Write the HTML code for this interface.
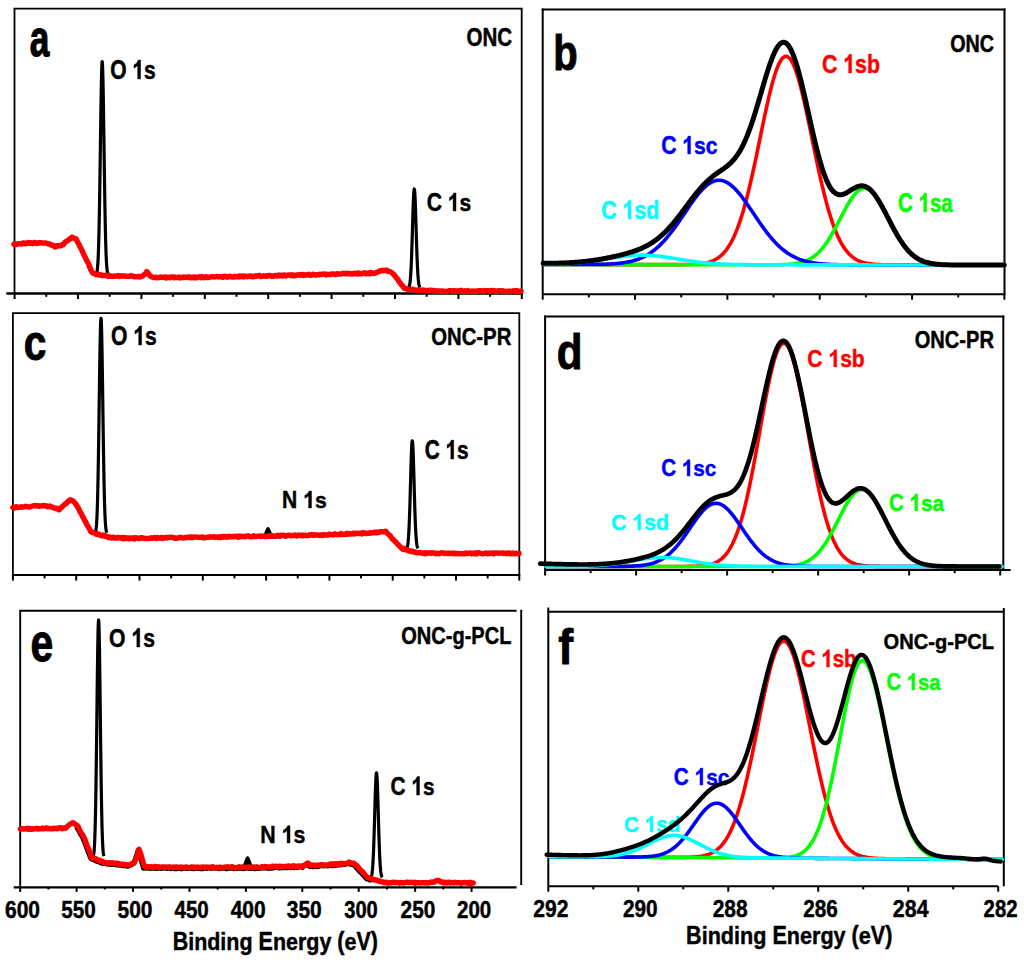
<!DOCTYPE html>
<html><head><meta charset="utf-8"><title>XPS spectra</title>
<style>html,body{margin:0;padding:0;background:#fff;}svg{display:block;}
text{font-family:"Liberation Sans", sans-serif;font-weight:bold;}</style></head>
<body><svg width="1024" height="965" viewBox="0 0 1024 965">
<rect width="1024" height="965" fill="#fff"/>
<g transform="translate(29.84,56.00) scale(0.6529,1)"><text transform="translate(0.00,0) scale(1,0.9446)" font-size="54.04" fill="#000000" stroke="#000000" stroke-width="1.225" stroke-linejoin="round">a</text></g>
<g transform="translate(553.20,70.00) scale(0.7568,1)"><text transform="translate(0.00,0) scale(1,0.9446)" font-size="52.86" fill="#000000" stroke="#000000" stroke-width="1.057" stroke-linejoin="round">b</text></g>
<g transform="translate(23.67,360.00) scale(0.7626,1)"><text transform="translate(0.00,0) scale(1,0.9446)" font-size="53.27" fill="#000000" stroke="#000000" stroke-width="1.049" stroke-linejoin="round">c</text></g>
<g transform="translate(556.81,369.00) scale(0.7856,1)"><text transform="translate(0.00,0) scale(1,0.9446)" font-size="53.71" fill="#000000" stroke="#000000" stroke-width="1.018" stroke-linejoin="round">d</text></g>
<g transform="translate(30.47,661.00) scale(0.7322,1)"><text transform="translate(0.00,0) scale(1,0.9446)" font-size="55.77" fill="#000000" stroke="#000000" stroke-width="1.093" stroke-linejoin="round">e</text></g>
<g transform="translate(558.30,664.00) scale(0.8453,1)"><text transform="translate(0.00,0) scale(1,0.9446)" font-size="53.04" fill="#000000" stroke="#000000" stroke-width="0.946" stroke-linejoin="round">f</text></g>
<g transform="translate(466.58,46.00) scale(0.7915,1)"><text x="0.00" y="0" font-size="25.92" fill="#000000" stroke="#000000" stroke-width="0.505" stroke-linejoin="round" xml:space="preserve">ONC</text></g>
<g transform="translate(950.21,52.00) scale(0.8256,1)"><text x="0.00" y="0" font-size="23.94" fill="#000000" stroke="#000000" stroke-width="0.485" stroke-linejoin="round" xml:space="preserve">ONC</text></g>
<g transform="translate(431.19,345.00) scale(0.8594,1)"><text x="0.00" y="0" font-size="23.66" fill="#000000" stroke="#000000" stroke-width="0.465" stroke-linejoin="round" xml:space="preserve">ONC-PR</text></g>
<g transform="translate(914.70,348.00) scale(0.8347,1)"><text x="0.00" y="0" font-size="24.08" fill="#000000" stroke="#000000" stroke-width="0.479" stroke-linejoin="round" xml:space="preserve">ONC-PR</text></g>
<g transform="translate(401.20,644.00) scale(0.8183,1)"><text x="0.00" y="0" font-size="24.51" fill="#000000" stroke="#000000" stroke-width="0.489" stroke-linejoin="round" xml:space="preserve">ONC-</text><text transform="translate(62.62,0) scale(1,0.9446)" font-size="24.51" fill="#000000" stroke="#000000" stroke-width="0.489" stroke-linejoin="round">g</text><text x="77.59" y="0" font-size="24.51" fill="#000000" stroke="#000000" stroke-width="0.489" stroke-linejoin="round" xml:space="preserve">-PCL</text></g>
<g transform="translate(883.60,649.00) scale(0.9086,1)"><text x="0.00" y="0" font-size="22.11" fill="#000000" stroke="#000000" stroke-width="0.440" stroke-linejoin="round" xml:space="preserve">ONC-</text><text transform="translate(56.50,0) scale(1,0.9446)" font-size="22.11" fill="#000000" stroke="#000000" stroke-width="0.440" stroke-linejoin="round">g</text><text x="70.01" y="0" font-size="22.11" fill="#000000" stroke="#000000" stroke-width="0.440" stroke-linejoin="round" xml:space="preserve">-PCL</text></g>
<g transform="translate(110.16,79.00) scale(0.7836,1)"><text x="0.00" y="0" font-size="26.81" fill="#000000" stroke="#000000" stroke-width="0.510" stroke-linejoin="round" xml:space="preserve">O </text><path transform="translate(28.30,0) scale(0.01309,-0.01283)" d="M803 0L522 0L522 1059Q368 915 159 846L159 1101Q269 1137 398 1237Q527 1338 575 1472L803 1472Z" fill="#000000" stroke="#000000" stroke-width="39.001" stroke-linejoin="round"/><text transform="translate(43.21,0) scale(1,0.9446)" font-size="26.81" fill="#000000" stroke="#000000" stroke-width="0.510" stroke-linejoin="round">s</text></g>
<g transform="translate(426.66,211.00) scale(0.8250,1)"><text x="0.00" y="0" font-size="25.56" fill="#000000" stroke="#000000" stroke-width="0.485" stroke-linejoin="round" xml:space="preserve">C </text><path transform="translate(25.56,0) scale(0.01248,-0.01223)" d="M803 0L522 0L522 1059Q368 915 159 846L159 1101Q269 1137 398 1237Q527 1338 575 1472L803 1472Z" fill="#000000" stroke="#000000" stroke-width="38.855" stroke-linejoin="round"/><text transform="translate(39.77,0) scale(1,0.9446)" font-size="25.56" fill="#000000" stroke="#000000" stroke-width="0.485" stroke-linejoin="round">s</text></g>
<g transform="translate(111.06,345.00) scale(0.7831,1)"><text x="0.00" y="0" font-size="26.94" fill="#000000" stroke="#000000" stroke-width="0.511" stroke-linejoin="round" xml:space="preserve">O </text><path transform="translate(28.44,0) scale(0.01316,-0.01289)" d="M803 0L522 0L522 1059Q368 915 159 846L159 1101Q269 1137 398 1237Q527 1338 575 1472L803 1472Z" fill="#000000" stroke="#000000" stroke-width="38.824" stroke-linejoin="round"/><text transform="translate(43.43,0) scale(1,0.9446)" font-size="26.94" fill="#000000" stroke="#000000" stroke-width="0.511" stroke-linejoin="round">s</text></g>
<g transform="translate(424.67,459.00) scale(0.7774,1)"><text x="0.00" y="0" font-size="26.81" fill="#000000" stroke="#000000" stroke-width="0.515" stroke-linejoin="round" xml:space="preserve">C </text><path transform="translate(26.81,0) scale(0.01309,-0.01283)" d="M803 0L522 0L522 1059Q368 915 159 846L159 1101Q269 1137 398 1237Q527 1338 575 1472L803 1472Z" fill="#000000" stroke="#000000" stroke-width="39.314" stroke-linejoin="round"/><text transform="translate(41.71,0) scale(1,0.9446)" font-size="26.81" fill="#000000" stroke="#000000" stroke-width="0.515" stroke-linejoin="round">s</text></g>
<g transform="translate(282.12,508.00) scale(0.8731,1)"><text x="0.00" y="0" font-size="24.17" fill="#000000" stroke="#000000" stroke-width="0.458" stroke-linejoin="round" xml:space="preserve">N </text><path transform="translate(24.17,0) scale(0.01180,-0.01156)" d="M803 0L522 0L522 1059Q368 915 159 846L159 1101Q269 1137 398 1237Q527 1338 575 1472L803 1472Z" fill="#000000" stroke="#000000" stroke-width="38.825" stroke-linejoin="round"/><text transform="translate(37.61,0) scale(1,0.9446)" font-size="24.17" fill="#000000" stroke="#000000" stroke-width="0.458" stroke-linejoin="round">s</text></g>
<g transform="translate(109.05,647.00) scale(0.7949,1)"><text x="0.00" y="0" font-size="26.67" fill="#000000" stroke="#000000" stroke-width="0.503" stroke-linejoin="round" xml:space="preserve">O </text><path transform="translate(28.15,0) scale(0.01302,-0.01276)" d="M803 0L522 0L522 1059Q368 915 159 846L159 1101Q269 1137 398 1237Q527 1338 575 1472L803 1472Z" fill="#000000" stroke="#000000" stroke-width="38.648" stroke-linejoin="round"/><text transform="translate(42.98,0) scale(1,0.9446)" font-size="26.67" fill="#000000" stroke="#000000" stroke-width="0.503" stroke-linejoin="round">s</text></g>
<g transform="translate(390.57,795.00) scale(0.7961,1)"><text x="0.00" y="0" font-size="26.11" fill="#000000" stroke="#000000" stroke-width="0.502" stroke-linejoin="round" xml:space="preserve">C </text><path transform="translate(26.11,0) scale(0.01275,-0.01249)" d="M803 0L522 0L522 1059Q368 915 159 846L159 1101Q269 1137 398 1237Q527 1338 575 1472L803 1472Z" fill="#000000" stroke="#000000" stroke-width="39.407" stroke-linejoin="round"/><text transform="translate(40.63,0) scale(1,0.9446)" font-size="26.11" fill="#000000" stroke="#000000" stroke-width="0.502" stroke-linejoin="round">s</text></g>
<g transform="translate(260.31,843.00) scale(0.8685,1)"><text x="0.00" y="0" font-size="24.58" fill="#000000" stroke="#000000" stroke-width="0.461" stroke-linejoin="round" xml:space="preserve">N </text><path transform="translate(24.58,0) scale(0.01200,-0.01176)" d="M803 0L522 0L522 1059Q368 915 159 846L159 1101Q269 1137 398 1237Q527 1338 575 1472L803 1472Z" fill="#000000" stroke="#000000" stroke-width="38.370" stroke-linejoin="round"/><text transform="translate(38.26,0) scale(1,0.9446)" font-size="24.58" fill="#000000" stroke="#000000" stroke-width="0.461" stroke-linejoin="round">s</text></g>
<g transform="translate(821.95,73.00) scale(0.8025,1)"><text x="0.00" y="0" font-size="26.53" fill="#ff0000" stroke="#ff0000" stroke-width="0.498" stroke-linejoin="round" xml:space="preserve">C </text><path transform="translate(26.53,0) scale(0.01295,-0.01269)" d="M803 0L522 0L522 1059Q368 915 159 846L159 1101Q269 1137 398 1237Q527 1338 575 1472L803 1472Z" fill="#ff0000" stroke="#ff0000" stroke-width="38.482" stroke-linejoin="round"/><text transform="translate(41.28,0) scale(1,0.9446)" font-size="26.53" fill="#ff0000" stroke="#ff0000" stroke-width="0.498" stroke-linejoin="round">sb</text></g>
<g transform="translate(661.15,154.00) scale(0.8323,1)"><text x="0.00" y="0" font-size="25.42" fill="#0000ff" stroke="#0000ff" stroke-width="0.481" stroke-linejoin="round" xml:space="preserve">C </text><path transform="translate(25.42,0) scale(0.01241,-0.01216)" d="M803 0L522 0L522 1059Q368 915 159 846L159 1101Q269 1137 398 1237Q527 1338 575 1472L803 1472Z" fill="#0000ff" stroke="#0000ff" stroke-width="38.726" stroke-linejoin="round"/><text transform="translate(39.55,0) scale(1,0.9446)" font-size="25.42" fill="#0000ff" stroke="#0000ff" stroke-width="0.481" stroke-linejoin="round">sc</text></g>
<g transform="translate(601.35,219.00) scale(0.7972,1)"><text x="0.00" y="0" font-size="26.67" fill="#00ffff" stroke="#00ffff" stroke-width="0.502" stroke-linejoin="round" xml:space="preserve">C </text><path transform="translate(26.67,0) scale(0.01302,-0.01276)" d="M803 0L522 0L522 1059Q368 915 159 846L159 1101Q269 1137 398 1237Q527 1338 575 1472L803 1472Z" fill="#00ffff" stroke="#00ffff" stroke-width="38.533" stroke-linejoin="round"/><text transform="translate(41.50,0) scale(1,0.9446)" font-size="26.67" fill="#00ffff" stroke="#00ffff" stroke-width="0.502" stroke-linejoin="round">sd</text></g>
<g transform="translate(897.98,212.00) scale(0.7619,1)"><text x="0.00" y="0" font-size="26.94" fill="#00ff00" stroke="#00ff00" stroke-width="0.525" stroke-linejoin="round" xml:space="preserve">C </text><path transform="translate(26.94,0) scale(0.01316,-0.01289)" d="M803 0L522 0L522 1059Q368 915 159 846L159 1101Q269 1137 398 1237Q527 1338 575 1472L803 1472Z" fill="#00ff00" stroke="#00ff00" stroke-width="39.902" stroke-linejoin="round"/><text transform="translate(41.93,0) scale(1,0.9446)" font-size="26.94" fill="#00ff00" stroke="#00ff00" stroke-width="0.525" stroke-linejoin="round">sa</text></g>
<g transform="translate(807.36,367.00) scale(0.8616,1)"><text x="0.00" y="0" font-size="24.44" fill="#ff0000" stroke="#ff0000" stroke-width="0.464" stroke-linejoin="round" xml:space="preserve">C </text><path transform="translate(24.44,0) scale(0.01194,-0.01170)" d="M803 0L522 0L522 1059Q368 915 159 846L159 1101Q269 1137 398 1237Q527 1338 575 1472L803 1472Z" fill="#ff0000" stroke="#ff0000" stroke-width="38.897" stroke-linejoin="round"/><text transform="translate(38.04,0) scale(1,0.9446)" font-size="24.44" fill="#ff0000" stroke="#ff0000" stroke-width="0.464" stroke-linejoin="round">sb</text></g>
<g transform="translate(661.17,476.00) scale(0.8921,1)"><text x="0.00" y="0" font-size="23.19" fill="#0000ff" stroke="#0000ff" stroke-width="0.448" stroke-linejoin="round" xml:space="preserve">C </text><path transform="translate(23.19,0) scale(0.01133,-0.01110)" d="M803 0L522 0L522 1059Q368 915 159 846L159 1101Q269 1137 398 1237Q527 1338 575 1472L803 1472Z" fill="#0000ff" stroke="#0000ff" stroke-width="39.590" stroke-linejoin="round"/><text transform="translate(36.09,0) scale(1,0.9446)" font-size="23.19" fill="#0000ff" stroke="#0000ff" stroke-width="0.448" stroke-linejoin="round">sc</text></g>
<g transform="translate(611.15,530.00) scale(0.9449,1)"><text x="0.00" y="0" font-size="22.50" fill="#00ffff" stroke="#00ffff" stroke-width="0.423" stroke-linejoin="round" xml:space="preserve">C </text><path transform="translate(22.50,0) scale(0.01099,-0.01077)" d="M803 0L522 0L522 1059Q368 915 159 846L159 1101Q269 1137 398 1237Q527 1338 575 1472L803 1472Z" fill="#00ffff" stroke="#00ffff" stroke-width="38.533" stroke-linejoin="round"/><text transform="translate(35.01,0) scale(1,0.9446)" font-size="22.50" fill="#00ffff" stroke="#00ffff" stroke-width="0.423" stroke-linejoin="round">sd</text></g>
<g transform="translate(888.98,511.00) scale(0.8478,1)"><text x="0.00" y="0" font-size="24.31" fill="#00ff00" stroke="#00ff00" stroke-width="0.472" stroke-linejoin="round" xml:space="preserve">C </text><path transform="translate(24.31,0) scale(0.01187,-0.01163)" d="M803 0L522 0L522 1059Q368 915 159 846L159 1101Q269 1137 398 1237Q527 1338 575 1472L803 1472Z" fill="#00ff00" stroke="#00ff00" stroke-width="39.755" stroke-linejoin="round"/><text transform="translate(37.82,0) scale(1,0.9446)" font-size="24.31" fill="#00ff00" stroke="#00ff00" stroke-width="0.472" stroke-linejoin="round">sa</text></g>
<g transform="translate(800.98,667.00) scale(0.8352,1)"><text x="0.00" y="0" font-size="24.44" fill="#ff0000" stroke="#ff0000" stroke-width="0.479" stroke-linejoin="round" xml:space="preserve">C </text><path transform="translate(24.44,0) scale(0.01194,-0.01170)" d="M803 0L522 0L522 1059Q368 915 159 846L159 1101Q269 1137 398 1237Q527 1338 575 1472L803 1472Z" fill="#ff0000" stroke="#ff0000" stroke-width="40.124" stroke-linejoin="round"/><text transform="translate(38.04,0) scale(1,0.9446)" font-size="24.44" fill="#ff0000" stroke="#ff0000" stroke-width="0.479" stroke-linejoin="round">sb</text></g>
<g transform="translate(673.87,785.00) scale(0.8660,1)"><text x="0.00" y="0" font-size="24.03" fill="#0000ff" stroke="#0000ff" stroke-width="0.462" stroke-linejoin="round" xml:space="preserve">C </text><path transform="translate(24.03,0) scale(0.01173,-0.01150)" d="M803 0L522 0L522 1059Q368 915 159 846L159 1101Q269 1137 398 1237Q527 1338 575 1472L803 1472Z" fill="#0000ff" stroke="#0000ff" stroke-width="39.370" stroke-linejoin="round"/><text transform="translate(37.39,0) scale(1,0.9446)" font-size="24.03" fill="#0000ff" stroke="#0000ff" stroke-width="0.462" stroke-linejoin="round">sc</text></g>
<g transform="translate(624.07,832.00) scale(0.9211,1)"><text x="0.00" y="0" font-size="22.50" fill="#00ffff" stroke="#00ffff" stroke-width="0.434" stroke-linejoin="round" xml:space="preserve">C </text><path transform="translate(22.50,0) scale(0.01099,-0.01077)" d="M803 0L522 0L522 1059Q368 915 159 846L159 1101Q269 1137 398 1237Q527 1338 575 1472L803 1472Z" fill="#00ffff" stroke="#00ffff" stroke-width="39.527" stroke-linejoin="round"/><text transform="translate(35.01,0) scale(1,0.9446)" font-size="22.50" fill="#00ffff" stroke="#00ffff" stroke-width="0.434" stroke-linejoin="round">sd</text></g>
<g transform="translate(886.39,690.00) scale(0.8599,1)"><text x="0.00" y="0" font-size="23.61" fill="#00ff00" stroke="#00ff00" stroke-width="0.465" stroke-linejoin="round" xml:space="preserve">C </text><path transform="translate(23.61,0) scale(0.01153,-0.01130)" d="M803 0L522 0L522 1059Q368 915 159 846L159 1101Q269 1137 398 1237Q527 1338 575 1472L803 1472Z" fill="#00ff00" stroke="#00ff00" stroke-width="40.349" stroke-linejoin="round"/><text transform="translate(36.74,0) scale(1,0.9446)" font-size="23.61" fill="#00ff00" stroke="#00ff00" stroke-width="0.465" stroke-linejoin="round">sa</text></g>
<g transform="translate(4.96,918.00) scale(0.8621,1)"><text x="0.00" y="0" font-size="24.37" fill="#000000" stroke="#000000" stroke-width="0.464" stroke-linejoin="round" xml:space="preserve">600</text></g>
<g transform="translate(61.28,918.00) scale(0.8490,1)"><text x="0.00" y="0" font-size="24.37" fill="#000000" stroke="#000000" stroke-width="0.471" stroke-linejoin="round" xml:space="preserve">550</text></g>
<g transform="translate(117.57,918.00) scale(0.8593,1)"><text x="0.00" y="0" font-size="24.37" fill="#000000" stroke="#000000" stroke-width="0.466" stroke-linejoin="round" xml:space="preserve">500</text></g>
<g transform="translate(174.49,918.00) scale(0.8438,1)"><text x="0.00" y="0" font-size="24.37" fill="#000000" stroke="#000000" stroke-width="0.474" stroke-linejoin="round" xml:space="preserve">450</text></g>
<g transform="translate(230.68,918.00) scale(0.8616,1)"><text x="0.00" y="0" font-size="24.37" fill="#000000" stroke="#000000" stroke-width="0.464" stroke-linejoin="round" xml:space="preserve">400</text></g>
<g transform="translate(286.78,918.00) scale(0.8616,1)"><text x="0.00" y="0" font-size="24.37" fill="#000000" stroke="#000000" stroke-width="0.464" stroke-linejoin="round" xml:space="preserve">350</text></g>
<g transform="translate(344.20,918.00) scale(0.8259,1)"><text x="0.00" y="0" font-size="24.37" fill="#000000" stroke="#000000" stroke-width="0.484" stroke-linejoin="round" xml:space="preserve">300</text></g>
<g transform="translate(400.58,918.00) scale(0.8542,1)"><text x="0.00" y="0" font-size="24.37" fill="#000000" stroke="#000000" stroke-width="0.468" stroke-linejoin="round" xml:space="preserve">250</text></g>
<g transform="translate(456.98,918.00) scale(0.8439,1)"><text x="0.00" y="0" font-size="24.37" fill="#000000" stroke="#000000" stroke-width="0.474" stroke-linejoin="round" xml:space="preserve">200</text></g>
<g transform="translate(533.27,917.00) scale(0.8797,1)"><text x="0.00" y="0" font-size="23.94" fill="#000000" stroke="#000000" stroke-width="0.455" stroke-linejoin="round" xml:space="preserve">292</text></g>
<g transform="translate(622.88,917.00) scale(0.8692,1)"><text x="0.00" y="0" font-size="23.94" fill="#000000" stroke="#000000" stroke-width="0.460" stroke-linejoin="round" xml:space="preserve">290</text></g>
<g transform="translate(712.67,917.00) scale(0.8768,1)"><text x="0.00" y="0" font-size="23.94" fill="#000000" stroke="#000000" stroke-width="0.456" stroke-linejoin="round" xml:space="preserve">288</text></g>
<g transform="translate(803.18,917.00) scale(0.8666,1)"><text x="0.00" y="0" font-size="23.94" fill="#000000" stroke="#000000" stroke-width="0.462" stroke-linejoin="round" xml:space="preserve">286</text></g>
<g transform="translate(892.86,917.00) scale(0.8942,1)"><text x="0.00" y="0" font-size="23.94" fill="#000000" stroke="#000000" stroke-width="0.447" stroke-linejoin="round" xml:space="preserve">284</text></g>
<g transform="translate(983.59,917.00) scale(0.8483,1)"><text x="0.00" y="0" font-size="23.94" fill="#000000" stroke="#000000" stroke-width="0.472" stroke-linejoin="round" xml:space="preserve">282</text></g>
<g transform="translate(172.70,950.00) scale(0.8515,1)"><text x="0.00" y="0" font-size="25.22" fill="#000000" stroke="#000000" stroke-width="0.470" stroke-linejoin="round" xml:space="preserve">B</text><text transform="translate(18.21,0) scale(1,0.9446)" font-size="25.22" fill="#000000" stroke="#000000" stroke-width="0.470" stroke-linejoin="round">inding</text><text x="93.84" y="0" font-size="25.22" fill="#000000" stroke="#000000" stroke-width="0.470" stroke-linejoin="round" xml:space="preserve"> E</text><text transform="translate(117.66,0) scale(1,0.9446)" font-size="25.22" fill="#000000" stroke="#000000" stroke-width="0.470" stroke-linejoin="round">nergy</text><text x="186.34" y="0" font-size="25.22" fill="#000000" stroke="#000000" stroke-width="0.470" stroke-linejoin="round" xml:space="preserve"> (</text><text transform="translate(201.74,0) scale(1,0.9446)" font-size="25.22" fill="#000000" stroke="#000000" stroke-width="0.470" stroke-linejoin="round">e</text><text x="215.76" y="0" font-size="25.22" fill="#000000" stroke="#000000" stroke-width="0.470" stroke-linejoin="round" xml:space="preserve">V)</text></g>
<g transform="translate(686.09,944.00) scale(0.8276,1)"><text x="0.00" y="0" font-size="26.09" fill="#000000" stroke="#000000" stroke-width="0.483" stroke-linejoin="round" xml:space="preserve">B</text><text transform="translate(18.84,0) scale(1,0.9446)" font-size="26.09" fill="#000000" stroke="#000000" stroke-width="0.483" stroke-linejoin="round">inding</text><text x="97.07" y="0" font-size="26.09" fill="#000000" stroke="#000000" stroke-width="0.483" stroke-linejoin="round" xml:space="preserve"> E</text><text transform="translate(121.72,0) scale(1,0.9446)" font-size="26.09" fill="#000000" stroke="#000000" stroke-width="0.483" stroke-linejoin="round">nergy</text><text x="192.76" y="0" font-size="26.09" fill="#000000" stroke="#000000" stroke-width="0.483" stroke-linejoin="round" xml:space="preserve"> (</text><text transform="translate(208.70,0) scale(1,0.9446)" font-size="26.09" fill="#000000" stroke="#000000" stroke-width="0.483" stroke-linejoin="round">e</text><text x="223.20" y="0" font-size="26.09" fill="#000000" stroke="#000000" stroke-width="0.483" stroke-linejoin="round" xml:space="preserve">V)</text></g>
<line x1="14.50" y1="8.60" x2="14.50" y2="293.50" stroke="#000000" stroke-width="1.8" stroke-linecap="butt"/>
<line x1="13.60" y1="8.60" x2="522.60" y2="8.60" stroke="#000000" stroke-width="1.8" stroke-linecap="butt"/>
<line x1="521.70" y1="8.60" x2="521.70" y2="293.50" stroke="#000000" stroke-width="1.8" stroke-linecap="butt"/>
<line x1="6.30" y1="293.50" x2="522.60" y2="293.50" stroke="#000000" stroke-width="2.3" stroke-linecap="butt"/>
<line x1="14.60" y1="293.50" x2="14.60" y2="299.00" stroke="#000000" stroke-width="2" stroke-linecap="butt"/>
<line x1="46.30" y1="293.50" x2="46.30" y2="296.80" stroke="#000000" stroke-width="2" stroke-linecap="butt"/>
<line x1="78.00" y1="293.50" x2="78.00" y2="299.00" stroke="#000000" stroke-width="2" stroke-linecap="butt"/>
<line x1="109.70" y1="293.50" x2="109.70" y2="296.80" stroke="#000000" stroke-width="2" stroke-linecap="butt"/>
<line x1="141.40" y1="293.50" x2="141.40" y2="299.00" stroke="#000000" stroke-width="2" stroke-linecap="butt"/>
<line x1="173.10" y1="293.50" x2="173.10" y2="296.80" stroke="#000000" stroke-width="2" stroke-linecap="butt"/>
<line x1="204.80" y1="293.50" x2="204.80" y2="299.00" stroke="#000000" stroke-width="2" stroke-linecap="butt"/>
<line x1="236.50" y1="293.50" x2="236.50" y2="296.80" stroke="#000000" stroke-width="2" stroke-linecap="butt"/>
<line x1="268.20" y1="293.50" x2="268.20" y2="299.00" stroke="#000000" stroke-width="2" stroke-linecap="butt"/>
<line x1="299.90" y1="293.50" x2="299.90" y2="296.80" stroke="#000000" stroke-width="2" stroke-linecap="butt"/>
<line x1="331.60" y1="293.50" x2="331.60" y2="299.00" stroke="#000000" stroke-width="2" stroke-linecap="butt"/>
<line x1="363.30" y1="293.50" x2="363.30" y2="296.80" stroke="#000000" stroke-width="2" stroke-linecap="butt"/>
<line x1="395.00" y1="293.50" x2="395.00" y2="299.00" stroke="#000000" stroke-width="2" stroke-linecap="butt"/>
<line x1="426.70" y1="293.50" x2="426.70" y2="296.80" stroke="#000000" stroke-width="2" stroke-linecap="butt"/>
<line x1="458.40" y1="293.50" x2="458.40" y2="299.00" stroke="#000000" stroke-width="2" stroke-linecap="butt"/>
<line x1="490.10" y1="293.50" x2="490.10" y2="296.80" stroke="#000000" stroke-width="2" stroke-linecap="butt"/>
<line x1="521.80" y1="293.50" x2="521.80" y2="299.00" stroke="#000000" stroke-width="2" stroke-linecap="butt"/>
<line x1="12.90" y1="313.20" x2="12.90" y2="575.00" stroke="#000000" stroke-width="1.8" stroke-linecap="butt"/>
<line x1="12.00" y1="313.20" x2="520.20" y2="313.20" stroke="#000000" stroke-width="1.8" stroke-linecap="butt"/>
<line x1="519.30" y1="313.20" x2="519.30" y2="575.00" stroke="#000000" stroke-width="1.8" stroke-linecap="butt"/>
<line x1="12.00" y1="575.00" x2="520.20" y2="575.00" stroke="#000000" stroke-width="2.1" stroke-linecap="butt"/>
<line x1="12.90" y1="575.00" x2="12.90" y2="580.60" stroke="#000000" stroke-width="2" stroke-linecap="butt"/>
<line x1="44.55" y1="575.00" x2="44.55" y2="578.40" stroke="#000000" stroke-width="2" stroke-linecap="butt"/>
<line x1="76.20" y1="575.00" x2="76.20" y2="580.60" stroke="#000000" stroke-width="2" stroke-linecap="butt"/>
<line x1="107.85" y1="575.00" x2="107.85" y2="578.40" stroke="#000000" stroke-width="2" stroke-linecap="butt"/>
<line x1="139.50" y1="575.00" x2="139.50" y2="580.60" stroke="#000000" stroke-width="2" stroke-linecap="butt"/>
<line x1="171.15" y1="575.00" x2="171.15" y2="578.40" stroke="#000000" stroke-width="2" stroke-linecap="butt"/>
<line x1="202.80" y1="575.00" x2="202.80" y2="580.60" stroke="#000000" stroke-width="2" stroke-linecap="butt"/>
<line x1="234.45" y1="575.00" x2="234.45" y2="578.40" stroke="#000000" stroke-width="2" stroke-linecap="butt"/>
<line x1="266.10" y1="575.00" x2="266.10" y2="580.60" stroke="#000000" stroke-width="2" stroke-linecap="butt"/>
<line x1="297.75" y1="575.00" x2="297.75" y2="578.40" stroke="#000000" stroke-width="2" stroke-linecap="butt"/>
<line x1="329.40" y1="575.00" x2="329.40" y2="580.60" stroke="#000000" stroke-width="2" stroke-linecap="butt"/>
<line x1="361.05" y1="575.00" x2="361.05" y2="578.40" stroke="#000000" stroke-width="2" stroke-linecap="butt"/>
<line x1="392.70" y1="575.00" x2="392.70" y2="580.60" stroke="#000000" stroke-width="2" stroke-linecap="butt"/>
<line x1="424.35" y1="575.00" x2="424.35" y2="578.40" stroke="#000000" stroke-width="2" stroke-linecap="butt"/>
<line x1="456.00" y1="575.00" x2="456.00" y2="580.60" stroke="#000000" stroke-width="2" stroke-linecap="butt"/>
<line x1="487.65" y1="575.00" x2="487.65" y2="578.40" stroke="#000000" stroke-width="2" stroke-linecap="butt"/>
<line x1="519.30" y1="575.00" x2="519.30" y2="580.60" stroke="#000000" stroke-width="2" stroke-linecap="butt"/>
<line x1="20.20" y1="610.70" x2="20.20" y2="887.30" stroke="#000000" stroke-width="1.9" stroke-linecap="butt"/>
<line x1="19.30" y1="610.70" x2="516.60" y2="610.70" stroke="#000000" stroke-width="1.9" stroke-linecap="butt"/>
<line x1="521.20" y1="609.80" x2="521.20" y2="885.00" stroke="#000000" stroke-width="1.9" stroke-linecap="butt"/>
<line x1="13.70" y1="887.30" x2="516.60" y2="887.30" stroke="#000000" stroke-width="2.3" stroke-linecap="butt"/>
<line x1="20.20" y1="887.30" x2="20.20" y2="891.90" stroke="#000000" stroke-width="2" stroke-linecap="butt"/>
<line x1="48.41" y1="887.30" x2="48.41" y2="889.50" stroke="#000000" stroke-width="2" stroke-linecap="butt"/>
<line x1="76.62" y1="887.30" x2="76.62" y2="891.90" stroke="#000000" stroke-width="2" stroke-linecap="butt"/>
<line x1="104.83" y1="887.30" x2="104.83" y2="889.50" stroke="#000000" stroke-width="2" stroke-linecap="butt"/>
<line x1="133.04" y1="887.30" x2="133.04" y2="891.90" stroke="#000000" stroke-width="2" stroke-linecap="butt"/>
<line x1="161.25" y1="887.30" x2="161.25" y2="889.50" stroke="#000000" stroke-width="2" stroke-linecap="butt"/>
<line x1="189.46" y1="887.30" x2="189.46" y2="891.90" stroke="#000000" stroke-width="2" stroke-linecap="butt"/>
<line x1="217.67" y1="887.30" x2="217.67" y2="889.50" stroke="#000000" stroke-width="2" stroke-linecap="butt"/>
<line x1="245.88" y1="887.30" x2="245.88" y2="891.90" stroke="#000000" stroke-width="2" stroke-linecap="butt"/>
<line x1="274.09" y1="887.30" x2="274.09" y2="889.50" stroke="#000000" stroke-width="2" stroke-linecap="butt"/>
<line x1="302.30" y1="887.30" x2="302.30" y2="891.90" stroke="#000000" stroke-width="2" stroke-linecap="butt"/>
<line x1="330.51" y1="887.30" x2="330.51" y2="889.50" stroke="#000000" stroke-width="2" stroke-linecap="butt"/>
<line x1="358.72" y1="887.30" x2="358.72" y2="891.90" stroke="#000000" stroke-width="2" stroke-linecap="butt"/>
<line x1="386.93" y1="887.30" x2="386.93" y2="889.50" stroke="#000000" stroke-width="2" stroke-linecap="butt"/>
<line x1="415.14" y1="887.30" x2="415.14" y2="891.90" stroke="#000000" stroke-width="2" stroke-linecap="butt"/>
<line x1="443.35" y1="887.30" x2="443.35" y2="889.50" stroke="#000000" stroke-width="2" stroke-linecap="butt"/>
<line x1="471.56" y1="887.30" x2="471.56" y2="891.90" stroke="#000000" stroke-width="2" stroke-linecap="butt"/>
<path d="M96.44,273.72 L96.69,273.03 L96.94,272.01 L97.19,270.56 L97.44,268.53 L97.69,265.75 L97.94,262.02 L98.19,257.15 L98.44,250.91 L98.69,243.11 L98.94,233.59 L99.19,222.25 L99.44,209.10 L99.69,194.25 L99.94,177.93 L100.19,160.55 L100.44,142.63 L100.69,124.83 L100.94,107.89 L101.19,92.60 L101.44,79.71 L101.69,69.90 L101.94,63.72 L102.19,61.50 L102.44,63.39 L102.69,69.27 L102.94,78.80 L103.19,91.47 L103.44,106.60 L103.69,123.43 L103.94,141.19 L104.19,159.13 L104.44,176.57 L104.69,192.99 L104.94,207.98 L105.19,221.27 L105.44,232.75 L105.69,242.41 L105.94,250.34 L106.19,256.70 L106.44,261.68 L106.69,265.49 L106.94,268.34 L107.19,270.42 L107.44,271.92 L107.69,272.96 L107.94,273.68" fill="none" stroke="#000000" stroke-width="3.2" stroke-linejoin="round" stroke-linecap="butt" />
<path d="M408.54,287.41 L408.79,287.09 L409.04,286.62 L409.29,285.94 L409.54,285.00 L409.79,283.71 L410.04,281.98 L410.29,279.72 L410.54,276.83 L410.79,273.21 L411.04,268.80 L411.29,263.54 L411.54,257.44 L411.79,250.55 L412.04,242.99 L412.29,234.93 L412.54,226.62 L412.79,218.37 L413.04,210.51 L413.29,203.42 L413.54,197.44 L413.79,192.90 L414.04,190.03 L414.29,189.00 L414.54,189.88 L414.79,192.60 L415.04,197.02 L415.29,202.90 L415.54,209.91 L415.79,217.72 L416.04,225.95 L416.29,234.27 L416.54,242.36 L416.79,249.97 L417.04,256.92 L417.29,263.08 L417.54,268.41 L417.79,272.89 L418.04,276.57 L418.29,279.51 L418.54,281.82 L418.79,283.59 L419.04,284.91 L419.29,285.88 L419.54,286.57 L419.79,287.05 L420.04,287.39" fill="none" stroke="#000000" stroke-width="3.2" stroke-linejoin="round" stroke-linecap="butt" />
<path d="M95.24,532.71 L95.49,532.01 L95.74,530.98 L95.99,529.52 L96.24,527.46 L96.49,524.65 L96.74,520.89 L96.99,515.96 L97.24,509.66 L97.49,501.78 L97.74,492.16 L97.99,480.71 L98.24,467.42 L98.49,452.41 L98.74,435.93 L98.99,418.37 L99.24,400.26 L99.49,382.28 L99.74,365.17 L99.99,349.72 L100.24,336.69 L100.49,326.79 L100.74,320.54 L100.99,318.30 L101.24,320.21 L101.49,326.15 L101.74,335.78 L101.99,348.58 L102.24,363.86 L102.49,380.87 L102.74,398.81 L102.99,416.93 L103.24,434.56 L103.49,451.15 L103.74,466.28 L103.99,479.72 L104.24,491.31 L104.49,501.07 L104.74,509.09 L104.99,515.51 L105.24,520.54 L105.49,524.39 L105.74,527.27 L105.99,529.38 L106.24,530.88 L106.49,531.94 L106.74,532.66" fill="none" stroke="#000000" stroke-width="3.2" stroke-linejoin="round" stroke-linecap="butt" />
<path d="M406.54,548.35 L406.79,548.00 L407.04,547.49 L407.29,546.75 L407.54,545.72 L407.79,544.31 L408.04,542.42 L408.29,539.95 L408.54,536.79 L408.79,532.84 L409.04,528.01 L409.29,522.27 L409.54,515.60 L409.79,508.07 L410.04,499.81 L410.29,491.00 L410.54,481.92 L410.79,472.89 L411.04,464.31 L411.29,456.56 L411.54,450.03 L411.79,445.06 L412.04,441.92 L412.29,440.80 L412.54,441.76 L412.79,444.74 L413.04,449.57 L413.29,455.99 L413.54,463.66 L413.79,472.19 L414.04,481.19 L414.29,490.28 L414.54,499.12 L414.79,507.44 L415.04,515.03 L415.29,521.77 L415.54,527.59 L415.79,532.48 L416.04,536.50 L416.29,539.73 L416.54,542.25 L416.79,544.18 L417.04,545.62 L417.29,546.68 L417.54,547.44 L417.79,547.97 L418.04,548.33" fill="none" stroke="#000000" stroke-width="3.2" stroke-linejoin="round" stroke-linecap="butt" />
<path d="M93.16,856.58 L93.41,855.75 L93.66,854.51 L93.91,852.70 L94.16,850.13 L94.41,846.58 L94.66,841.76 L94.91,835.41 L95.16,827.25 L95.41,817.04 L95.66,804.61 L95.91,789.89 L96.16,772.96 L96.41,754.11 L96.66,733.79 L96.91,712.67 L97.16,691.61 L97.41,671.56 L97.66,653.57 L97.91,638.63 L98.16,627.65 L98.41,621.28 L98.66,619.95 L98.91,623.73 L99.16,632.38 L99.41,645.36 L99.66,661.88 L99.91,680.99 L100.16,701.65 L100.41,722.86 L100.66,743.69 L100.91,763.38 L101.16,781.35 L101.41,797.24 L101.66,810.86 L101.91,822.21 L102.16,831.41 L102.41,838.67 L102.66,844.25 L102.91,848.42 L103.16,851.48 L103.41,853.65 L103.66,855.16 L103.91,856.19" fill="none" stroke="#000000" stroke-width="3.2" stroke-linejoin="round" stroke-linecap="butt" />
<path d="M370.74,877.37 L370.99,877.03 L371.24,876.53 L371.49,875.81 L371.74,874.81 L371.99,873.44 L372.24,871.61 L372.49,869.20 L372.74,866.13 L372.99,862.29 L373.24,857.59 L373.49,852.01 L373.74,845.53 L373.99,838.21 L374.24,830.17 L374.49,821.60 L374.74,812.78 L374.99,804.01 L375.24,795.66 L375.49,788.12 L375.74,781.77 L375.99,776.94 L376.24,773.89 L376.49,772.80 L376.74,773.73 L376.99,776.63 L377.24,781.32 L377.49,787.57 L377.74,795.02 L377.99,803.32 L378.24,812.07 L378.49,820.90 L378.74,829.50 L378.99,837.59 L379.24,844.97 L379.49,851.52 L379.74,857.18 L379.99,861.94 L380.24,865.85 L380.49,868.98 L380.74,871.44 L380.99,873.31 L381.24,874.72 L381.49,875.74 L381.74,876.48 L381.99,877.00 L382.24,877.35" fill="none" stroke="#000000" stroke-width="3.2" stroke-linejoin="round" stroke-linecap="butt" />
<path d="M260.00,537.94 L260.25,537.92 L260.50,537.89 L260.75,537.85 L261.00,537.80 L261.25,537.73 L261.50,537.65 L261.75,537.55 L262.00,537.43 L262.25,537.28 L262.50,537.09 L262.75,536.88 L263.00,536.62 L263.25,536.32 L263.50,535.98 L263.75,535.60 L264.00,535.16 L264.25,534.69 L264.50,534.17 L264.75,533.62 L265.00,533.04 L265.25,532.43 L265.50,531.81 L265.75,531.20 L266.00,530.59 L266.25,530.02 L266.50,529.48 L266.75,529.00 L267.00,528.58 L267.25,528.25 L267.50,528.00 L267.75,527.85 L268.00,527.80 L268.25,527.85 L268.50,528.00 L268.75,528.25 L269.00,528.58 L269.25,529.00 L269.50,529.48 L269.75,530.02 L270.00,530.59 L270.25,531.20 L270.50,531.81 L270.75,532.43 L271.00,533.04 L271.25,533.62 L271.50,534.17 L271.75,534.69 L272.00,535.16 L272.25,535.60 L272.50,535.98 L272.75,536.32 L273.00,536.62 L273.25,536.88 L273.50,537.09 L273.75,537.28 L274.00,537.43 L274.25,537.55 L274.50,537.65 L274.75,537.73 L275.00,537.80 L275.25,537.85 L275.50,537.89 L275.75,537.92 L276.00,537.94Z" fill="#000000" stroke="#000000" stroke-width="1.5" stroke-linejoin="round"/>
<path d="M239.60,867.93 L239.85,867.91 L240.10,867.88 L240.35,867.84 L240.60,867.78 L240.85,867.71 L241.10,867.63 L241.35,867.52 L241.60,867.38 L241.85,867.22 L242.10,867.02 L242.35,866.79 L242.60,866.51 L242.85,866.19 L243.10,865.82 L243.35,865.41 L243.60,864.94 L243.85,864.43 L244.10,863.87 L244.35,863.27 L244.60,862.65 L244.85,861.99 L245.10,861.33 L245.35,860.66 L245.60,860.01 L245.85,859.39 L246.10,858.81 L246.35,858.29 L246.60,857.85 L246.85,857.48 L247.10,857.22 L247.35,857.05 L247.60,857.00 L247.85,857.05 L248.10,857.22 L248.35,857.48 L248.60,857.85 L248.85,858.29 L249.10,858.81 L249.35,859.39 L249.60,860.01 L249.85,860.66 L250.10,861.33 L250.35,861.99 L250.60,862.65 L250.85,863.27 L251.10,863.87 L251.35,864.43 L251.60,864.94 L251.85,865.41 L252.10,865.82 L252.35,866.19 L252.60,866.51 L252.85,866.79 L253.10,867.02 L253.35,867.22 L253.60,867.38 L253.85,867.52 L254.10,867.63 L254.35,867.71 L254.60,867.78 L254.85,867.84 L255.10,867.88 L255.35,867.91 L255.60,867.93Z" fill="#000000" stroke="#000000" stroke-width="1.5" stroke-linejoin="round"/>
<path d="M14.00,244.20 L15.00,243.69 L16.00,244.47 L17.00,244.29 L18.00,243.61 L19.00,243.82 L20.00,243.69 L21.00,243.86 L22.00,243.95 L23.00,243.04 L24.00,242.88 L25.00,243.78 L26.00,243.22 L27.00,243.54 L28.00,242.55 L29.00,243.01 L30.00,243.27 L31.00,242.69 L32.00,243.56 L33.00,243.52 L34.00,242.49 L35.00,242.50 L36.00,243.13 L37.00,243.62 L38.00,242.96 L39.00,242.78 L40.00,243.04 L41.00,242.58 L42.00,242.83 L43.00,243.10 L44.00,243.18 L45.00,242.88 L46.00,243.13 L47.00,243.38 L48.00,243.92 L49.00,243.98 L50.00,243.91 L51.00,245.15 L52.00,245.07 L53.00,245.64 L54.00,245.56 L55.00,246.99 L56.00,246.65 L57.00,245.59 L58.00,245.66 L59.00,245.95 L60.00,245.75 L61.00,245.69 L62.00,244.74 L63.00,244.90 L64.00,243.70 L65.00,242.26 L66.00,241.61 L67.00,240.96 L68.10,240.32 L69.20,239.31 L70.30,238.81 L71.40,237.54 L72.50,237.19 L73.67,238.36 L74.83,238.40 L76.00,238.61 L77.38,241.43 L78.75,243.99 L79.75,246.08 L80.76,247.84 L81.76,250.03 L82.76,252.23 L83.77,254.67 L84.77,256.48 L85.78,258.45 L86.78,260.68 L87.78,262.25 L88.79,264.38 L89.79,267.29 L90.79,269.74 L91.80,271.39 L92.80,273.27 L93.83,273.20 L94.86,273.80 L95.89,274.58 L96.91,274.52 L97.94,274.45 L98.97,275.03 L100.00,274.48 L101.15,274.98 L102.30,275.68 L103.45,275.39 L104.60,275.42 L105.75,275.36 L106.90,275.86 L107.93,276.37 L108.95,275.25 L109.98,276.21 L111.00,276.28 L112.03,276.38 L113.05,276.23 L114.08,276.33 L115.11,276.01 L116.13,276.08 L117.16,275.94 L118.18,275.52 L119.21,276.52 L120.23,276.18 L121.26,275.76 L122.29,276.15 L123.31,276.15 L124.34,276.02 L125.36,276.03 L126.39,276.28 L127.41,276.41 L128.44,276.41 L129.47,276.25 L130.49,275.76 L131.52,276.02 L132.54,275.98 L133.57,276.50 L134.59,276.85 L135.62,276.80 L136.65,276.82 L137.67,276.87 L138.70,276.21 L139.72,276.94 L140.75,276.76 L141.77,276.08 L142.80,276.02 L143.90,274.72 L145.00,274.31 L146.70,271.60 L148.50,273.53 L149.67,275.35 L150.83,276.21 L152.00,277.08 L153.00,277.18 L154.00,277.62 L155.00,277.18 L156.00,277.29 L157.00,277.81 L158.00,277.50 L159.00,277.33 L160.00,277.50 L161.00,276.95 L162.00,277.38 L163.00,277.41 L164.00,277.13 L165.00,277.02 L166.00,277.96 L167.00,277.49 L168.00,277.12 L169.00,277.59 L170.00,277.83 L171.00,276.87 L172.00,276.85 L173.00,277.00 L174.00,277.68 L175.00,277.00 L176.00,277.65 L177.00,277.61 L178.00,277.44 L179.00,277.04 L180.00,277.94 L181.00,277.72 L182.00,277.37 L183.00,277.01 L184.00,277.51 L185.00,277.20 L186.00,277.41 L187.00,277.09 L188.00,277.46 L189.00,276.76 L190.00,277.04 L191.00,277.84 L192.00,277.72 L193.00,277.03 L194.00,277.68 L195.00,277.01 L196.00,277.76 L197.00,277.52 L198.00,277.12 L199.00,276.91 L200.00,276.61 L201.01,277.63 L202.02,276.61 L203.03,277.52 L204.04,277.68 L205.05,277.19 L206.06,276.69 L207.07,277.50 L208.08,277.61 L209.09,277.27 L210.10,277.01 L211.11,276.84 L212.12,276.78 L213.13,276.59 L214.14,277.13 L215.15,276.82 L216.16,276.52 L217.17,276.39 L218.18,277.04 L219.19,276.58 L220.20,276.80 L221.21,276.58 L222.22,277.21 L223.23,277.23 L224.24,276.15 L225.25,276.35 L226.26,276.48 L227.27,277.25 L228.28,276.99 L229.29,276.43 L230.30,276.26 L231.31,276.80 L232.32,276.97 L233.33,277.07 L234.34,276.34 L235.35,276.97 L236.36,276.71 L237.37,276.45 L238.38,277.03 L239.39,276.11 L240.40,276.68 L241.40,275.89 L242.41,275.97 L243.42,276.84 L244.43,275.99 L245.44,276.62 L246.45,276.41 L247.46,276.68 L248.47,276.09 L249.48,276.04 L250.49,275.96 L251.50,276.63 L252.51,276.30 L253.52,276.70 L254.53,276.60 L255.54,275.68 L256.55,276.16 L257.56,275.60 L258.57,275.50 L259.58,275.52 L260.59,276.45 L261.60,276.34 L262.61,276.37 L263.62,275.76 L264.63,276.07 L265.64,276.25 L266.65,275.75 L267.66,275.96 L268.67,275.53 L269.68,275.34 L270.69,275.54 L271.70,276.27 L272.71,275.86 L273.72,276.27 L274.73,275.69 L275.74,275.45 L276.75,276.04 L277.76,276.07 L278.77,275.07 L279.78,275.84 L280.79,275.13 L281.80,275.14 L282.80,276.03 L283.81,274.99 L284.81,275.20 L285.81,276.07 L286.82,275.36 L287.82,274.97 L288.82,275.00 L289.83,275.06 L290.83,275.64 L291.83,274.84 L292.84,275.78 L293.84,275.11 L294.84,275.80 L295.85,275.70 L296.85,274.93 L297.85,274.85 L298.86,275.09 L299.86,274.61 L300.86,275.25 L301.87,274.48 L302.87,274.42 L303.87,275.56 L304.88,274.70 L305.88,275.04 L306.88,274.83 L307.88,274.64 L308.89,274.31 L309.89,275.30 L310.89,275.34 L311.90,275.32 L312.90,274.26 L313.90,274.35 L314.91,274.81 L315.91,275.22 L316.91,274.66 L317.92,274.81 L318.92,274.75 L319.92,274.24 L320.93,274.55 L321.93,274.24 L322.93,274.14 L323.94,273.91 L324.94,274.12 L325.94,274.94 L326.95,274.27 L327.95,274.48 L328.95,274.44 L329.96,274.77 L330.96,274.08 L331.96,273.96 L332.97,273.95 L333.97,273.91 L334.97,274.52 L335.98,274.55 L336.98,273.81 L337.98,273.82 L338.99,274.04 L339.99,274.06 L340.99,274.05 L342.00,273.60 L343.00,273.30 L344.00,273.54 L345.01,273.31 L346.01,273.85 L347.01,273.25 L348.02,273.22 L349.02,273.87 L350.02,273.43 L351.03,274.00 L352.03,273.61 L353.03,274.03 L354.03,273.15 L355.04,273.54 L356.04,273.86 L357.04,272.97 L358.05,273.99 L359.05,273.03 L360.05,273.73 L361.06,273.95 L362.06,273.72 L363.06,273.09 L364.07,272.81 L365.07,273.27 L366.07,273.73 L367.08,272.95 L368.08,273.64 L369.08,272.71 L370.09,273.61 L371.09,272.52 L372.09,272.84 L373.10,273.51 L374.10,273.36 L375.28,273.09 L376.46,272.61 L377.64,272.10 L378.82,271.63 L380.00,270.61 L381.15,270.74 L382.30,270.24 L383.45,270.73 L384.60,270.50 L385.70,270.18 L386.80,270.13 L387.90,271.38 L389.00,271.37 L390.20,271.73 L391.40,272.38 L392.60,273.42 L393.67,274.38 L394.75,275.75 L395.82,277.12 L396.89,278.46 L397.96,279.61 L399.04,281.79 L400.11,282.95 L401.18,284.58 L402.25,285.40 L403.33,287.19 L404.40,288.37 L405.48,288.47 L406.56,288.75 L407.65,289.55 L408.73,289.15 L409.81,289.27 L410.89,289.64 L411.97,289.31 L413.05,289.15 L414.14,289.90 L415.22,289.98 L416.30,290.28 L417.33,290.07 L418.36,290.40 L419.39,290.50 L420.42,289.94 L421.45,290.29 L422.48,290.31 L423.51,290.04 L424.54,290.31 L425.57,290.52 L426.60,290.98 L427.63,291.03 L428.67,290.30 L429.70,290.78 L430.73,290.11 L431.76,290.17 L432.79,290.74 L433.82,291.22 L434.85,290.40 L435.88,291.16 L436.91,291.34 L437.94,290.70 L438.97,291.19 L440.00,291.42 L441.00,290.85 L442.00,291.24 L443.00,291.29 L444.00,291.12 L445.00,291.43 L446.00,291.48 L447.00,291.56 L448.00,291.10 L449.00,290.62 L450.00,290.71 L451.00,290.67 L452.00,291.10 L453.00,291.33 L454.00,290.48 L455.00,291.24 L456.00,291.28 L457.00,290.84 L458.00,291.04 L459.00,290.62 L460.00,291.30 L461.00,290.47 L462.00,291.60 L463.00,291.40 L464.00,291.18 L465.00,290.75 L466.00,291.53 L467.00,291.58 L468.00,290.60 L469.00,291.37 L470.00,291.45 L471.00,291.23 L472.00,291.28 L473.00,290.97 L474.00,291.55 L475.00,291.61 L476.00,290.90 L477.00,291.41 L478.00,290.97 L479.00,290.65 L480.00,290.84 L481.00,290.60 L482.00,291.54 L483.00,291.60 L484.00,290.60 L485.00,291.18 L486.00,290.95 L487.00,290.60 L488.00,290.81 L489.00,290.76 L490.00,291.36 L491.00,290.47 L492.00,290.69 L493.00,290.99 L494.00,290.49 L495.00,291.22 L496.00,291.20 L497.00,291.47 L498.00,290.72 L499.00,290.81 L500.00,291.12 L501.00,290.80 L502.00,291.18 L503.00,290.78 L504.00,291.30 L505.00,291.43 L506.00,291.45 L507.00,291.65 L508.00,291.14 L509.00,291.07 L510.00,291.51 L511.00,291.41 L512.00,291.17 L513.00,290.95 L514.00,290.83 L515.00,290.62 L516.00,291.46 L517.00,290.64 L518.00,291.39 L519.00,291.15 L520.00,291.66 L521.00,291.10" fill="none" stroke="#ff0000" stroke-width="5.4" stroke-linejoin="round" stroke-linecap="round" />
<path d="M12.90,507.50 L13.92,507.98 L14.93,507.91 L15.95,506.77 L16.96,506.74 L17.98,507.58 L18.99,507.39 L20.01,507.25 L21.02,506.75 L22.04,507.04 L23.05,506.97 L24.07,506.88 L25.08,506.31 L26.10,506.57 L27.12,506.46 L28.13,506.79 L29.15,507.05 L30.16,506.93 L31.18,506.38 L32.19,506.19 L33.21,505.91 L34.22,505.57 L35.24,505.49 L36.25,505.95 L37.27,505.71 L38.28,505.72 L39.30,506.27 L40.36,505.89 L41.43,505.98 L42.49,505.65 L43.55,505.45 L44.62,505.86 L45.68,505.69 L46.75,506.19 L47.81,506.83 L48.87,506.50 L49.94,505.96 L51.00,506.87 L52.02,507.12 L53.05,507.41 L54.08,507.98 L55.10,508.17 L56.12,508.56 L57.15,508.40 L58.18,509.51 L59.20,509.85 L60.22,507.98 L61.24,507.79 L62.25,506.83 L63.27,505.62 L64.29,504.79 L65.31,503.83 L66.33,503.45 L67.35,502.03 L68.36,501.52 L69.38,500.03 L70.40,499.76 L71.55,500.53 L72.70,500.75 L73.85,501.63 L75.00,502.80 L76.06,504.52 L77.12,506.19 L78.18,507.83 L79.24,509.90 L80.30,512.31 L81.36,513.62 L82.42,516.46 L83.48,517.65 L84.54,520.37 L85.60,521.60 L86.66,524.34 L87.72,525.99 L88.78,527.70 L89.84,529.67 L90.90,531.78 L92.07,532.27 L93.23,532.51 L94.40,532.95 L95.41,533.59 L96.43,534.37 L97.44,534.27 L98.45,533.88 L99.47,535.05 L100.48,535.21 L101.49,535.70 L102.51,535.12 L103.52,536.05 L104.53,535.50 L105.55,536.49 L106.56,536.31 L107.57,536.53 L108.59,537.58 L109.60,536.93 L110.64,537.49 L111.67,537.94 L112.71,537.27 L113.74,537.29 L114.78,538.15 L115.81,537.66 L116.85,538.07 L117.88,537.31 L118.92,537.76 L119.95,537.59 L120.99,538.25 L122.02,537.61 L123.06,538.71 L124.09,537.65 L125.13,538.56 L126.16,537.77 L127.20,538.11 L128.21,538.76 L129.22,537.96 L130.23,537.98 L131.24,538.58 L132.25,538.19 L133.25,537.77 L134.26,538.89 L135.27,537.87 L136.28,537.72 L137.29,538.08 L138.30,538.39 L139.31,538.53 L140.32,537.76 L141.33,538.01 L142.34,537.63 L143.35,538.12 L144.35,538.49 L145.36,538.44 L146.37,538.62 L147.38,538.43 L148.39,538.55 L149.40,538.35 L150.41,538.05 L151.42,537.74 L152.43,538.25 L153.44,537.83 L154.45,537.55 L155.45,537.96 L156.46,538.45 L157.47,537.54 L158.48,538.08 L159.49,537.84 L160.50,537.97 L161.51,537.51 L162.52,538.47 L163.53,537.62 L164.54,538.02 L165.55,537.79 L166.55,537.29 L167.56,537.92 L168.57,537.41 L169.58,537.30 L170.59,537.25 L171.60,537.39 L172.61,537.30 L173.62,537.93 L174.63,537.77 L175.64,538.33 L176.65,538.25 L177.65,538.31 L178.66,537.38 L179.67,537.62 L180.68,537.38 L181.69,537.77 L182.70,537.80 L183.71,538.00 L184.72,537.87 L185.73,537.32 L186.74,537.50 L187.75,537.61 L188.75,536.97 L189.76,537.00 L190.77,537.43 L191.78,537.06 L192.79,537.78 L193.80,537.19 L194.80,537.00 L195.80,537.08 L196.80,537.12 L197.80,537.08 L198.80,537.42 L199.80,537.34 L200.80,537.13 L201.80,537.51 L202.80,536.97 L203.80,537.79 L204.80,537.84 L205.80,537.53 L206.80,537.16 L207.80,537.23 L208.80,537.30 L209.80,536.64 L210.80,537.06 L211.80,537.17 L212.80,536.74 L213.80,536.61 L214.80,537.44 L215.80,536.90 L216.80,537.06 L217.80,537.53 L218.80,537.13 L219.80,536.73 L220.80,537.54 L221.80,536.79 L222.80,536.34 L223.80,537.12 L224.80,536.40 L225.80,536.63 L226.80,537.25 L227.80,537.03 L228.80,536.22 L229.80,536.72 L230.80,536.65 L231.80,536.72 L232.80,536.37 L233.80,536.81 L234.80,536.17 L235.80,536.40 L236.80,536.49 L237.80,537.14 L238.80,536.09 L239.80,536.89 L240.80,536.19 L241.80,536.63 L242.80,536.39 L243.80,536.46 L244.80,536.78 L245.80,536.33 L246.80,535.99 L247.80,535.97 L248.80,535.90 L249.80,536.80 L250.80,536.53 L251.80,536.89 L252.80,536.55 L253.80,535.73 L254.80,536.47 L255.80,536.59 L256.80,536.51 L257.80,536.22 L258.80,536.03 L259.80,536.13 L260.80,536.52 L261.80,535.86 L262.80,536.15 L263.80,536.07 L264.80,536.63 L265.80,536.43 L266.80,536.56 L267.80,536.42 L268.80,535.76 L269.80,535.66 L270.80,535.95 L271.80,535.65 L272.80,535.83 L273.80,536.11 L274.80,536.38 L275.80,535.96 L276.80,536.22 L277.80,535.34 L278.80,535.63 L279.80,536.38 L280.80,535.34 L281.80,535.64 L282.80,535.20 L283.80,535.20 L284.80,536.15 L285.80,536.25 L286.80,535.82 L287.80,535.17 L288.80,535.36 L289.80,535.26 L290.80,535.76 L291.80,535.76 L292.80,535.45 L293.80,535.53 L294.80,535.01 L295.80,535.51 L296.80,535.98 L297.80,535.73 L298.80,534.92 L299.80,535.40 L300.80,535.62 L301.80,535.05 L302.80,535.79 L303.80,535.25 L304.80,535.52 L305.80,535.14 L306.80,535.83 L307.80,535.56 L308.80,535.29 L309.80,534.75 L310.80,535.09 L311.80,534.58 L312.80,535.23 L313.80,535.56 L314.80,534.70 L315.80,535.07 L316.80,535.02 L317.80,534.91 L318.80,535.25 L319.80,535.48 L320.81,535.17 L321.81,534.85 L322.81,535.40 L323.82,534.60 L324.82,535.06 L325.82,534.92 L326.83,535.00 L327.83,535.07 L328.84,534.28 L329.84,534.71 L330.84,534.41 L331.85,534.69 L332.85,535.02 L333.85,534.57 L334.86,533.79 L335.86,534.29 L336.86,534.55 L337.87,534.71 L338.87,534.39 L339.88,534.55 L340.88,533.56 L341.88,534.63 L342.89,534.33 L343.89,534.15 L344.89,534.46 L345.90,534.40 L346.90,533.42 L347.90,534.24 L348.91,534.14 L349.91,533.42 L350.91,534.04 L351.92,533.81 L352.92,533.29 L353.93,533.99 L354.93,533.15 L355.93,533.68 L356.94,533.43 L357.94,533.17 L358.94,533.51 L359.95,533.35 L360.95,533.00 L361.95,533.87 L362.96,532.76 L363.96,532.64 L364.96,533.18 L365.97,533.56 L366.97,533.30 L367.98,533.38 L368.98,533.02 L369.98,533.21 L370.99,532.76 L371.99,532.64 L372.99,532.88 L374.00,532.27 L375.00,532.30 L376.11,532.89 L377.23,531.98 L378.34,532.46 L379.46,532.28 L380.57,531.61 L381.69,531.72 L382.80,531.64 L383.87,531.94 L384.93,531.26 L386.00,531.50 L387.05,532.85 L388.09,534.04 L389.14,534.93 L390.19,535.69 L391.23,537.44 L392.28,539.02 L393.33,539.39 L394.37,540.69 L395.42,541.60 L396.47,542.76 L397.51,544.37 L398.56,544.79 L399.61,546.29 L400.65,547.19 L401.70,548.35 L402.73,549.12 L403.76,548.43 L404.79,549.65 L405.82,549.35 L406.85,550.08 L407.88,550.58 L408.91,550.72 L409.94,550.73 L410.97,551.59 L412.00,551.01 L413.03,551.83 L414.06,551.71 L415.09,552.05 L416.12,552.60 L417.15,552.71 L418.18,552.67 L419.21,552.46 L420.24,552.54 L421.27,552.98 L422.30,552.88 L423.31,552.94 L424.31,553.75 L425.32,552.74 L426.33,553.59 L427.34,553.07 L428.34,553.05 L429.35,553.00 L430.36,552.71 L431.37,553.17 L432.37,552.82 L433.38,553.15 L434.39,552.98 L435.39,553.70 L436.40,553.74 L437.41,553.16 L438.42,553.40 L439.42,553.75 L440.43,553.03 L441.44,552.76 L442.45,552.93 L443.45,552.87 L444.46,553.46 L445.47,553.10 L446.48,553.08 L447.48,553.61 L448.49,552.93 L449.50,553.63 L450.50,553.42 L451.51,553.14 L452.52,553.65 L453.53,553.08 L454.53,553.72 L455.54,553.78 L456.55,553.27 L457.56,553.50 L458.56,553.81 L459.57,553.57 L460.58,553.58 L461.58,553.72 L462.59,553.81 L463.60,553.59 L464.61,553.86 L465.61,553.04 L466.62,553.44 L467.63,553.50 L468.64,553.14 L469.64,553.17 L470.65,552.91 L471.66,553.85 L472.66,553.13 L473.67,553.28 L474.68,553.78 L475.69,552.93 L476.69,553.87 L477.70,552.87 L478.71,552.75 L479.72,553.14 L480.72,553.15 L481.73,553.82 L482.74,553.78 L483.74,553.64 L484.75,553.25 L485.76,553.38 L486.77,553.02 L487.77,553.74 L488.78,553.21 L489.79,553.08 L490.80,553.51 L491.80,552.92 L492.81,553.13 L493.82,553.86 L494.82,552.86 L495.83,552.92 L496.84,553.00 L497.85,553.06 L498.85,553.26 L499.86,553.06 L500.87,553.17 L501.88,553.06 L502.88,553.05 L503.89,553.50 L504.90,553.17 L505.91,553.22 L506.91,553.70 L507.92,552.85 L508.93,552.95 L509.93,553.80 L510.94,553.30 L511.95,553.72 L512.96,552.95 L513.96,553.42 L514.97,553.81 L515.98,553.20 L516.99,553.72 L517.99,553.53 L519.00,553.40" fill="none" stroke="#ff0000" stroke-width="5.4" stroke-linejoin="round" stroke-linecap="round" />
<path d="M77.15,828.22 L78.30,830.09 L79.45,831.97 L80.60,834.39 L81.75,835.94 L82.90,838.33 L84.01,841.12 L85.13,843.80 L86.24,847.09 L87.36,849.64 L88.47,852.89 L89.59,855.53 L90.70,858.47 L91.76,859.15 L92.82,859.88 L93.88,859.72 L94.93,860.21 L95.99,860.94 L97.05,861.61 L98.11,861.72 L99.17,861.98 L100.23,862.86 L101.28,862.52 L102.34,863.58 L103.40,863.53 L104.42,863.52 L105.43,863.59 L106.45,863.85 L107.47,864.35 L108.48,863.94 L109.50,864.37 L110.52,864.51 L111.53,864.40 L112.55,864.64 L113.57,864.35 L114.58,864.45 L115.60,864.66 L116.62,865.14 L117.63,865.04 L118.65,865.05 L119.67,865.37 L120.68,865.36 L121.70,865.34 L122.72,865.84 L123.73,865.86 L124.75,865.60 L125.77,865.96 L126.78,866.02 L127.80,866.40 L128.98,865.80 L130.16,864.97 L131.34,865.04 L132.52,863.87 L133.70,863.63 L134.80,860.61 L135.90,856.82 L137.00,853.79 L138.10,850.13 L139.55,855.28 L141.00,860.01 L142.25,864.01 L143.50,868.40 L144.51,867.97 L145.53,868.28 L146.54,868.22 L147.56,868.22 L148.57,868.14 L149.59,868.46 L150.60,868.56 L151.61,868.19 L152.63,868.36 L153.64,867.89 L154.66,868.42 L155.67,868.39 L156.69,868.68 L157.70,868.56 L158.71,868.14 L159.73,868.24 L160.74,868.48 L161.76,867.98 L162.77,868.34 L163.79,868.12 L164.80,868.09 L165.81,868.06 L166.83,868.64 L167.84,868.15 L168.86,868.26 L169.87,868.38 L170.89,868.78 L171.90,868.16 L172.91,868.47 L173.93,868.57 L174.94,868.85 L175.96,868.81 L176.97,868.86 L177.99,868.41 L179.00,868.53 L180.00,868.48 L181.00,868.90 L182.00,868.96 L183.00,868.31 L184.00,868.33 L185.00,868.37 L186.00,868.37 L187.00,868.57 L188.00,868.65 L189.00,868.39 L190.00,868.18 L191.00,868.51 L192.00,868.46 L193.00,868.62 L194.00,868.92 L195.00,868.71 L196.00,868.57 L197.00,868.65 L198.00,868.69 L199.00,868.19 L200.00,868.87 L201.00,868.77 L202.00,868.84 L203.00,868.78 L204.00,868.45 L205.00,868.45 L206.00,868.22 L207.00,868.64 L208.00,868.18 L209.00,868.18 L210.00,868.29 L211.00,868.25 L212.00,868.39 L213.00,868.16 L214.00,868.11 L215.00,868.23 L216.00,868.19 L217.00,868.40 L218.00,868.12 L219.00,868.80 L220.00,868.59 L221.00,868.21 L222.00,868.29 L223.00,868.37 L224.00,868.38 L225.00,868.18 L226.00,868.76 L227.00,868.87 L228.00,868.45 L229.00,868.46 L230.00,868.14 L231.00,868.15 L232.00,868.34 L233.00,868.28 L234.00,868.73 L235.00,868.19 L236.00,868.08 L237.00,868.82 L238.00,868.48 L239.00,868.17 L240.00,868.48 L241.00,868.07 L242.00,868.46 L243.00,868.82 L244.00,868.73 L245.00,868.59 L246.00,868.24 L247.00,868.32 L248.00,868.16 L249.00,868.64 L250.00,868.45 L251.00,868.64 L252.00,868.28 L253.00,868.19 L254.00,868.66 L255.00,868.80 L256.00,868.69 L257.00,868.65 L258.00,868.66 L259.00,868.59 L260.00,868.15 L261.01,868.36 L262.01,868.20 L263.02,867.91 L264.02,867.88 L265.03,868.06 L266.03,868.01 L267.04,868.33 L268.04,868.51 L269.05,868.08 L270.05,868.44 L271.06,868.46 L272.06,868.40 L273.07,867.90 L274.07,867.76 L275.07,867.73 L276.08,867.68 L277.08,867.66 L278.09,867.97 L279.09,868.16 L280.10,868.09 L281.10,867.77 L282.11,867.88 L283.11,867.97 L284.12,867.37 L285.12,867.80 L286.13,867.97 L287.13,867.84 L288.13,867.79 L289.14,867.55 L290.14,867.28 L291.15,867.74 L292.15,867.35 L293.16,867.69 L294.16,867.80 L295.17,867.31 L296.17,867.29 L297.18,867.70 L298.18,867.49 L299.19,867.02 L300.19,866.96 L301.20,866.95 L302.20,867.52 L303.30,866.70 L304.40,865.42 L305.50,865.21 L306.60,864.58 L307.73,865.16 L308.87,865.75 L310.00,866.74 L311.00,866.35 L312.00,866.21 L313.00,866.92 L314.00,866.61 L315.00,866.46 L316.00,866.74 L317.00,866.28 L318.00,866.58 L319.00,866.50 L320.00,865.95 L321.00,865.93 L322.00,865.91 L323.00,865.82 L324.00,866.05 L325.00,865.73 L326.00,865.81 L327.00,865.53 L328.00,866.10 L329.00,865.60 L330.00,865.63 L331.00,865.68 L332.00,865.89 L333.00,865.45 L334.00,865.79 L335.00,865.41 L336.00,865.38 L337.00,865.32 L338.00,864.87 L339.00,865.15 L340.01,864.80 L341.02,864.50 L342.03,864.99 L343.04,864.34 L344.05,864.43 L345.06,864.48 L346.07,864.20 L347.08,863.86 L348.09,863.86 L349.10,863.74 L350.33,864.30 L351.55,864.13 L352.77,864.87 L354.00,865.00 L355.06,866.16 L356.12,867.70 L357.18,868.63 L358.23,869.82 L359.29,871.12 L360.35,872.38 L361.41,873.15 L362.47,874.42 L363.52,875.48 L364.58,876.63 L365.64,877.91 L366.70,878.86 L367.74,879.22 L368.77,879.47 L369.81,880.14 L370.84,880.08" fill="none" stroke="#000000" stroke-width="4.800000000000001" stroke-linejoin="round" stroke-linecap="round" />
<path d="M20.30,829.00 L21.32,828.66 L22.33,829.01 L23.35,828.78 L24.36,829.04 L25.38,829.04 L26.39,828.35 L27.41,828.26 L28.42,829.23 L29.44,828.51 L30.46,828.46 L31.47,829.35 L32.49,828.70 L33.50,829.11 L34.52,828.66 L35.53,828.83 L36.55,828.23 L37.56,828.78 L38.58,829.04 L39.60,828.61 L40.61,828.85 L41.63,828.74 L42.64,827.99 L43.66,828.80 L44.67,828.58 L45.69,828.21 L46.70,827.86 L47.72,828.84 L48.74,828.35 L49.75,828.62 L50.77,828.79 L51.78,828.57 L52.80,828.79 L53.81,828.14 L54.83,828.61 L55.84,828.16 L56.86,828.72 L57.88,828.63 L58.89,827.67 L59.91,827.70 L60.92,827.77 L61.94,828.65 L62.95,827.99 L63.97,828.20 L64.98,827.78 L66.00,828.01 L67.00,826.86 L68.00,825.82 L69.00,825.10 L70.00,824.10 L71.03,823.89 L72.07,823.02 L73.10,822.71 L74.40,823.56 L75.70,824.66 L77.00,825.21 L78.15,826.61 L79.30,829.47 L80.45,831.61 L81.60,833.55 L82.75,835.17 L83.90,837.36 L85.01,839.68 L86.13,843.36 L87.24,845.97 L88.36,848.56 L89.47,851.22 L90.59,855.10 L91.70,858.19 L92.76,857.51 L93.82,858.78 L94.88,858.72 L95.93,858.81 L96.99,859.39 L98.05,860.37 L99.11,860.91 L100.17,860.32 L101.23,861.41 L102.28,861.14 L103.34,862.35 L104.40,862.30 L105.42,863.06 L106.43,863.28 L107.45,862.81 L108.47,863.50 L109.48,862.77 L110.50,862.59 L111.52,863.32 L112.53,862.74 L113.55,863.04 L114.57,863.39 L115.58,863.73 L116.60,863.29 L117.62,863.25 L118.63,864.34 L119.65,863.78 L120.67,864.65 L121.68,864.68 L122.70,864.15 L123.72,864.35 L124.73,864.52 L125.75,864.77 L126.77,864.81 L127.78,864.87 L128.80,865.04 L129.98,864.95 L131.16,863.95 L132.34,863.38 L133.52,863.24 L134.70,862.19 L135.80,858.96 L136.90,856.47 L138.00,852.63 L139.10,849.36 L140.55,853.36 L142.00,858.50 L143.25,862.85 L144.50,866.32 L145.51,867.05 L146.53,867.09 L147.54,866.41 L148.56,867.11 L149.57,866.93 L150.59,867.20 L151.60,866.82 L152.61,867.26 L153.63,867.31 L154.64,866.47 L155.66,866.53 L156.67,867.28 L157.69,867.64 L158.70,866.80 L159.71,867.06 L160.73,867.24 L161.74,866.93 L162.76,866.99 L163.77,866.95 L164.79,867.03 L165.80,867.31 L166.81,866.97 L167.83,867.08 L168.84,867.57 L169.86,866.69 L170.87,867.35 L171.89,867.57 L172.90,867.07 L173.91,866.98 L174.93,867.69 L175.94,867.03 L176.96,866.98 L177.97,867.29 L178.99,867.62 L180.00,866.92 L181.00,867.18 L182.00,867.20 L183.00,867.79 L184.00,867.32 L185.00,867.81 L186.00,866.99 L187.00,867.19 L188.00,867.56 L189.00,867.84 L190.00,867.32 L191.00,867.04 L192.00,866.92 L193.00,867.40 L194.00,866.99 L195.00,867.73 L196.00,867.77 L197.00,866.98 L198.00,867.09 L199.00,867.72 L200.00,867.52 L201.00,867.72 L202.00,867.16 L203.00,866.90 L204.00,867.09 L205.00,867.69 L206.00,867.06 L207.00,867.15 L208.00,867.23 L209.00,867.23 L210.00,867.22 L211.00,867.83 L212.00,866.91 L213.00,866.72 L214.00,867.85 L215.00,867.77 L216.00,867.89 L217.00,867.23 L218.00,867.85 L219.00,867.82 L220.00,866.97 L221.00,867.59 L222.00,867.70 L223.00,867.49 L224.00,867.31 L225.00,867.03 L226.00,867.09 L227.00,866.96 L228.00,866.76 L229.00,867.38 L230.00,867.02 L231.00,867.64 L232.00,866.72 L233.00,867.75 L234.00,867.50 L235.00,867.77 L236.00,867.74 L237.00,867.74 L238.00,867.35 L239.00,866.67 L240.00,867.54 L241.00,866.85 L242.00,867.00 L243.00,867.44 L244.00,867.27 L245.00,867.13 L246.00,867.76 L247.00,867.37 L248.00,867.04 L249.00,866.93 L250.00,867.66 L251.00,867.20 L252.00,867.56 L253.00,867.04 L254.00,866.85 L255.00,867.25 L256.00,867.59 L257.00,866.81 L258.00,867.56 L259.00,867.71 L260.00,867.57 L261.00,867.56 L262.01,866.55 L263.01,867.27 L264.02,867.52 L265.02,866.52 L266.03,866.76 L267.03,866.73 L268.04,867.01 L269.04,866.86 L270.05,866.89 L271.05,867.22 L272.06,866.27 L273.06,866.30 L274.07,866.36 L275.07,866.33 L276.07,866.24 L277.08,867.30 L278.08,867.12 L279.09,866.17 L280.09,866.64 L281.10,866.39 L282.10,866.36 L283.11,866.38 L284.11,866.71 L285.12,866.61 L286.12,866.31 L287.13,866.08 L288.13,866.21 L289.13,865.94 L290.14,866.43 L291.14,866.59 L292.15,866.16 L293.15,865.77 L294.16,865.87 L295.16,866.07 L296.17,866.32 L297.17,866.51 L298.18,866.00 L299.18,866.47 L300.19,866.23 L301.19,865.97 L302.20,865.87 L303.20,866.00 L304.30,865.49 L305.40,864.40 L306.50,863.98 L307.60,862.95 L308.73,863.53 L309.87,864.71 L311.00,865.73 L312.00,864.93 L313.00,865.31 L314.00,865.26 L315.00,865.75 L316.00,865.77 L317.00,865.04 L318.00,865.62 L319.00,865.44 L320.00,864.75 L321.00,864.94 L322.00,864.48 L323.00,865.26 L324.00,865.02 L325.00,865.24 L326.00,865.08 L327.00,864.87 L328.00,864.90 L329.00,864.65 L330.00,864.04 L331.00,864.57 L332.00,863.82 L333.00,863.93 L334.00,864.64 L335.00,863.71 L336.00,863.72 L337.00,863.67 L338.00,864.56 L339.00,863.67 L340.00,863.43 L341.01,864.26 L342.02,863.25 L343.03,863.96 L344.04,863.61 L345.05,863.65 L346.06,863.64 L347.07,863.04 L348.08,863.16 L349.09,862.09 L350.10,862.82 L351.33,862.89 L352.55,863.51 L353.77,863.15 L355.00,864.30 L356.06,865.66 L357.12,865.76 L358.18,867.21 L359.23,868.64 L360.29,870.10 L361.35,870.54 L362.41,871.61 L363.47,872.83 L364.52,874.41 L365.58,875.72 L366.64,876.43 L367.70,877.54 L368.74,877.87 L369.77,878.11 L370.81,878.48 L371.84,878.38 L372.88,879.17 L373.91,880.03 L374.95,879.65 L375.98,880.35 L377.02,879.94 L378.05,880.87 L379.09,881.24 L380.12,881.44 L381.16,881.54 L382.19,881.80 L383.23,882.28 L384.26,882.88 L385.30,882.28 L386.32,882.21 L387.33,882.99 L388.35,883.19 L389.36,882.71 L390.38,882.62 L391.40,882.95 L392.41,882.31 L393.43,882.40 L394.44,882.32 L395.46,882.78 L396.48,882.45 L397.49,882.35 L398.51,882.90 L399.52,883.21 L400.54,882.42 L401.55,882.91 L402.57,882.56 L403.59,883.08 L404.60,882.76 L405.62,882.38 L406.63,882.31 L407.65,882.08 L408.67,882.62 L409.68,882.50 L410.70,882.25 L411.71,882.47 L412.73,882.43 L413.75,882.97 L414.76,882.21 L415.78,883.22 L416.79,882.61 L417.81,882.75 L418.82,882.59 L419.84,883.02 L420.86,883.01 L421.87,882.69 L422.89,882.59 L423.90,882.88 L424.92,883.04 L425.94,882.49 L426.95,882.89 L427.97,883.16 L428.98,882.56 L430.00,882.28 L431.00,882.03 L432.00,882.36 L433.00,882.06 L434.00,882.15 L435.00,881.77 L436.00,880.79 L437.00,880.48 L438.00,880.31 L439.00,880.56 L440.00,881.51 L441.00,882.03 L442.00,882.41 L443.00,881.97 L444.00,883.04 L445.01,882.39 L446.01,882.54 L447.02,882.92 L448.03,882.16 L449.03,882.18 L450.04,883.08 L451.05,882.45 L452.06,882.54 L453.06,882.82 L454.07,882.95 L455.08,882.16 L456.08,882.57 L457.09,882.70 L458.10,882.78 L459.10,882.46 L460.11,882.92 L461.12,883.38 L462.12,882.72 L463.13,882.92 L464.14,882.42 L465.14,882.62 L466.15,883.10 L467.16,882.45 L468.17,883.40 L469.17,883.44 L470.18,882.47 L471.19,883.50 L472.19,882.84 L473.20,883.00" fill="none" stroke="#ff0000" stroke-width="5.4" stroke-linejoin="round" stroke-linecap="round" />
<line x1="542.70" y1="8.50" x2="542.70" y2="294.20" stroke="#000000" stroke-width="2.0" stroke-linecap="butt"/>
<line x1="541.70" y1="9.50" x2="1005.50" y2="9.50" stroke="#000000" stroke-width="2.0" stroke-linecap="butt"/>
<line x1="1004.50" y1="8.50" x2="1004.50" y2="294.20" stroke="#000000" stroke-width="2.0" stroke-linecap="butt"/>
<line x1="542.20" y1="294.20" x2="1005.40" y2="294.20" stroke="#000000" stroke-width="2.1" stroke-linecap="butt"/>
<line x1="542.70" y1="294.20" x2="542.70" y2="299.70" stroke="#000000" stroke-width="2" stroke-linecap="butt"/>
<line x1="588.87" y1="294.20" x2="588.87" y2="297.40" stroke="#000000" stroke-width="2" stroke-linecap="butt"/>
<line x1="635.04" y1="294.20" x2="635.04" y2="299.70" stroke="#000000" stroke-width="2" stroke-linecap="butt"/>
<line x1="681.21" y1="294.20" x2="681.21" y2="297.40" stroke="#000000" stroke-width="2" stroke-linecap="butt"/>
<line x1="727.38" y1="294.20" x2="727.38" y2="299.70" stroke="#000000" stroke-width="2" stroke-linecap="butt"/>
<line x1="773.55" y1="294.20" x2="773.55" y2="297.40" stroke="#000000" stroke-width="2" stroke-linecap="butt"/>
<line x1="819.72" y1="294.20" x2="819.72" y2="299.70" stroke="#000000" stroke-width="2" stroke-linecap="butt"/>
<line x1="865.89" y1="294.20" x2="865.89" y2="297.40" stroke="#000000" stroke-width="2" stroke-linecap="butt"/>
<line x1="912.06" y1="294.20" x2="912.06" y2="299.70" stroke="#000000" stroke-width="2" stroke-linecap="butt"/>
<line x1="958.23" y1="294.20" x2="958.23" y2="297.40" stroke="#000000" stroke-width="2" stroke-linecap="butt"/>
<line x1="1004.40" y1="294.20" x2="1004.40" y2="299.70" stroke="#000000" stroke-width="2" stroke-linecap="butt"/>
<path d="M543.70,264.50 L544.70,264.50 L545.70,264.50 L546.70,264.51 L547.70,264.51 L548.70,264.51 L549.70,264.51 L550.70,264.51 L551.70,264.51 L552.70,264.51 L553.70,264.52 L554.70,264.52 L555.70,264.52 L556.70,264.52 L557.70,264.52 L558.70,264.52 L559.70,264.52 L560.70,264.52 L561.70,264.53 L562.70,264.53 L563.70,264.53 L564.70,264.53 L565.70,264.53 L566.70,264.53 L567.70,264.53 L568.70,264.53 L569.70,264.54 L570.70,264.54 L571.70,264.54 L572.70,264.54 L573.70,264.54 L574.70,264.54 L575.70,264.54 L576.70,264.55 L577.70,264.55 L578.70,264.55 L579.70,264.55 L580.70,264.55 L581.70,264.55 L582.70,264.55 L583.70,264.55 L584.70,264.56 L585.70,264.56 L586.70,264.56 L587.70,264.56 L588.70,264.56 L589.70,264.56 L590.70,264.56 L591.70,264.56 L592.70,264.57 L593.70,264.57 L594.70,264.57 L595.70,264.57 L596.70,264.57 L597.70,264.57 L598.70,264.57 L599.70,264.58 L600.70,264.58 L601.70,264.58 L602.70,264.58 L603.70,264.58 L604.70,264.58 L605.70,264.58 L606.70,264.58 L607.70,264.59 L608.70,264.59 L609.70,264.59 L610.70,264.59 L611.70,264.59 L612.70,264.59 L613.70,264.59 L614.70,264.59 L615.70,264.60 L616.70,264.60 L617.70,264.60 L618.70,264.60 L619.70,264.60 L620.70,264.60 L621.70,264.60 L622.70,264.60 L623.70,264.61 L624.70,264.61 L625.70,264.61 L626.70,264.61 L627.70,264.61 L628.70,264.61 L629.70,264.61 L630.70,264.62 L631.70,264.62 L632.70,264.62 L633.70,264.62 L634.70,264.62 L635.70,264.62 L636.70,264.62 L637.70,264.62 L638.70,264.63 L639.70,264.63 L640.70,264.63 L641.70,264.63 L642.70,264.63 L643.70,264.63 L644.70,264.63 L645.70,264.63 L646.70,264.64 L647.70,264.64 L648.70,264.64 L649.70,264.64 L650.70,264.64 L651.70,264.64 L652.70,264.64 L653.70,264.64 L654.70,264.65 L655.70,264.65 L656.70,264.65 L657.70,264.65 L658.70,264.65 L659.70,264.65 L660.70,264.65 L661.70,264.65 L662.70,264.65 L663.70,264.65 L664.70,264.66 L665.70,264.66 L666.70,264.66 L667.70,264.66 L668.70,264.66 L669.70,264.66 L670.70,264.66 L671.70,264.66 L672.70,264.65 L673.70,264.65 L674.70,264.65 L675.70,264.65 L676.70,264.64 L677.70,264.64 L678.70,264.64 L679.70,264.63 L680.70,264.62 L681.70,264.61 L682.70,264.61 L683.70,264.59 L684.70,264.58 L685.70,264.56 L686.70,264.55 L687.70,264.53 L688.70,264.50 L689.70,264.47 L690.70,264.44 L691.70,264.40 L692.70,264.36 L693.70,264.31 L694.70,264.26 L695.70,264.20 L696.70,264.13 L697.70,264.05 L698.70,263.96 L699.70,263.86 L700.70,263.75 L701.70,263.62 L702.70,263.48 L703.70,263.32 L704.70,263.14 L705.70,262.94 L706.70,262.72 L707.70,262.48 L708.70,262.21 L709.70,261.91 L710.70,261.57 L711.70,261.21 L712.70,260.80 L713.70,260.36 L714.70,259.87 L715.70,259.34 L716.70,258.75 L717.70,258.11 L718.70,257.42 L719.70,256.66 L720.70,255.83 L721.70,254.94 L722.70,253.97 L723.70,252.92 L724.70,251.79 L725.70,250.58 L726.70,249.27 L727.70,247.86 L728.70,246.36 L729.70,244.75 L730.70,243.03 L731.70,241.20 L732.70,239.25 L733.70,237.18 L734.70,234.98 L735.70,232.66 L736.70,230.21 L737.70,227.62 L738.70,224.91 L739.70,222.05 L740.70,219.06 L741.70,215.93 L742.70,212.66 L743.70,209.26 L744.70,205.72 L745.70,202.04 L746.70,198.24 L747.70,194.31 L748.70,190.26 L749.70,186.10 L750.70,181.82 L751.70,177.44 L752.70,172.96 L753.70,168.40 L754.70,163.76 L755.70,159.05 L756.70,154.29 L757.70,149.48 L758.70,144.64 L759.70,139.78 L760.70,134.92 L761.70,130.07 L762.70,125.24 L763.70,120.46 L764.70,115.73 L765.70,111.07 L766.70,106.50 L767.70,102.04 L768.70,97.70 L769.70,93.49 L770.70,89.45 L771.70,85.57 L772.70,81.87 L773.70,78.37 L774.70,75.09 L775.70,72.04 L776.70,69.23 L777.70,66.66 L778.70,64.37 L779.70,62.34 L780.70,60.60 L781.70,59.14 L782.70,57.99 L783.70,57.13 L784.70,56.58 L785.70,56.33 L786.70,56.39 L787.70,56.76 L788.70,57.44 L789.70,58.42 L790.70,59.70 L791.70,61.28 L792.70,63.13 L793.70,65.27 L794.70,67.68 L795.70,70.35 L796.70,73.26 L797.70,76.41 L798.70,79.78 L799.70,83.36 L800.70,87.13 L801.70,91.09 L802.70,95.20 L803.70,99.47 L804.70,103.86 L805.70,108.37 L806.70,112.98 L807.70,117.67 L808.70,122.42 L809.70,127.23 L810.70,132.07 L811.70,136.93 L812.70,141.79 L813.70,146.65 L814.70,151.48 L815.70,156.27 L816.70,161.02 L817.70,165.70 L818.70,170.32 L819.70,174.85 L820.70,179.29 L821.70,183.63 L822.70,187.87 L823.70,192.00 L824.70,196.00 L825.70,199.88 L826.70,203.63 L827.70,207.26 L828.70,210.74 L829.70,214.10 L830.70,217.31 L831.70,220.39 L832.70,223.33 L833.70,226.13 L834.70,228.80 L835.70,231.33 L836.70,233.74 L837.70,236.01 L838.70,238.16 L839.70,240.18 L840.70,242.09 L841.70,243.88 L842.70,245.55 L843.70,247.12 L844.70,248.59 L845.70,249.96 L846.70,251.23 L847.70,252.42 L848.70,253.52 L849.70,254.53 L850.70,255.47 L851.70,256.34 L852.70,257.14 L853.70,257.88 L854.70,258.55 L855.70,259.17 L856.70,259.74 L857.70,260.26 L858.70,260.73 L859.70,261.16 L860.70,261.55 L861.70,261.91 L862.70,262.23 L863.70,262.52 L864.70,262.78 L865.70,263.02 L866.70,263.24 L867.70,263.43 L868.70,263.60 L869.70,263.75 L870.70,263.89 L871.70,264.02 L872.70,264.13 L873.70,264.23 L874.70,264.31 L875.70,264.39 L876.70,264.46 L877.70,264.52 L878.70,264.58 L879.70,264.62 L880.70,264.67 L881.70,264.70 L882.70,264.74 L883.70,264.77 L884.70,264.79 L885.70,264.81 L886.70,264.83 L887.70,264.85 L888.70,264.87 L889.70,264.88 L890.70,264.89 L891.70,264.90 L892.70,264.91 L893.70,264.92 L894.70,264.93 L895.70,264.93 L896.70,264.94 L897.70,264.94 L898.70,264.95 L899.70,264.95 L900.70,264.95 L901.70,264.96 L902.70,264.96 L903.70,264.96 L904.70,264.97 L905.70,264.97 L906.70,264.97 L907.70,264.97 L908.70,264.97 L909.70,264.98 L910.70,264.98 L911.70,264.98 L912.70,264.98 L913.70,264.98 L914.70,264.98 L915.70,264.98 L916.70,264.99 L917.70,264.99 L918.70,264.99 L919.70,264.99 L920.70,264.99 L921.70,264.99 L922.70,264.99 L923.70,265.00 L924.70,265.00 L925.70,265.00 L926.70,265.00 L927.70,265.00 L928.70,265.00 L929.70,265.00 L930.70,265.01 L931.70,265.01 L932.70,265.01 L933.70,265.01 L934.70,265.01 L935.70,265.01 L936.70,265.01 L937.70,265.01 L938.70,265.02 L939.70,265.02 L940.70,265.02 L941.70,265.02 L942.70,265.02 L943.70,265.02 L944.70,265.02 L945.70,265.02 L946.70,265.03 L947.70,265.03 L948.70,265.03 L949.70,265.03 L950.70,265.03 L951.70,265.03 L952.70,265.03 L953.70,265.04 L954.70,265.04 L955.70,265.04 L956.70,265.04 L957.70,265.04 L958.70,265.04 L959.70,265.04 L960.70,265.04 L961.70,265.05 L962.70,265.05 L963.70,265.05 L964.70,265.05 L965.70,265.05 L966.70,265.05 L967.70,265.05 L968.70,265.05 L969.70,265.06 L970.70,265.06 L971.70,265.06 L972.70,265.06 L973.70,265.06 L974.70,265.06 L975.70,265.06 L976.70,265.07 L977.70,265.07 L978.70,265.07 L979.70,265.07 L980.70,265.07 L981.70,265.07 L982.70,265.07 L983.70,265.07 L984.70,265.08 L985.70,265.08 L986.70,265.08 L987.70,265.08 L988.70,265.08 L989.70,265.08 L990.70,265.08 L991.70,265.08 L992.70,265.09 L993.70,265.09 L994.70,265.09 L995.70,265.09 L996.70,265.09 L997.70,265.09 L998.70,265.09 L999.70,265.10 L1000.70,265.10 L1001.70,265.10 L1002.70,265.10" fill="none" stroke="#ff0000" stroke-width="3.6" stroke-linejoin="round" stroke-linecap="round" />
<path d="M543.70,264.50 L544.70,264.50 L545.70,264.50 L546.70,264.51 L547.70,264.51 L548.70,264.51 L549.70,264.51 L550.70,264.51 L551.70,264.51 L552.70,264.51 L553.70,264.52 L554.70,264.52 L555.70,264.52 L556.70,264.52 L557.70,264.52 L558.70,264.52 L559.70,264.52 L560.70,264.52 L561.70,264.53 L562.70,264.53 L563.70,264.53 L564.70,264.53 L565.70,264.53 L566.70,264.53 L567.70,264.53 L568.70,264.53 L569.70,264.54 L570.70,264.54 L571.70,264.54 L572.70,264.54 L573.70,264.54 L574.70,264.54 L575.70,264.54 L576.70,264.55 L577.70,264.55 L578.70,264.55 L579.70,264.55 L580.70,264.55 L581.70,264.55 L582.70,264.55 L583.70,264.55 L584.70,264.56 L585.70,264.56 L586.70,264.56 L587.70,264.56 L588.70,264.56 L589.70,264.56 L590.70,264.56 L591.70,264.56 L592.70,264.57 L593.70,264.57 L594.70,264.57 L595.70,264.57 L596.70,264.57 L597.70,264.57 L598.70,264.57 L599.70,264.58 L600.70,264.58 L601.70,264.58 L602.70,264.58 L603.70,264.58 L604.70,264.58 L605.70,264.58 L606.70,264.58 L607.70,264.59 L608.70,264.59 L609.70,264.59 L610.70,264.59 L611.70,264.59 L612.70,264.59 L613.70,264.59 L614.70,264.59 L615.70,264.60 L616.70,264.60 L617.70,264.60 L618.70,264.60 L619.70,264.60 L620.70,264.60 L621.70,264.60 L622.70,264.60 L623.70,264.61 L624.70,264.61 L625.70,264.61 L626.70,264.61 L627.70,264.61 L628.70,264.61 L629.70,264.61 L630.70,264.62 L631.70,264.62 L632.70,264.62 L633.70,264.62 L634.70,264.62 L635.70,264.62 L636.70,264.62 L637.70,264.62 L638.70,264.63 L639.70,264.63 L640.70,264.63 L641.70,264.63 L642.70,264.63 L643.70,264.63 L644.70,264.63 L645.70,264.63 L646.70,264.64 L647.70,264.64 L648.70,264.64 L649.70,264.64 L650.70,264.64 L651.70,264.64 L652.70,264.64 L653.70,264.65 L654.70,264.65 L655.70,264.65 L656.70,264.65 L657.70,264.65 L658.70,264.65 L659.70,264.65 L660.70,264.65 L661.70,264.66 L662.70,264.66 L663.70,264.66 L664.70,264.66 L665.70,264.66 L666.70,264.66 L667.70,264.66 L668.70,264.66 L669.70,264.67 L670.70,264.67 L671.70,264.67 L672.70,264.67 L673.70,264.67 L674.70,264.67 L675.70,264.67 L676.70,264.68 L677.70,264.68 L678.70,264.68 L679.70,264.68 L680.70,264.68 L681.70,264.68 L682.70,264.68 L683.70,264.68 L684.70,264.69 L685.70,264.69 L686.70,264.69 L687.70,264.69 L688.70,264.69 L689.70,264.69 L690.70,264.69 L691.70,264.69 L692.70,264.70 L693.70,264.70 L694.70,264.70 L695.70,264.70 L696.70,264.70 L697.70,264.70 L698.70,264.70 L699.70,264.71 L700.70,264.71 L701.70,264.71 L702.70,264.71 L703.70,264.71 L704.70,264.71 L705.70,264.71 L706.70,264.71 L707.70,264.72 L708.70,264.72 L709.70,264.72 L710.70,264.72 L711.70,264.72 L712.70,264.72 L713.70,264.72 L714.70,264.72 L715.70,264.73 L716.70,264.73 L717.70,264.73 L718.70,264.73 L719.70,264.73 L720.70,264.73 L721.70,264.73 L722.70,264.73 L723.70,264.74 L724.70,264.74 L725.70,264.74 L726.70,264.74 L727.70,264.74 L728.70,264.74 L729.70,264.74 L730.70,264.75 L731.70,264.75 L732.70,264.75 L733.70,264.75 L734.70,264.75 L735.70,264.75 L736.70,264.75 L737.70,264.75 L738.70,264.76 L739.70,264.76 L740.70,264.76 L741.70,264.76 L742.70,264.76 L743.70,264.76 L744.70,264.76 L745.70,264.76 L746.70,264.77 L747.70,264.77 L748.70,264.77 L749.70,264.77 L750.70,264.77 L751.70,264.77 L752.70,264.77 L753.70,264.77 L754.70,264.77 L755.70,264.78 L756.70,264.78 L757.70,264.78 L758.70,264.78 L759.70,264.78 L760.70,264.78 L761.70,264.78 L762.70,264.78 L763.70,264.78 L764.70,264.78 L765.70,264.77 L766.70,264.77 L767.70,264.77 L768.70,264.77 L769.70,264.76 L770.70,264.76 L771.70,264.75 L772.70,264.75 L773.70,264.74 L774.70,264.73 L775.70,264.72 L776.70,264.71 L777.70,264.69 L778.70,264.68 L779.70,264.66 L780.70,264.63 L781.70,264.61 L782.70,264.58 L783.70,264.54 L784.70,264.50 L785.70,264.46 L786.70,264.41 L787.70,264.35 L788.70,264.28 L789.70,264.21 L790.70,264.13 L791.70,264.04 L792.70,263.93 L793.70,263.82 L794.70,263.69 L795.70,263.54 L796.70,263.38 L797.70,263.21 L798.70,263.01 L799.70,262.79 L800.70,262.55 L801.70,262.29 L802.70,262.00 L803.70,261.68 L804.70,261.34 L805.70,260.96 L806.70,260.55 L807.70,260.10 L808.70,259.62 L809.70,259.10 L810.70,258.53 L811.70,257.92 L812.70,257.27 L813.70,256.57 L814.70,255.81 L815.70,255.01 L816.70,254.15 L817.70,253.24 L818.70,252.28 L819.70,251.25 L820.70,250.17 L821.70,249.03 L822.70,247.83 L823.70,246.57 L824.70,245.26 L825.70,243.88 L826.70,242.45 L827.70,240.96 L828.70,239.41 L829.70,237.81 L830.70,236.16 L831.70,234.47 L832.70,232.73 L833.70,230.94 L834.70,229.12 L835.70,227.27 L836.70,225.39 L837.70,223.49 L838.70,221.57 L839.70,219.65 L840.70,217.72 L841.70,215.79 L842.70,213.87 L843.70,211.96 L844.70,210.09 L845.70,208.24 L846.70,206.43 L847.70,204.67 L848.70,202.97 L849.70,201.32 L850.70,199.75 L851.70,198.25 L852.70,196.84 L853.70,195.51 L854.70,194.29 L855.70,193.16 L856.70,192.15 L857.70,191.25 L858.70,190.47 L859.70,189.81 L860.70,189.27 L861.70,188.86 L862.70,188.59 L863.70,188.44 L864.70,188.43 L865.70,188.55 L866.70,188.80 L867.70,189.19 L868.70,189.70 L869.70,190.34 L870.70,191.10 L871.70,191.98 L872.70,192.97 L873.70,194.08 L874.70,195.29 L875.70,196.59 L876.70,197.99 L877.70,199.48 L878.70,201.04 L879.70,202.67 L880.70,204.37 L881.70,206.12 L882.70,207.92 L883.70,209.76 L884.70,211.64 L885.70,213.54 L886.70,215.46 L887.70,217.39 L888.70,219.32 L889.70,221.26 L890.70,223.18 L891.70,225.09 L892.70,226.97 L893.70,228.83 L894.70,230.66 L895.70,232.45 L896.70,234.21 L897.70,235.92 L898.70,237.58 L899.70,239.19 L900.70,240.75 L901.70,242.25 L902.70,243.70 L903.70,245.09 L904.70,246.42 L905.70,247.69 L906.70,248.91 L907.70,250.06 L908.70,251.16 L909.70,252.20 L910.70,253.18 L911.70,254.10 L912.70,254.97 L913.70,255.79 L914.70,256.55 L915.70,257.26 L916.70,257.93 L917.70,258.55 L918.70,259.13 L919.70,259.66 L920.70,260.16 L921.70,260.61 L922.70,261.03 L923.70,261.42 L924.70,261.77 L925.70,262.10 L926.70,262.40 L927.70,262.67 L928.70,262.91 L929.70,263.14 L930.70,263.34 L931.70,263.52 L932.70,263.69 L933.70,263.84 L934.70,263.97 L935.70,264.10 L936.70,264.20 L937.70,264.30 L938.70,264.39 L939.70,264.47 L940.70,264.54 L941.70,264.60 L942.70,264.65 L943.70,264.70 L944.70,264.74 L945.70,264.78 L946.70,264.82 L947.70,264.84 L948.70,264.87 L949.70,264.89 L950.70,264.91 L951.70,264.93 L952.70,264.95 L953.70,264.96 L954.70,264.97 L955.70,264.98 L956.70,264.99 L957.70,265.00 L958.70,265.01 L959.70,265.01 L960.70,265.02 L961.70,265.03 L962.70,265.03 L963.70,265.03 L964.70,265.04 L965.70,265.04 L966.70,265.04 L967.70,265.05 L968.70,265.05 L969.70,265.05 L970.70,265.05 L971.70,265.06 L972.70,265.06 L973.70,265.06 L974.70,265.06 L975.70,265.06 L976.70,265.06 L977.70,265.07 L978.70,265.07 L979.70,265.07 L980.70,265.07 L981.70,265.07 L982.70,265.07 L983.70,265.07 L984.70,265.08 L985.70,265.08 L986.70,265.08 L987.70,265.08 L988.70,265.08 L989.70,265.08 L990.70,265.08 L991.70,265.08 L992.70,265.09 L993.70,265.09 L994.70,265.09 L995.70,265.09 L996.70,265.09 L997.70,265.09 L998.70,265.09 L999.70,265.10 L1000.70,265.10 L1001.70,265.10 L1002.70,265.10" fill="none" stroke="#00ff00" stroke-width="3.6" stroke-linejoin="round" stroke-linecap="round" />
<path d="M543.70,264.50 L544.70,264.50 L545.70,264.50 L546.70,264.51 L547.70,264.51 L548.70,264.51 L549.70,264.51 L550.70,264.51 L551.70,264.51 L552.70,264.51 L553.70,264.51 L554.70,264.52 L555.70,264.52 L556.70,264.52 L557.70,264.52 L558.70,264.52 L559.70,264.52 L560.70,264.52 L561.70,264.52 L562.70,264.52 L563.70,264.52 L564.70,264.53 L565.70,264.53 L566.70,264.53 L567.70,264.53 L568.70,264.53 L569.70,264.53 L570.70,264.53 L571.70,264.53 L572.70,264.53 L573.70,264.53 L574.70,264.53 L575.70,264.53 L576.70,264.53 L577.70,264.53 L578.70,264.53 L579.70,264.52 L580.70,264.52 L581.70,264.52 L582.70,264.52 L583.70,264.52 L584.70,264.51 L585.70,264.51 L586.70,264.50 L587.70,264.50 L588.70,264.49 L589.70,264.49 L590.70,264.48 L591.70,264.47 L592.70,264.46 L593.70,264.45 L594.70,264.44 L595.70,264.43 L596.70,264.41 L597.70,264.40 L598.70,264.38 L599.70,264.36 L600.70,264.34 L601.70,264.32 L602.70,264.29 L603.70,264.26 L604.70,264.23 L605.70,264.20 L606.70,264.16 L607.70,264.12 L608.70,264.08 L609.70,264.03 L610.70,263.98 L611.70,263.92 L612.70,263.86 L613.70,263.79 L614.70,263.72 L615.70,263.64 L616.70,263.56 L617.70,263.46 L618.70,263.37 L619.70,263.26 L620.70,263.14 L621.70,263.02 L622.70,262.89 L623.70,262.74 L624.70,262.59 L625.70,262.43 L626.70,262.25 L627.70,262.06 L628.70,261.86 L629.70,261.65 L630.70,261.42 L631.70,261.18 L632.70,260.92 L633.70,260.64 L634.70,260.35 L635.70,260.04 L636.70,259.71 L637.70,259.36 L638.70,259.00 L639.70,258.61 L640.70,258.20 L641.70,257.76 L642.70,257.31 L643.70,256.83 L644.70,256.32 L645.70,255.79 L646.70,255.23 L647.70,254.65 L648.70,254.04 L649.70,253.40 L650.70,252.73 L651.70,252.04 L652.70,251.31 L653.70,250.55 L654.70,249.77 L655.70,248.95 L656.70,248.10 L657.70,247.22 L658.70,246.31 L659.70,245.36 L660.70,244.39 L661.70,243.38 L662.70,242.34 L663.70,241.27 L664.70,240.17 L665.70,239.04 L666.70,237.88 L667.70,236.69 L668.70,235.47 L669.70,234.23 L670.70,232.95 L671.70,231.66 L672.70,230.33 L673.70,228.99 L674.70,227.62 L675.70,226.23 L676.70,224.83 L677.70,223.40 L678.70,221.96 L679.70,220.51 L680.70,219.05 L681.70,217.58 L682.70,216.10 L683.70,214.62 L684.70,213.14 L685.70,211.65 L686.70,210.17 L687.70,208.70 L688.70,207.23 L689.70,205.78 L690.70,204.33 L691.70,202.91 L692.70,201.50 L693.70,200.12 L694.70,198.76 L695.70,197.43 L696.70,196.13 L697.70,194.87 L698.70,193.64 L699.70,192.44 L700.70,191.30 L701.70,190.19 L702.70,189.13 L703.70,188.12 L704.70,187.17 L705.70,186.26 L706.70,185.42 L707.70,184.63 L708.70,183.90 L709.70,183.23 L710.70,182.63 L711.70,182.09 L712.70,181.62 L713.70,181.21 L714.70,180.88 L715.70,180.61 L716.70,180.41 L717.70,180.29 L718.70,180.23 L719.70,180.25 L720.70,180.33 L721.70,180.49 L722.70,180.72 L723.70,181.02 L724.70,181.38 L725.70,181.82 L726.70,182.32 L727.70,182.89 L728.70,183.52 L729.70,184.21 L730.70,184.97 L731.70,185.78 L732.70,186.65 L733.70,187.58 L734.70,188.56 L735.70,189.59 L736.70,190.67 L737.70,191.80 L738.70,192.97 L739.70,194.18 L740.70,195.42 L741.70,196.71 L742.70,198.02 L743.70,199.37 L744.70,200.74 L745.70,202.13 L746.70,203.55 L747.70,204.98 L748.70,206.43 L749.70,207.90 L750.70,209.37 L751.70,210.85 L752.70,212.33 L753.70,213.82 L754.70,215.31 L755.70,216.79 L756.70,218.27 L757.70,219.74 L758.70,221.20 L759.70,222.65 L760.70,224.08 L761.70,225.50 L762.70,226.90 L763.70,228.29 L764.70,229.65 L765.70,230.99 L766.70,232.30 L767.70,233.59 L768.70,234.86 L769.70,236.09 L770.70,237.30 L771.70,238.49 L772.70,239.64 L773.70,240.76 L774.70,241.85 L775.70,242.91 L776.70,243.94 L777.70,244.93 L778.70,245.90 L779.70,246.83 L780.70,247.74 L781.70,248.61 L782.70,249.45 L783.70,250.25 L784.70,251.03 L785.70,251.78 L786.70,252.50 L787.70,253.18 L788.70,253.84 L789.70,254.47 L790.70,255.07 L791.70,255.65 L792.70,256.20 L793.70,256.72 L794.70,257.22 L795.70,257.69 L796.70,258.14 L797.70,258.57 L798.70,258.97 L799.70,259.36 L800.70,259.72 L801.70,260.06 L802.70,260.38 L803.70,260.69 L804.70,260.98 L805.70,261.25 L806.70,261.50 L807.70,261.74 L808.70,261.97 L809.70,262.18 L810.70,262.38 L811.70,262.56 L812.70,262.74 L813.70,262.90 L814.70,263.05 L815.70,263.19 L816.70,263.32 L817.70,263.45 L818.70,263.56 L819.70,263.67 L820.70,263.77 L821.70,263.86 L822.70,263.94 L823.70,264.02 L824.70,264.09 L825.70,264.16 L826.70,264.22 L827.70,264.28 L828.70,264.33 L829.70,264.38 L830.70,264.43 L831.70,264.47 L832.70,264.51 L833.70,264.54 L834.70,264.58 L835.70,264.60 L836.70,264.63 L837.70,264.66 L838.70,264.68 L839.70,264.70 L840.70,264.72 L841.70,264.74 L842.70,264.75 L843.70,264.77 L844.70,264.78 L845.70,264.80 L846.70,264.81 L847.70,264.82 L848.70,264.83 L849.70,264.84 L850.70,264.84 L851.70,264.85 L852.70,264.86 L853.70,264.86 L854.70,264.87 L855.70,264.87 L856.70,264.88 L857.70,264.88 L858.70,264.89 L859.70,264.89 L860.70,264.90 L861.70,264.90 L862.70,264.90 L863.70,264.91 L864.70,264.91 L865.70,264.91 L866.70,264.91 L867.70,264.92 L868.70,264.92 L869.70,264.92 L870.70,264.92 L871.70,264.92 L872.70,264.93 L873.70,264.93 L874.70,264.93 L875.70,264.93 L876.70,264.93 L877.70,264.93 L878.70,264.94 L879.70,264.94 L880.70,264.94 L881.70,264.94 L882.70,264.94 L883.70,264.94 L884.70,264.94 L885.70,264.95 L886.70,264.95 L887.70,264.95 L888.70,264.95 L889.70,264.95 L890.70,264.95 L891.70,264.95 L892.70,264.96 L893.70,264.96 L894.70,264.96 L895.70,264.96 L896.70,264.96 L897.70,264.96 L898.70,264.96 L899.70,264.96 L900.70,264.97 L901.70,264.97 L902.70,264.97 L903.70,264.97 L904.70,264.97 L905.70,264.97 L906.70,264.97 L907.70,264.98 L908.70,264.98 L909.70,264.98 L910.70,264.98 L911.70,264.98 L912.70,264.98 L913.70,264.98 L914.70,264.98 L915.70,264.99 L916.70,264.99 L917.70,264.99 L918.70,264.99 L919.70,264.99 L920.70,264.99 L921.70,264.99 L922.70,264.99 L923.70,265.00 L924.70,265.00 L925.70,265.00 L926.70,265.00 L927.70,265.00 L928.70,265.00 L929.70,265.00 L930.70,265.01 L931.70,265.01 L932.70,265.01 L933.70,265.01 L934.70,265.01 L935.70,265.01 L936.70,265.01 L937.70,265.01 L938.70,265.02 L939.70,265.02 L940.70,265.02 L941.70,265.02 L942.70,265.02 L943.70,265.02 L944.70,265.02 L945.70,265.02 L946.70,265.03 L947.70,265.03 L948.70,265.03 L949.70,265.03 L950.70,265.03 L951.70,265.03 L952.70,265.03 L953.70,265.04 L954.70,265.04 L955.70,265.04 L956.70,265.04 L957.70,265.04 L958.70,265.04 L959.70,265.04 L960.70,265.04 L961.70,265.05 L962.70,265.05 L963.70,265.05 L964.70,265.05 L965.70,265.05 L966.70,265.05 L967.70,265.05 L968.70,265.05 L969.70,265.06 L970.70,265.06 L971.70,265.06 L972.70,265.06 L973.70,265.06 L974.70,265.06 L975.70,265.06 L976.70,265.07 L977.70,265.07 L978.70,265.07 L979.70,265.07 L980.70,265.07 L981.70,265.07 L982.70,265.07 L983.70,265.07 L984.70,265.08 L985.70,265.08 L986.70,265.08 L987.70,265.08 L988.70,265.08 L989.70,265.08 L990.70,265.08 L991.70,265.08 L992.70,265.09 L993.70,265.09 L994.70,265.09 L995.70,265.09 L996.70,265.09 L997.70,265.09 L998.70,265.09 L999.70,265.10 L1000.70,265.10 L1001.70,265.10 L1002.70,265.10" fill="none" stroke="#0000ff" stroke-width="3.6" stroke-linejoin="round" stroke-linecap="round" />
<path d="M543.70,264.32 L544.70,264.30 L545.70,264.29 L546.70,264.27 L547.70,264.26 L548.70,264.24 L549.70,264.22 L550.70,264.19 L551.70,264.17 L552.70,264.15 L553.70,264.12 L554.70,264.09 L555.70,264.06 L556.70,264.03 L557.70,264.00 L558.70,263.96 L559.70,263.92 L560.70,263.88 L561.70,263.84 L562.70,263.80 L563.70,263.75 L564.70,263.70 L565.70,263.65 L566.70,263.59 L567.70,263.54 L568.70,263.47 L569.70,263.41 L570.70,263.34 L571.70,263.27 L572.70,263.20 L573.70,263.13 L574.70,263.05 L575.70,262.96 L576.70,262.88 L577.70,262.79 L578.70,262.70 L579.70,262.60 L580.70,262.50 L581.70,262.40 L582.70,262.29 L583.70,262.18 L584.70,262.07 L585.70,261.95 L586.70,261.83 L587.70,261.71 L588.70,261.58 L589.70,261.45 L590.70,261.32 L591.70,261.18 L592.70,261.04 L593.70,260.90 L594.70,260.76 L595.70,260.61 L596.70,260.46 L597.70,260.31 L598.70,260.15 L599.70,260.00 L600.70,259.84 L601.70,259.68 L602.70,259.52 L603.70,259.36 L604.70,259.20 L605.70,259.03 L606.70,258.87 L607.70,258.71 L608.70,258.55 L609.70,258.38 L610.70,258.22 L611.70,258.06 L612.70,257.90 L613.70,257.74 L614.70,257.59 L615.70,257.43 L616.70,257.28 L617.70,257.13 L618.70,256.99 L619.70,256.85 L620.70,256.71 L621.70,256.57 L622.70,256.44 L623.70,256.32 L624.70,256.20 L625.70,256.09 L626.70,255.98 L627.70,255.87 L628.70,255.77 L629.70,255.68 L630.70,255.60 L631.70,255.52 L632.70,255.45 L633.70,255.38 L634.70,255.32 L635.70,255.27 L636.70,255.23 L637.70,255.20 L638.70,255.17 L639.70,255.15 L640.70,255.13 L641.70,255.13 L642.70,255.13 L643.70,255.14 L644.70,255.16 L645.70,255.19 L646.70,255.22 L647.70,255.26 L648.70,255.31 L649.70,255.37 L650.70,255.43 L651.70,255.50 L652.70,255.58 L653.70,255.66 L654.70,255.75 L655.70,255.85 L656.70,255.95 L657.70,256.06 L658.70,256.17 L659.70,256.29 L660.70,256.42 L661.70,256.55 L662.70,256.68 L663.70,256.82 L664.70,256.96 L665.70,257.11 L666.70,257.26 L667.70,257.41 L668.70,257.56 L669.70,257.72 L670.70,257.88 L671.70,258.04 L672.70,258.20 L673.70,258.37 L674.70,258.53 L675.70,258.70 L676.70,258.86 L677.70,259.03 L678.70,259.20 L679.70,259.36 L680.70,259.53 L681.70,259.69 L682.70,259.85 L683.70,260.01 L684.70,260.17 L685.70,260.33 L686.70,260.49 L687.70,260.64 L688.70,260.79 L689.70,260.94 L690.70,261.08 L691.70,261.23 L692.70,261.37 L693.70,261.51 L694.70,261.64 L695.70,261.77 L696.70,261.90 L697.70,262.02 L698.70,262.15 L699.70,262.26 L700.70,262.38 L701.70,262.49 L702.70,262.60 L703.70,262.70 L704.70,262.80 L705.70,262.90 L706.70,262.99 L707.70,263.08 L708.70,263.17 L709.70,263.25 L710.70,263.34 L711.70,263.41 L712.70,263.49 L713.70,263.56 L714.70,263.63 L715.70,263.69 L716.70,263.75 L717.70,263.81 L718.70,263.87 L719.70,263.92 L720.70,263.97 L721.70,264.02 L722.70,264.07 L723.70,264.11 L724.70,264.15 L725.70,264.19 L726.70,264.23 L727.70,264.27 L728.70,264.30 L729.70,264.33 L730.70,264.36 L731.70,264.39 L732.70,264.42 L733.70,264.44 L734.70,264.47 L735.70,264.49 L736.70,264.51 L737.70,264.53 L738.70,264.55 L739.70,264.56 L740.70,264.58 L741.70,264.60 L742.70,264.61 L743.70,264.62 L744.70,264.64 L745.70,264.65 L746.70,264.66 L747.70,264.67 L748.70,264.68 L749.70,264.69 L750.70,264.69 L751.70,264.70 L752.70,264.71 L753.70,264.72 L754.70,264.72 L755.70,264.73 L756.70,264.73 L757.70,264.74 L758.70,264.75 L759.70,264.75 L760.70,264.75 L761.70,264.76 L762.70,264.76 L763.70,264.77 L764.70,264.77 L765.70,264.77 L766.70,264.78 L767.70,264.78 L768.70,264.78 L769.70,264.78 L770.70,264.79 L771.70,264.79 L772.70,264.79 L773.70,264.79 L774.70,264.80 L775.70,264.80 L776.70,264.80 L777.70,264.80 L778.70,264.80 L779.70,264.80 L780.70,264.81 L781.70,264.81 L782.70,264.81 L783.70,264.81 L784.70,264.81 L785.70,264.81 L786.70,264.82 L787.70,264.82 L788.70,264.82 L789.70,264.82 L790.70,264.82 L791.70,264.82 L792.70,264.83 L793.70,264.83 L794.70,264.83 L795.70,264.83 L796.70,264.83 L797.70,264.83 L798.70,264.83 L799.70,264.83 L800.70,264.84 L801.70,264.84 L802.70,264.84 L803.70,264.84 L804.70,264.84 L805.70,264.84 L806.70,264.84 L807.70,264.85 L808.70,264.85 L809.70,264.85 L810.70,264.85 L811.70,264.85 L812.70,264.85 L813.70,264.85 L814.70,264.85 L815.70,264.86 L816.70,264.86 L817.70,264.86 L818.70,264.86 L819.70,264.86 L820.70,264.86 L821.70,264.86 L822.70,264.86 L823.70,264.87 L824.70,264.87 L825.70,264.87 L826.70,264.87 L827.70,264.87 L828.70,264.87 L829.70,264.87 L830.70,264.88 L831.70,264.88 L832.70,264.88 L833.70,264.88 L834.70,264.88 L835.70,264.88 L836.70,264.88 L837.70,264.88 L838.70,264.89 L839.70,264.89 L840.70,264.89 L841.70,264.89 L842.70,264.89 L843.70,264.89 L844.70,264.89 L845.70,264.89 L846.70,264.90 L847.70,264.90 L848.70,264.90 L849.70,264.90 L850.70,264.90 L851.70,264.90 L852.70,264.90 L853.70,264.91 L854.70,264.91 L855.70,264.91 L856.70,264.91 L857.70,264.91 L858.70,264.91 L859.70,264.91 L860.70,264.91 L861.70,264.92 L862.70,264.92 L863.70,264.92 L864.70,264.92 L865.70,264.92 L866.70,264.92 L867.70,264.92 L868.70,264.92 L869.70,264.93 L870.70,264.93 L871.70,264.93 L872.70,264.93 L873.70,264.93 L874.70,264.93 L875.70,264.93 L876.70,264.94 L877.70,264.94 L878.70,264.94 L879.70,264.94 L880.70,264.94 L881.70,264.94 L882.70,264.94 L883.70,264.94 L884.70,264.95 L885.70,264.95 L886.70,264.95 L887.70,264.95 L888.70,264.95 L889.70,264.95 L890.70,264.95 L891.70,264.95 L892.70,264.96 L893.70,264.96 L894.70,264.96 L895.70,264.96 L896.70,264.96 L897.70,264.96 L898.70,264.96 L899.70,264.97 L900.70,264.97 L901.70,264.97 L902.70,264.97 L903.70,264.97 L904.70,264.97 L905.70,264.97 L906.70,264.97 L907.70,264.98 L908.70,264.98 L909.70,264.98 L910.70,264.98 L911.70,264.98 L912.70,264.98 L913.70,264.98 L914.70,264.98 L915.70,264.99 L916.70,264.99 L917.70,264.99 L918.70,264.99 L919.70,264.99 L920.70,264.99 L921.70,264.99 L922.70,264.99 L923.70,265.00 L924.70,265.00 L925.70,265.00 L926.70,265.00 L927.70,265.00 L928.70,265.00 L929.70,265.00 L930.70,265.01 L931.70,265.01 L932.70,265.01 L933.70,265.01 L934.70,265.01 L935.70,265.01 L936.70,265.01 L937.70,265.01 L938.70,265.02 L939.70,265.02 L940.70,265.02 L941.70,265.02 L942.70,265.02 L943.70,265.02 L944.70,265.02 L945.70,265.02 L946.70,265.03 L947.70,265.03 L948.70,265.03 L949.70,265.03 L950.70,265.03 L951.70,265.03 L952.70,265.03 L953.70,265.04 L954.70,265.04 L955.70,265.04 L956.70,265.04 L957.70,265.04 L958.70,265.04 L959.70,265.04 L960.70,265.04 L961.70,265.05 L962.70,265.05 L963.70,265.05 L964.70,265.05 L965.70,265.05 L966.70,265.05 L967.70,265.05 L968.70,265.05 L969.70,265.06 L970.70,265.06 L971.70,265.06 L972.70,265.06 L973.70,265.06 L974.70,265.06 L975.70,265.06 L976.70,265.07 L977.70,265.07 L978.70,265.07 L979.70,265.07 L980.70,265.07 L981.70,265.07 L982.70,265.07 L983.70,265.07 L984.70,265.08 L985.70,265.08 L986.70,265.08 L987.70,265.08 L988.70,265.08 L989.70,265.08 L990.70,265.08 L991.70,265.08 L992.70,265.09 L993.70,265.09 L994.70,265.09 L995.70,265.09 L996.70,265.09 L997.70,265.09 L998.70,265.09 L999.70,265.10 L1000.70,265.10 L1001.70,265.10 L1002.70,265.10" fill="none" stroke="#00ffff" stroke-width="3.6" stroke-linejoin="round" stroke-linecap="round" />
<path d="M543.20,263.32 L544.20,263.32 L545.20,263.32 L546.20,263.31 L547.20,263.30 L548.20,263.30 L549.20,263.29 L550.20,263.28 L551.20,263.26 L552.20,263.25 L553.20,263.23 L554.20,263.22 L555.20,263.20 L556.20,263.18 L557.20,263.15 L558.20,263.13 L559.20,263.10 L560.20,263.07 L561.20,263.04 L562.20,263.01 L563.20,262.97 L564.20,262.93 L565.20,262.89 L566.20,262.85 L567.20,262.80 L568.20,262.75 L569.20,262.70 L570.20,262.64 L571.20,262.58 L572.20,262.52 L573.20,262.45 L574.20,262.38 L575.20,262.31 L576.20,262.24 L577.20,262.16 L578.20,262.07 L579.20,261.99 L580.20,261.90 L581.20,261.80 L582.20,261.70 L583.20,261.60 L584.20,261.49 L585.20,261.38 L586.20,261.27 L587.20,261.15 L588.20,261.03 L589.20,260.91 L590.20,260.78 L591.20,260.64 L592.20,260.50 L593.20,260.36 L594.20,260.22 L595.20,260.07 L596.20,259.92 L597.20,259.76 L598.20,259.60 L599.20,259.43 L600.20,259.26 L601.20,259.09 L602.20,258.92 L603.20,258.74 L604.20,258.56 L605.20,258.37 L606.20,258.18 L607.20,257.99 L608.20,257.79 L609.20,257.59 L610.20,257.39 L611.20,257.18 L612.20,256.97 L613.20,256.75 L614.20,256.54 L615.20,256.31 L616.20,256.09 L617.20,255.86 L618.20,255.63 L619.20,255.39 L620.20,255.15 L621.20,254.90 L622.20,254.65 L623.20,254.39 L624.20,254.13 L625.20,253.86 L626.20,253.59 L627.20,253.31 L628.20,253.03 L629.20,252.73 L630.20,252.43 L631.20,252.12 L632.20,251.81 L633.20,251.48 L634.20,251.14 L635.20,250.80 L636.20,250.44 L637.20,250.07 L638.20,249.69 L639.20,249.29 L640.20,248.89 L641.20,248.47 L642.20,248.03 L643.20,247.58 L644.20,247.10 L645.20,246.60 L646.20,246.08 L647.20,245.55 L648.20,245.00 L649.20,244.42 L650.20,243.83 L651.20,243.21 L652.20,242.57 L653.20,241.91 L654.20,241.22 L655.20,240.51 L656.20,239.78 L657.20,239.02 L658.20,238.23 L659.20,237.42 L660.20,236.58 L661.20,235.71 L662.20,234.82 L663.20,233.90 L664.20,232.95 L665.20,231.98 L666.20,230.98 L667.20,229.95 L668.20,228.90 L669.20,227.82 L670.20,226.72 L671.20,225.59 L672.20,224.44 L673.20,223.26 L674.20,222.06 L675.20,220.85 L676.20,219.61 L677.20,218.35 L678.20,217.08 L679.20,215.80 L680.20,214.49 L681.20,213.18 L682.20,211.86 L683.20,210.53 L684.20,209.19 L685.20,207.85 L686.20,206.50 L687.20,205.16 L688.20,203.81 L689.20,202.47 L690.20,201.14 L691.20,199.81 L692.20,198.50 L693.20,197.19 L694.20,195.90 L695.20,194.63 L696.20,193.38 L697.20,192.14 L698.20,190.93 L699.20,189.74 L700.20,188.58 L701.20,187.44 L702.20,186.33 L703.20,185.25 L704.20,184.20 L705.20,183.18 L706.20,182.19 L707.20,181.23 L708.20,180.30 L709.20,179.40 L710.20,178.53 L711.20,177.68 L712.20,176.86 L713.20,176.07 L714.20,175.30 L715.20,174.55 L716.20,173.82 L717.20,173.11 L718.20,172.41 L719.20,171.71 L720.20,171.02 L721.20,170.33 L722.20,169.64 L723.20,168.94 L724.20,168.22 L725.20,167.49 L726.20,166.73 L727.20,165.94 L728.20,165.12 L729.20,164.25 L730.20,163.34 L731.20,162.38 L732.20,161.36 L733.20,160.27 L734.20,159.12 L735.20,157.88 L736.20,156.57 L737.20,155.17 L738.20,153.69 L739.20,152.10 L740.20,150.42 L741.20,148.64 L742.20,146.75 L743.20,144.76 L744.20,142.65 L745.20,140.44 L746.20,138.12 L747.20,135.69 L748.20,133.15 L749.20,130.50 L750.20,127.75 L751.20,124.90 L752.20,121.96 L753.20,118.93 L754.20,115.82 L755.20,112.63 L756.20,109.38 L757.20,106.06 L758.20,102.71 L759.20,99.31 L760.20,95.89 L761.20,92.46 L762.20,89.03 L763.20,85.62 L764.20,82.23 L765.20,78.88 L766.20,75.59 L767.20,72.38 L768.20,69.25 L769.20,66.22 L770.20,63.31 L771.20,60.53 L772.20,57.90 L773.20,55.43 L774.20,53.14 L775.20,51.03 L776.20,49.13 L777.20,47.44 L778.20,45.97 L779.20,44.73 L780.20,43.74 L781.20,43.00 L782.20,42.52 L783.20,42.30 L784.20,42.35 L785.20,42.67 L786.20,43.26 L787.20,44.12 L788.20,45.26 L789.20,46.66 L790.20,48.33 L791.20,50.25 L792.20,52.43 L793.20,54.85 L794.20,57.51 L795.20,60.40 L796.20,63.50 L797.20,66.80 L798.20,70.28 L799.20,73.95 L800.20,77.77 L801.20,81.73 L802.20,85.82 L803.20,90.02 L804.20,94.32 L805.20,98.69 L806.20,103.11 L807.20,107.58 L808.20,112.07 L809.20,116.57 L810.20,121.05 L811.20,125.50 L812.20,129.91 L813.20,134.26 L814.20,138.53 L815.20,142.71 L816.20,146.79 L817.20,150.75 L818.20,154.58 L819.20,158.26 L820.20,161.80 L821.20,165.17 L822.20,168.38 L823.20,171.41 L824.20,174.26 L825.20,176.93 L826.20,179.40 L827.20,181.68 L828.20,183.77 L829.20,185.67 L830.20,187.37 L831.20,188.89 L832.20,190.21 L833.20,191.36 L834.20,192.32 L835.20,193.11 L836.20,193.74 L837.20,194.21 L838.20,194.53 L839.20,194.71 L840.20,194.77 L841.20,194.70 L842.20,194.52 L843.20,194.24 L844.20,193.88 L845.20,193.45 L846.20,192.95 L847.20,192.40 L848.20,191.81 L849.20,191.20 L850.20,190.58 L851.20,189.95 L852.20,189.33 L853.20,188.73 L854.20,188.17 L855.20,187.64 L856.20,187.17 L857.20,186.75 L858.20,186.41 L859.20,186.14 L860.20,185.95 L861.20,185.85 L862.20,185.85 L863.20,185.95 L864.20,186.14 L865.20,186.45 L866.20,186.86 L867.20,187.38 L868.20,188.01 L869.20,188.75 L870.20,189.60 L871.20,190.55 L872.20,191.60 L873.20,192.76 L874.20,194.01 L875.20,195.35 L876.20,196.77 L877.20,198.28 L878.20,199.86 L879.20,201.51 L880.20,203.22 L881.20,204.98 L882.20,206.79 L883.20,208.65 L884.20,210.53 L885.20,212.44 L886.20,214.37 L887.20,216.32 L888.20,218.26 L889.20,220.21 L890.20,222.15 L891.20,224.08 L892.20,225.98 L893.20,227.86 L894.20,229.71 L895.20,231.53 L896.20,233.31 L897.20,235.04 L898.20,236.73 L899.20,238.37 L900.20,239.96 L901.20,241.49 L902.20,242.97 L903.20,244.39 L904.20,245.76 L905.20,247.06 L906.20,248.30 L907.20,249.49 L908.20,250.61 L909.20,251.68 L910.20,252.69 L911.20,253.64 L912.20,254.54 L913.20,255.38 L914.20,256.17 L915.20,256.91 L916.20,257.60 L917.20,258.25 L918.20,258.84 L919.20,259.40 L920.20,259.91 L921.20,260.39 L922.20,260.83 L923.20,261.23 L924.20,261.60 L925.20,261.94 L926.20,262.25 L927.20,262.53 L928.20,262.79 L929.20,263.03 L930.20,263.24 L931.20,263.43 L932.20,263.61 L933.20,263.77 L934.20,263.91 L935.20,264.04 L936.20,264.15 L937.20,264.25 L938.20,264.35 L939.20,264.43 L940.20,264.50 L941.20,264.57 L942.20,264.63 L943.20,264.68 L944.20,264.72 L945.20,264.76 L946.20,264.80 L947.20,264.83 L948.20,264.86 L949.20,264.88 L950.20,264.90 L951.20,264.92 L952.20,264.94 L953.20,264.95 L954.20,264.97 L955.20,264.98 L956.20,264.99 L957.20,265.00 L958.20,265.00 L959.20,265.01 L960.20,265.02 L961.20,265.02 L962.20,265.03 L963.20,265.03 L964.20,265.04 L965.20,265.04 L966.20,265.04 L967.20,265.04 L968.20,265.05 L969.20,265.05 L970.20,265.05 L971.20,265.05 L972.20,265.06 L973.20,265.06 L974.20,265.06 L975.20,265.06 L976.20,265.06 L977.20,265.06 L978.20,265.07 L979.20,265.07 L980.20,265.07 L981.20,265.07 L982.20,265.07 L983.20,265.07 L984.20,265.07 L985.20,265.08 L986.20,265.08 L987.20,265.08 L988.20,265.08 L989.20,265.08 L990.20,265.08 L991.20,265.08 L992.20,265.09 L993.20,265.09 L994.20,265.09 L995.20,265.09 L996.20,265.09 L997.20,265.09 L998.20,265.09 L999.20,265.09 L1000.20,265.10 L1001.20,265.10 L1002.20,265.10 L1003.20,265.10 L1004.20,265.10" fill="none" stroke="#000000" stroke-width="5.0" stroke-linejoin="round" stroke-linecap="round" />
<line x1="545.10" y1="315.50" x2="545.10" y2="570.00" stroke="#000000" stroke-width="2.0" stroke-linecap="butt"/>
<line x1="544.10" y1="316.50" x2="1004.30" y2="316.50" stroke="#000000" stroke-width="2.0" stroke-linecap="butt"/>
<line x1="1003.30" y1="315.50" x2="1003.30" y2="570.00" stroke="#000000" stroke-width="2.0" stroke-linecap="butt"/>
<line x1="544.60" y1="570.00" x2="1010.60" y2="570.00" stroke="#000000" stroke-width="2.1" stroke-linecap="butt"/>
<line x1="545.10" y1="570.00" x2="545.10" y2="575.50" stroke="#000000" stroke-width="2" stroke-linecap="butt"/>
<line x1="590.61" y1="570.00" x2="590.61" y2="573.20" stroke="#000000" stroke-width="2" stroke-linecap="butt"/>
<line x1="636.12" y1="570.00" x2="636.12" y2="575.50" stroke="#000000" stroke-width="2" stroke-linecap="butt"/>
<line x1="681.63" y1="570.00" x2="681.63" y2="573.20" stroke="#000000" stroke-width="2" stroke-linecap="butt"/>
<line x1="727.14" y1="570.00" x2="727.14" y2="575.50" stroke="#000000" stroke-width="2" stroke-linecap="butt"/>
<line x1="772.65" y1="570.00" x2="772.65" y2="573.20" stroke="#000000" stroke-width="2" stroke-linecap="butt"/>
<line x1="818.16" y1="570.00" x2="818.16" y2="575.50" stroke="#000000" stroke-width="2" stroke-linecap="butt"/>
<line x1="863.67" y1="570.00" x2="863.67" y2="573.20" stroke="#000000" stroke-width="2" stroke-linecap="butt"/>
<line x1="909.18" y1="570.00" x2="909.18" y2="575.50" stroke="#000000" stroke-width="2" stroke-linecap="butt"/>
<line x1="954.69" y1="570.00" x2="954.69" y2="573.20" stroke="#000000" stroke-width="2" stroke-linecap="butt"/>
<line x1="1000.20" y1="570.00" x2="1000.20" y2="575.50" stroke="#000000" stroke-width="2" stroke-linecap="butt"/>
<path d="M546.10,566.50 L547.10,566.50 L548.10,566.50 L549.10,566.50 L550.10,566.50 L551.10,566.50 L552.10,566.50 L553.10,566.50 L554.10,566.50 L555.10,566.50 L556.10,566.50 L557.10,566.50 L558.10,566.50 L559.10,566.50 L560.10,566.50 L561.10,566.50 L562.10,566.50 L563.10,566.50 L564.10,566.50 L565.10,566.50 L566.10,566.50 L567.10,566.50 L568.10,566.50 L569.10,566.50 L570.10,566.50 L571.10,566.50 L572.10,566.50 L573.10,566.50 L574.10,566.50 L575.10,566.50 L576.10,566.50 L577.10,566.50 L578.10,566.50 L579.10,566.50 L580.10,566.50 L581.10,566.50 L582.10,566.50 L583.10,566.50 L584.10,566.50 L585.10,566.50 L586.10,566.50 L587.10,566.50 L588.10,566.50 L589.10,566.50 L590.10,566.50 L591.10,566.50 L592.10,566.50 L593.10,566.50 L594.10,566.50 L595.10,566.50 L596.10,566.50 L597.10,566.50 L598.10,566.50 L599.10,566.50 L600.10,566.50 L601.10,566.50 L602.10,566.50 L603.10,566.50 L604.10,566.50 L605.10,566.50 L606.10,566.50 L607.10,566.50 L608.10,566.50 L609.10,566.50 L610.10,566.50 L611.10,566.50 L612.10,566.50 L613.10,566.50 L614.10,566.50 L615.10,566.50 L616.10,566.50 L617.10,566.50 L618.10,566.50 L619.10,566.50 L620.10,566.50 L621.10,566.50 L622.10,566.50 L623.10,566.50 L624.10,566.50 L625.10,566.50 L626.10,566.50 L627.10,566.50 L628.10,566.50 L629.10,566.50 L630.10,566.50 L631.10,566.50 L632.10,566.50 L633.10,566.50 L634.10,566.50 L635.10,566.50 L636.10,566.50 L637.10,566.50 L638.10,566.50 L639.10,566.50 L640.10,566.50 L641.10,566.50 L642.10,566.50 L643.10,566.50 L644.10,566.50 L645.10,566.50 L646.10,566.50 L647.10,566.50 L648.10,566.50 L649.10,566.50 L650.10,566.50 L651.10,566.50 L652.10,566.50 L653.10,566.50 L654.10,566.50 L655.10,566.50 L656.10,566.50 L657.10,566.50 L658.10,566.50 L659.10,566.50 L660.10,566.50 L661.10,566.50 L662.10,566.50 L663.10,566.50 L664.10,566.50 L665.10,566.50 L666.10,566.50 L667.10,566.50 L668.10,566.50 L669.10,566.50 L670.10,566.50 L671.10,566.50 L672.10,566.50 L673.10,566.49 L674.10,566.49 L675.10,566.49 L676.10,566.49 L677.10,566.49 L678.10,566.49 L679.10,566.48 L680.10,566.48 L681.10,566.48 L682.10,566.47 L683.10,566.47 L684.10,566.46 L685.10,566.45 L686.10,566.44 L687.10,566.43 L688.10,566.42 L689.10,566.41 L690.10,566.39 L691.10,566.37 L692.10,566.35 L693.10,566.32 L694.10,566.29 L695.10,566.26 L696.10,566.22 L697.10,566.17 L698.10,566.12 L699.10,566.06 L700.10,565.99 L701.10,565.91 L702.10,565.82 L703.10,565.72 L704.10,565.60 L705.10,565.47 L706.10,565.32 L707.10,565.15 L708.10,564.96 L709.10,564.74 L710.10,564.50 L711.10,564.23 L712.10,563.93 L713.10,563.59 L714.10,563.21 L715.10,562.79 L716.10,562.32 L717.10,561.81 L718.10,561.23 L719.10,560.60 L720.10,559.91 L721.10,559.14 L722.10,558.31 L723.10,557.39 L724.10,556.38 L725.10,555.29 L726.10,554.10 L727.10,552.80 L728.10,551.40 L729.10,549.88 L730.10,548.24 L731.10,546.47 L732.10,544.57 L733.10,542.53 L734.10,540.35 L735.10,538.02 L736.10,535.53 L737.10,532.89 L738.10,530.08 L739.10,527.11 L740.10,523.96 L741.10,520.65 L742.10,517.17 L743.10,513.51 L744.10,509.68 L745.10,505.68 L746.10,501.51 L747.10,497.17 L748.10,492.67 L749.10,488.02 L750.10,483.22 L751.10,478.28 L752.10,473.20 L753.10,468.01 L754.10,462.71 L755.10,457.31 L756.10,451.83 L757.10,446.29 L758.10,440.70 L759.10,435.07 L760.10,429.43 L761.10,423.80 L762.10,418.19 L763.10,412.63 L764.10,407.14 L765.10,401.74 L766.10,396.45 L767.10,391.29 L768.10,386.29 L769.10,381.48 L770.10,376.86 L771.10,372.46 L772.10,368.31 L773.10,364.42 L774.10,360.81 L775.10,357.49 L776.10,354.50 L777.10,351.83 L778.10,349.51 L779.10,347.54 L780.10,345.94 L781.10,344.71 L782.10,343.86 L783.10,343.39 L784.10,343.32 L785.10,343.63 L786.10,344.32 L787.10,345.40 L788.10,346.85 L789.10,348.68 L790.10,350.86 L791.10,353.39 L792.10,356.26 L793.10,359.44 L794.10,362.94 L795.10,366.72 L796.10,370.77 L797.10,375.07 L798.10,379.60 L799.10,384.34 L800.10,389.27 L801.10,394.37 L802.10,399.60 L803.10,404.96 L804.10,410.42 L805.10,415.96 L806.10,421.55 L807.10,427.17 L808.10,432.81 L809.10,438.45 L810.10,444.06 L811.10,449.62 L812.10,455.13 L813.10,460.56 L814.10,465.90 L815.10,471.14 L816.10,476.26 L817.10,481.26 L818.10,486.12 L819.10,490.83 L820.10,495.39 L821.10,499.79 L822.10,504.03 L823.10,508.10 L824.10,512.00 L825.10,515.72 L826.10,519.28 L827.10,522.66 L828.10,525.87 L829.10,528.91 L830.10,531.78 L831.10,534.49 L832.10,537.04 L833.10,539.43 L834.10,541.68 L835.10,543.77 L836.10,545.73 L837.10,547.55 L838.10,549.24 L839.10,550.80 L840.10,552.25 L841.10,553.59 L842.10,554.82 L843.10,555.96 L844.10,557.00 L845.10,557.95 L846.10,558.82 L847.10,559.61 L848.10,560.33 L849.10,560.99 L850.10,561.58 L851.10,562.12 L852.10,562.61 L853.10,563.05 L854.10,563.44 L855.10,563.79 L856.10,564.11 L857.10,564.40 L858.10,564.65 L859.10,564.87 L860.10,565.07 L861.10,565.25 L862.10,565.41 L863.10,565.55 L864.10,565.67 L865.10,565.78 L866.10,565.88 L867.10,565.96 L868.10,566.03 L869.10,566.10 L870.10,566.15 L871.10,566.20 L872.10,566.24 L873.10,566.28 L874.10,566.31 L875.10,566.34 L876.10,566.36 L877.10,566.38 L878.10,566.40 L879.10,566.42 L880.10,566.43 L881.10,566.44 L882.10,566.45 L883.10,566.46 L884.10,566.46 L885.10,566.47 L886.10,566.47 L887.10,566.48 L888.10,566.48 L889.10,566.49 L890.10,566.49 L891.10,566.49 L892.10,566.49 L893.10,566.49 L894.10,566.49 L895.10,566.50 L896.10,566.50 L897.10,566.50 L898.10,566.50 L899.10,566.50 L900.10,566.50 L901.10,566.50 L902.10,566.50 L903.10,566.50 L904.10,566.50 L905.10,566.50 L906.10,566.50 L907.10,566.50 L908.10,566.50 L909.10,566.50 L910.10,566.50 L911.10,566.50 L912.10,566.50 L913.10,566.50 L914.10,566.50 L915.10,566.50 L916.10,566.50 L917.10,566.50 L918.10,566.50 L919.10,566.50 L920.10,566.50 L921.10,566.50 L922.10,566.50 L923.10,566.50 L924.10,566.50 L925.10,566.50 L926.10,566.50 L927.10,566.50 L928.10,566.50 L929.10,566.50 L930.10,566.50 L931.10,566.50 L932.10,566.50 L933.10,566.50 L934.10,566.50 L935.10,566.50 L936.10,566.50 L937.10,566.50 L938.10,566.50 L939.10,566.50 L940.10,566.50 L941.10,566.50 L942.10,566.50 L943.10,566.50 L944.10,566.50 L945.10,566.50 L946.10,566.50 L947.10,566.50 L948.10,566.50 L949.10,566.50 L950.10,566.50 L951.10,566.50 L952.10,566.50 L953.10,566.50 L954.10,566.50 L955.10,566.50 L956.10,566.50 L957.10,566.50 L958.10,566.50 L959.10,566.50 L960.10,566.50 L961.10,566.50 L962.10,566.50 L963.10,566.50 L964.10,566.50 L965.10,566.50 L966.10,566.50 L967.10,566.50 L968.10,566.50 L969.10,566.50 L970.10,566.50 L971.10,566.50 L972.10,566.50 L973.10,566.50 L974.10,566.50 L975.10,566.50 L976.10,566.50 L977.10,566.50 L978.10,566.50 L979.10,566.50 L980.10,566.50 L981.10,566.50 L982.10,566.50 L983.10,566.50 L984.10,566.50 L985.10,566.50 L986.10,566.50 L987.10,566.50 L988.10,566.50 L989.10,566.50 L990.10,566.50 L991.10,566.50 L992.10,566.50 L993.10,566.50 L994.10,566.50 L995.10,566.50 L996.10,566.50 L997.10,566.50 L998.10,566.50 L999.10,566.50 L1000.10,566.50 L1001.10,566.50 L1002.10,566.50" fill="none" stroke="#ff0000" stroke-width="3.6" stroke-linejoin="round" stroke-linecap="round" />
<path d="M546.10,566.50 L547.10,566.50 L548.10,566.50 L549.10,566.50 L550.10,566.50 L551.10,566.50 L552.10,566.50 L553.10,566.50 L554.10,566.50 L555.10,566.50 L556.10,566.50 L557.10,566.50 L558.10,566.50 L559.10,566.50 L560.10,566.50 L561.10,566.50 L562.10,566.50 L563.10,566.50 L564.10,566.50 L565.10,566.50 L566.10,566.50 L567.10,566.50 L568.10,566.50 L569.10,566.50 L570.10,566.50 L571.10,566.50 L572.10,566.50 L573.10,566.50 L574.10,566.50 L575.10,566.50 L576.10,566.50 L577.10,566.50 L578.10,566.50 L579.10,566.50 L580.10,566.50 L581.10,566.50 L582.10,566.50 L583.10,566.50 L584.10,566.50 L585.10,566.50 L586.10,566.50 L587.10,566.50 L588.10,566.50 L589.10,566.50 L590.10,566.50 L591.10,566.50 L592.10,566.50 L593.10,566.50 L594.10,566.50 L595.10,566.50 L596.10,566.50 L597.10,566.50 L598.10,566.50 L599.10,566.50 L600.10,566.50 L601.10,566.50 L602.10,566.50 L603.10,566.50 L604.10,566.50 L605.10,566.50 L606.10,566.50 L607.10,566.50 L608.10,566.50 L609.10,566.50 L610.10,566.50 L611.10,566.50 L612.10,566.50 L613.10,566.50 L614.10,566.50 L615.10,566.50 L616.10,566.50 L617.10,566.50 L618.10,566.50 L619.10,566.50 L620.10,566.50 L621.10,566.50 L622.10,566.50 L623.10,566.50 L624.10,566.50 L625.10,566.50 L626.10,566.50 L627.10,566.50 L628.10,566.50 L629.10,566.50 L630.10,566.50 L631.10,566.50 L632.10,566.50 L633.10,566.50 L634.10,566.50 L635.10,566.50 L636.10,566.50 L637.10,566.50 L638.10,566.50 L639.10,566.50 L640.10,566.50 L641.10,566.50 L642.10,566.50 L643.10,566.50 L644.10,566.50 L645.10,566.50 L646.10,566.50 L647.10,566.50 L648.10,566.50 L649.10,566.50 L650.10,566.50 L651.10,566.50 L652.10,566.50 L653.10,566.50 L654.10,566.50 L655.10,566.50 L656.10,566.50 L657.10,566.50 L658.10,566.50 L659.10,566.50 L660.10,566.50 L661.10,566.50 L662.10,566.50 L663.10,566.50 L664.10,566.50 L665.10,566.50 L666.10,566.50 L667.10,566.50 L668.10,566.50 L669.10,566.50 L670.10,566.50 L671.10,566.50 L672.10,566.50 L673.10,566.50 L674.10,566.50 L675.10,566.50 L676.10,566.50 L677.10,566.50 L678.10,566.50 L679.10,566.50 L680.10,566.50 L681.10,566.50 L682.10,566.50 L683.10,566.50 L684.10,566.50 L685.10,566.50 L686.10,566.50 L687.10,566.50 L688.10,566.50 L689.10,566.50 L690.10,566.50 L691.10,566.50 L692.10,566.50 L693.10,566.50 L694.10,566.50 L695.10,566.50 L696.10,566.50 L697.10,566.50 L698.10,566.50 L699.10,566.50 L700.10,566.50 L701.10,566.50 L702.10,566.50 L703.10,566.50 L704.10,566.50 L705.10,566.50 L706.10,566.50 L707.10,566.50 L708.10,566.50 L709.10,566.50 L710.10,566.50 L711.10,566.50 L712.10,566.50 L713.10,566.50 L714.10,566.50 L715.10,566.50 L716.10,566.50 L717.10,566.50 L718.10,566.50 L719.10,566.50 L720.10,566.50 L721.10,566.50 L722.10,566.50 L723.10,566.50 L724.10,566.50 L725.10,566.50 L726.10,566.50 L727.10,566.50 L728.10,566.50 L729.10,566.50 L730.10,566.50 L731.10,566.50 L732.10,566.50 L733.10,566.50 L734.10,566.50 L735.10,566.50 L736.10,566.50 L737.10,566.50 L738.10,566.50 L739.10,566.50 L740.10,566.50 L741.10,566.50 L742.10,566.50 L743.10,566.50 L744.10,566.50 L745.10,566.50 L746.10,566.50 L747.10,566.50 L748.10,566.50 L749.10,566.50 L750.10,566.50 L751.10,566.50 L752.10,566.50 L753.10,566.50 L754.10,566.50 L755.10,566.50 L756.10,566.50 L757.10,566.50 L758.10,566.50 L759.10,566.49 L760.10,566.49 L761.10,566.49 L762.10,566.49 L763.10,566.49 L764.10,566.49 L765.10,566.48 L766.10,566.48 L767.10,566.48 L768.10,566.47 L769.10,566.47 L770.10,566.46 L771.10,566.46 L772.10,566.45 L773.10,566.44 L774.10,566.43 L775.10,566.41 L776.10,566.40 L777.10,566.38 L778.10,566.36 L779.10,566.34 L780.10,566.32 L781.10,566.29 L782.10,566.26 L783.10,566.22 L784.10,566.17 L785.10,566.13 L786.10,566.07 L787.10,566.01 L788.10,565.94 L789.10,565.86 L790.10,565.77 L791.10,565.67 L792.10,565.55 L793.10,565.43 L794.10,565.29 L795.10,565.13 L796.10,564.95 L797.10,564.76 L798.10,564.55 L799.10,564.31 L800.10,564.05 L801.10,563.76 L802.10,563.44 L803.10,563.10 L804.10,562.72 L805.10,562.31 L806.10,561.86 L807.10,561.37 L808.10,560.84 L809.10,560.27 L810.10,559.65 L811.10,558.99 L812.10,558.27 L813.10,557.51 L814.10,556.69 L815.10,555.81 L816.10,554.88 L817.10,553.89 L818.10,552.84 L819.10,551.72 L820.10,550.55 L821.10,549.31 L822.10,548.02 L823.10,546.66 L824.10,545.24 L825.10,543.75 L826.10,542.21 L827.10,540.62 L828.10,538.96 L829.10,537.26 L830.10,535.50 L831.10,533.70 L832.10,531.85 L833.10,529.97 L834.10,528.06 L835.10,526.12 L836.10,524.16 L837.10,522.18 L838.10,520.19 L839.10,518.21 L840.10,516.23 L841.10,514.26 L842.10,512.31 L843.10,510.40 L844.10,508.52 L845.10,506.68 L846.10,504.90 L847.10,503.18 L848.10,501.53 L849.10,499.96 L850.10,498.48 L851.10,497.08 L852.10,495.79 L853.10,494.60 L854.10,493.52 L855.10,492.57 L856.10,491.73 L857.10,491.02 L858.10,490.45 L859.10,490.01 L860.10,489.70 L861.10,489.53 L862.10,489.51 L863.10,489.62 L864.10,489.87 L865.10,490.26 L866.10,490.78 L867.10,491.43 L868.10,492.22 L869.10,493.13 L870.10,494.16 L871.10,495.30 L872.10,496.55 L873.10,497.91 L874.10,499.36 L875.10,500.90 L876.10,502.51 L877.10,504.21 L878.10,505.96 L879.10,507.78 L880.10,509.64 L881.10,511.54 L882.10,513.48 L883.10,515.44 L884.10,517.41 L885.10,519.40 L886.10,521.39 L887.10,523.37 L888.10,525.34 L889.10,527.29 L890.10,529.21 L891.10,531.11 L892.10,532.97 L893.10,534.78 L894.10,536.56 L895.10,538.29 L896.10,539.96 L897.10,541.58 L898.10,543.15 L899.10,544.65 L900.10,546.10 L901.10,547.48 L902.10,548.80 L903.10,550.06 L904.10,551.26 L905.10,552.40 L906.10,553.47 L907.10,554.49 L908.10,555.44 L909.10,556.34 L910.10,557.18 L911.10,557.97 L912.10,558.71 L913.10,559.39 L914.10,560.03 L915.10,560.62 L916.10,561.17 L917.10,561.67 L918.10,562.13 L919.10,562.56 L920.10,562.95 L921.10,563.31 L922.10,563.64 L923.10,563.94 L924.10,564.21 L925.10,564.45 L926.10,564.68 L927.10,564.88 L928.10,565.06 L929.10,565.22 L930.10,565.37 L931.10,565.50 L932.10,565.62 L933.10,565.73 L934.10,565.82 L935.10,565.91 L936.10,565.98 L937.10,566.05 L938.10,566.10 L939.10,566.16 L940.10,566.20 L941.10,566.24 L942.10,566.28 L943.10,566.31 L944.10,566.33 L945.10,566.36 L946.10,566.38 L947.10,566.39 L948.10,566.41 L949.10,566.42 L950.10,566.43 L951.10,566.44 L952.10,566.45 L953.10,566.46 L954.10,566.47 L955.10,566.47 L956.10,566.48 L957.10,566.48 L958.10,566.48 L959.10,566.49 L960.10,566.49 L961.10,566.49 L962.10,566.49 L963.10,566.49 L964.10,566.49 L965.10,566.50 L966.10,566.50 L967.10,566.50 L968.10,566.50 L969.10,566.50 L970.10,566.50 L971.10,566.50 L972.10,566.50 L973.10,566.50 L974.10,566.50 L975.10,566.50 L976.10,566.50 L977.10,566.50 L978.10,566.50 L979.10,566.50 L980.10,566.50 L981.10,566.50 L982.10,566.50 L983.10,566.50 L984.10,566.50 L985.10,566.50 L986.10,566.50 L987.10,566.50 L988.10,566.50 L989.10,566.50 L990.10,566.50 L991.10,566.50 L992.10,566.50 L993.10,566.50 L994.10,566.50 L995.10,566.50 L996.10,566.50 L997.10,566.50 L998.10,566.50 L999.10,566.50 L1000.10,566.50 L1001.10,566.50 L1002.10,566.50" fill="none" stroke="#00ff00" stroke-width="3.6" stroke-linejoin="round" stroke-linecap="round" />
<path d="M546.10,566.50 L547.10,566.50 L548.10,566.50 L549.10,566.50 L550.10,566.50 L551.10,566.50 L552.10,566.50 L553.10,566.50 L554.10,566.50 L555.10,566.50 L556.10,566.50 L557.10,566.50 L558.10,566.50 L559.10,566.50 L560.10,566.50 L561.10,566.50 L562.10,566.50 L563.10,566.50 L564.10,566.50 L565.10,566.50 L566.10,566.50 L567.10,566.50 L568.10,566.50 L569.10,566.50 L570.10,566.50 L571.10,566.50 L572.10,566.50 L573.10,566.50 L574.10,566.50 L575.10,566.50 L576.10,566.50 L577.10,566.50 L578.10,566.50 L579.10,566.50 L580.10,566.50 L581.10,566.50 L582.10,566.50 L583.10,566.50 L584.10,566.50 L585.10,566.50 L586.10,566.50 L587.10,566.50 L588.10,566.50 L589.10,566.50 L590.10,566.50 L591.10,566.50 L592.10,566.50 L593.10,566.50 L594.10,566.50 L595.10,566.50 L596.10,566.50 L597.10,566.50 L598.10,566.50 L599.10,566.50 L600.10,566.50 L601.10,566.50 L602.10,566.50 L603.10,566.49 L604.10,566.49 L605.10,566.49 L606.10,566.49 L607.10,566.49 L608.10,566.49 L609.10,566.49 L610.10,566.48 L611.10,566.48 L612.10,566.48 L613.10,566.47 L614.10,566.47 L615.10,566.47 L616.10,566.46 L617.10,566.45 L618.10,566.45 L619.10,566.44 L620.10,566.43 L621.10,566.42 L622.10,566.41 L623.10,566.39 L624.10,566.38 L625.10,566.36 L626.10,566.34 L627.10,566.32 L628.10,566.29 L629.10,566.26 L630.10,566.23 L631.10,566.19 L632.10,566.15 L633.10,566.11 L634.10,566.06 L635.10,566.00 L636.10,565.94 L637.10,565.87 L638.10,565.79 L639.10,565.70 L640.10,565.61 L641.10,565.50 L642.10,565.39 L643.10,565.26 L644.10,565.12 L645.10,564.97 L646.10,564.80 L647.10,564.61 L648.10,564.41 L649.10,564.19 L650.10,563.95 L651.10,563.70 L652.10,563.42 L653.10,563.11 L654.10,562.79 L655.10,562.43 L656.10,562.05 L657.10,561.64 L658.10,561.21 L659.10,560.74 L660.10,560.23 L661.10,559.70 L662.10,559.13 L663.10,558.52 L664.10,557.88 L665.10,557.20 L666.10,556.48 L667.10,555.72 L668.10,554.92 L669.10,554.08 L670.10,553.20 L671.10,552.27 L672.10,551.31 L673.10,550.30 L674.10,549.25 L675.10,548.16 L676.10,547.03 L677.10,545.86 L678.10,544.66 L679.10,543.41 L680.10,542.14 L681.10,540.83 L682.10,539.49 L683.10,538.12 L684.10,536.73 L685.10,535.31 L686.10,533.88 L687.10,532.43 L688.10,530.96 L689.10,529.49 L690.10,528.02 L691.10,526.55 L692.10,525.08 L693.10,523.62 L694.10,522.17 L695.10,520.75 L696.10,519.35 L697.10,517.97 L698.10,516.64 L699.10,515.34 L700.10,514.08 L701.10,512.87 L702.10,511.72 L703.10,510.62 L704.10,509.58 L705.10,508.62 L706.10,507.72 L707.10,506.90 L708.10,506.15 L709.10,505.49 L710.10,504.91 L711.10,504.41 L712.10,504.01 L713.10,503.69 L714.10,503.47 L715.10,503.34 L716.10,503.30 L717.10,503.36 L718.10,503.51 L719.10,503.75 L720.10,504.08 L721.10,504.50 L722.10,505.02 L723.10,505.61 L724.10,506.29 L725.10,507.05 L726.10,507.89 L727.10,508.80 L728.10,509.79 L729.10,510.83 L730.10,511.94 L731.10,513.11 L732.10,514.33 L733.10,515.59 L734.10,516.90 L735.10,518.25 L736.10,519.63 L737.10,521.03 L738.10,522.46 L739.10,523.91 L740.10,525.37 L741.10,526.84 L742.10,528.31 L743.10,529.79 L744.10,531.26 L745.10,532.72 L746.10,534.16 L747.10,535.60 L748.10,537.01 L749.10,538.40 L750.10,539.76 L751.10,541.09 L752.10,542.40 L753.10,543.67 L754.10,544.90 L755.10,546.10 L756.10,547.26 L757.10,548.38 L758.10,549.46 L759.10,550.50 L760.10,551.50 L761.10,552.46 L762.10,553.38 L763.10,554.25 L764.10,555.08 L765.10,555.88 L766.10,556.63 L767.10,557.34 L768.10,558.01 L769.10,558.65 L770.10,559.25 L771.10,559.81 L772.10,560.34 L773.10,560.83 L774.10,561.30 L775.10,561.73 L776.10,562.13 L777.10,562.50 L778.10,562.85 L779.10,563.18 L780.10,563.47 L781.10,563.75 L782.10,564.00 L783.10,564.24 L784.10,564.45 L785.10,564.65 L786.10,564.83 L787.10,565.00 L788.10,565.15 L789.10,565.29 L790.10,565.41 L791.10,565.52 L792.10,565.63 L793.10,565.72 L794.10,565.81 L795.10,565.88 L796.10,565.95 L797.10,566.01 L798.10,566.07 L799.10,566.12 L800.10,566.16 L801.10,566.20 L802.10,566.24 L803.10,566.27 L804.10,566.30 L805.10,566.32 L806.10,566.34 L807.10,566.36 L808.10,566.38 L809.10,566.40 L810.10,566.41 L811.10,566.42 L812.10,566.43 L813.10,566.44 L814.10,566.45 L815.10,566.46 L816.10,566.46 L817.10,566.47 L818.10,566.47 L819.10,566.48 L820.10,566.48 L821.10,566.48 L822.10,566.48 L823.10,566.49 L824.10,566.49 L825.10,566.49 L826.10,566.49 L827.10,566.49 L828.10,566.49 L829.10,566.50 L830.10,566.50 L831.10,566.50 L832.10,566.50 L833.10,566.50 L834.10,566.50 L835.10,566.50 L836.10,566.50 L837.10,566.50 L838.10,566.50 L839.10,566.50 L840.10,566.50 L841.10,566.50 L842.10,566.50 L843.10,566.50 L844.10,566.50 L845.10,566.50 L846.10,566.50 L847.10,566.50 L848.10,566.50 L849.10,566.50 L850.10,566.50 L851.10,566.50 L852.10,566.50 L853.10,566.50 L854.10,566.50 L855.10,566.50 L856.10,566.50 L857.10,566.50 L858.10,566.50 L859.10,566.50 L860.10,566.50 L861.10,566.50 L862.10,566.50 L863.10,566.50 L864.10,566.50 L865.10,566.50 L866.10,566.50 L867.10,566.50 L868.10,566.50 L869.10,566.50 L870.10,566.50 L871.10,566.50 L872.10,566.50 L873.10,566.50 L874.10,566.50 L875.10,566.50 L876.10,566.50 L877.10,566.50 L878.10,566.50 L879.10,566.50 L880.10,566.50 L881.10,566.50 L882.10,566.50 L883.10,566.50 L884.10,566.50 L885.10,566.50 L886.10,566.50 L887.10,566.50 L888.10,566.50 L889.10,566.50 L890.10,566.50 L891.10,566.50 L892.10,566.50 L893.10,566.50 L894.10,566.50 L895.10,566.50 L896.10,566.50 L897.10,566.50 L898.10,566.50 L899.10,566.50 L900.10,566.50 L901.10,566.50 L902.10,566.50 L903.10,566.50 L904.10,566.50 L905.10,566.50 L906.10,566.50 L907.10,566.50 L908.10,566.50 L909.10,566.50 L910.10,566.50 L911.10,566.50 L912.10,566.50 L913.10,566.50 L914.10,566.50 L915.10,566.50 L916.10,566.50 L917.10,566.50 L918.10,566.50 L919.10,566.50 L920.10,566.50 L921.10,566.50 L922.10,566.50 L923.10,566.50 L924.10,566.50 L925.10,566.50 L926.10,566.50 L927.10,566.50 L928.10,566.50 L929.10,566.50 L930.10,566.50 L931.10,566.50 L932.10,566.50 L933.10,566.50 L934.10,566.50 L935.10,566.50 L936.10,566.50 L937.10,566.50 L938.10,566.50 L939.10,566.50 L940.10,566.50 L941.10,566.50 L942.10,566.50 L943.10,566.50 L944.10,566.50 L945.10,566.50 L946.10,566.50 L947.10,566.50 L948.10,566.50 L949.10,566.50 L950.10,566.50 L951.10,566.50 L952.10,566.50 L953.10,566.50 L954.10,566.50 L955.10,566.50 L956.10,566.50 L957.10,566.50 L958.10,566.50 L959.10,566.50 L960.10,566.50 L961.10,566.50 L962.10,566.50 L963.10,566.50 L964.10,566.50 L965.10,566.50 L966.10,566.50 L967.10,566.50 L968.10,566.50 L969.10,566.50 L970.10,566.50 L971.10,566.50 L972.10,566.50 L973.10,566.50 L974.10,566.50 L975.10,566.50 L976.10,566.50 L977.10,566.50 L978.10,566.50 L979.10,566.50 L980.10,566.50 L981.10,566.50 L982.10,566.50 L983.10,566.50 L984.10,566.50 L985.10,566.50 L986.10,566.50 L987.10,566.50 L988.10,566.50 L989.10,566.50 L990.10,566.50 L991.10,566.50 L992.10,566.50 L993.10,566.50 L994.10,566.50 L995.10,566.50 L996.10,566.50 L997.10,566.50 L998.10,566.50 L999.10,566.50 L1000.10,566.50 L1001.10,566.50 L1002.10,566.50" fill="none" stroke="#0000ff" stroke-width="3.6" stroke-linejoin="round" stroke-linecap="round" />
<path d="M546.10,566.49 L547.10,566.49 L548.10,566.49 L549.10,566.49 L550.10,566.49 L551.10,566.49 L552.10,566.49 L553.10,566.49 L554.10,566.49 L555.10,566.48 L556.10,566.48 L557.10,566.48 L558.10,566.48 L559.10,566.47 L560.10,566.47 L561.10,566.47 L562.10,566.46 L563.10,566.46 L564.10,566.46 L565.10,566.45 L566.10,566.44 L567.10,566.44 L568.10,566.43 L569.10,566.42 L570.10,566.42 L571.10,566.41 L572.10,566.40 L573.10,566.39 L574.10,566.37 L575.10,566.36 L576.10,566.35 L577.10,566.33 L578.10,566.32 L579.10,566.30 L580.10,566.28 L581.10,566.26 L582.10,566.24 L583.10,566.21 L584.10,566.19 L585.10,566.16 L586.10,566.13 L587.10,566.09 L588.10,566.06 L589.10,566.02 L590.10,565.98 L591.10,565.94 L592.10,565.89 L593.10,565.85 L594.10,565.79 L595.10,565.74 L596.10,565.68 L597.10,565.62 L598.10,565.56 L599.10,565.49 L600.10,565.41 L601.10,565.34 L602.10,565.26 L603.10,565.17 L604.10,565.08 L605.10,564.99 L606.10,564.89 L607.10,564.79 L608.10,564.69 L609.10,564.58 L610.10,564.46 L611.10,564.34 L612.10,564.22 L613.10,564.09 L614.10,563.96 L615.10,563.82 L616.10,563.68 L617.10,563.53 L618.10,563.38 L619.10,563.23 L620.10,563.07 L621.10,562.91 L622.10,562.75 L623.10,562.58 L624.10,562.41 L625.10,562.24 L626.10,562.07 L627.10,561.89 L628.10,561.71 L629.10,561.53 L630.10,561.35 L631.10,561.17 L632.10,560.99 L633.10,560.80 L634.10,560.62 L635.10,560.44 L636.10,560.26 L637.10,560.09 L638.10,559.91 L639.10,559.74 L640.10,559.57 L641.10,559.41 L642.10,559.25 L643.10,559.09 L644.10,558.94 L645.10,558.79 L646.10,558.65 L647.10,558.52 L648.10,558.39 L649.10,558.27 L650.10,558.16 L651.10,558.05 L652.10,557.96 L653.10,557.87 L654.10,557.79 L655.10,557.72 L656.10,557.66 L657.10,557.61 L658.10,557.57 L659.10,557.54 L660.10,557.51 L661.10,557.50 L662.10,557.50 L663.10,557.51 L664.10,557.53 L665.10,557.55 L666.10,557.59 L667.10,557.64 L668.10,557.70 L669.10,557.76 L670.10,557.84 L671.10,557.92 L672.10,558.02 L673.10,558.12 L674.10,558.23 L675.10,558.34 L676.10,558.47 L677.10,558.60 L678.10,558.74 L679.10,558.88 L680.10,559.03 L681.10,559.18 L682.10,559.34 L683.10,559.51 L684.10,559.67 L685.10,559.84 L686.10,560.02 L687.10,560.19 L688.10,560.37 L689.10,560.55 L690.10,560.73 L691.10,560.91 L692.10,561.10 L693.10,561.28 L694.10,561.46 L695.10,561.64 L696.10,561.82 L697.10,562.00 L698.10,562.17 L699.10,562.35 L700.10,562.52 L701.10,562.68 L702.10,562.85 L703.10,563.01 L704.10,563.17 L705.10,563.32 L706.10,563.47 L707.10,563.62 L708.10,563.76 L709.10,563.90 L710.10,564.04 L711.10,564.17 L712.10,564.29 L713.10,564.41 L714.10,564.53 L715.10,564.64 L716.10,564.75 L717.10,564.85 L718.10,564.95 L719.10,565.05 L720.10,565.14 L721.10,565.22 L722.10,565.31 L723.10,565.38 L724.10,565.46 L725.10,565.53 L726.10,565.59 L727.10,565.66 L728.10,565.72 L729.10,565.77 L730.10,565.83 L731.10,565.88 L732.10,565.92 L733.10,565.97 L734.10,566.01 L735.10,566.05 L736.10,566.08 L737.10,566.11 L738.10,566.15 L739.10,566.17 L740.10,566.20 L741.10,566.23 L742.10,566.25 L743.10,566.27 L744.10,566.29 L745.10,566.31 L746.10,566.33 L747.10,566.34 L748.10,566.36 L749.10,566.37 L750.10,566.38 L751.10,566.39 L752.10,566.40 L753.10,566.41 L754.10,566.42 L755.10,566.43 L756.10,566.44 L757.10,566.44 L758.10,566.45 L759.10,566.45 L760.10,566.46 L761.10,566.46 L762.10,566.47 L763.10,566.47 L764.10,566.47 L765.10,566.48 L766.10,566.48 L767.10,566.48 L768.10,566.48 L769.10,566.48 L770.10,566.49 L771.10,566.49 L772.10,566.49 L773.10,566.49 L774.10,566.49 L775.10,566.49 L776.10,566.49 L777.10,566.49 L778.10,566.50 L779.10,566.50 L780.10,566.50 L781.10,566.50 L782.10,566.50 L783.10,566.50 L784.10,566.50 L785.10,566.50 L786.10,566.50 L787.10,566.50 L788.10,566.50 L789.10,566.50 L790.10,566.50 L791.10,566.50 L792.10,566.50 L793.10,566.50 L794.10,566.50 L795.10,566.50 L796.10,566.50 L797.10,566.50 L798.10,566.50 L799.10,566.50 L800.10,566.50 L801.10,566.50 L802.10,566.50 L803.10,566.50 L804.10,566.50 L805.10,566.50 L806.10,566.50 L807.10,566.50 L808.10,566.50 L809.10,566.50 L810.10,566.50 L811.10,566.50 L812.10,566.50 L813.10,566.50 L814.10,566.50 L815.10,566.50 L816.10,566.50 L817.10,566.50 L818.10,566.50 L819.10,566.50 L820.10,566.50 L821.10,566.50 L822.10,566.50 L823.10,566.50 L824.10,566.50 L825.10,566.50 L826.10,566.50 L827.10,566.50 L828.10,566.50 L829.10,566.50 L830.10,566.50 L831.10,566.50 L832.10,566.50 L833.10,566.50 L834.10,566.50 L835.10,566.50 L836.10,566.50 L837.10,566.50 L838.10,566.50 L839.10,566.50 L840.10,566.50 L841.10,566.50 L842.10,566.50 L843.10,566.50 L844.10,566.50 L845.10,566.50 L846.10,566.50 L847.10,566.50 L848.10,566.50 L849.10,566.50 L850.10,566.50 L851.10,566.50 L852.10,566.50 L853.10,566.50 L854.10,566.50 L855.10,566.50 L856.10,566.50 L857.10,566.50 L858.10,566.50 L859.10,566.50 L860.10,566.50 L861.10,566.50 L862.10,566.50 L863.10,566.50 L864.10,566.50 L865.10,566.50 L866.10,566.50 L867.10,566.50 L868.10,566.50 L869.10,566.50 L870.10,566.50 L871.10,566.50 L872.10,566.50 L873.10,566.50 L874.10,566.50 L875.10,566.50 L876.10,566.50 L877.10,566.50 L878.10,566.50 L879.10,566.50 L880.10,566.50 L881.10,566.50 L882.10,566.50 L883.10,566.50 L884.10,566.50 L885.10,566.50 L886.10,566.50 L887.10,566.50 L888.10,566.50 L889.10,566.50 L890.10,566.50 L891.10,566.50 L892.10,566.50 L893.10,566.50 L894.10,566.50 L895.10,566.50 L896.10,566.50 L897.10,566.50 L898.10,566.50 L899.10,566.50 L900.10,566.50 L901.10,566.50 L902.10,566.50 L903.10,566.50 L904.10,566.50 L905.10,566.50 L906.10,566.50 L907.10,566.50 L908.10,566.50 L909.10,566.50 L910.10,566.50 L911.10,566.50 L912.10,566.50 L913.10,566.50 L914.10,566.50 L915.10,566.50 L916.10,566.50 L917.10,566.50 L918.10,566.50 L919.10,566.50 L920.10,566.50 L921.10,566.50 L922.10,566.50 L923.10,566.50 L924.10,566.50 L925.10,566.50 L926.10,566.50 L927.10,566.50 L928.10,566.50 L929.10,566.50 L930.10,566.50 L931.10,566.50 L932.10,566.50 L933.10,566.50 L934.10,566.50 L935.10,566.50 L936.10,566.50 L937.10,566.50 L938.10,566.50 L939.10,566.50 L940.10,566.50 L941.10,566.50 L942.10,566.50 L943.10,566.50 L944.10,566.50 L945.10,566.50 L946.10,566.50 L947.10,566.50 L948.10,566.50 L949.10,566.50 L950.10,566.50 L951.10,566.50 L952.10,566.50 L953.10,566.50 L954.10,566.50 L955.10,566.50 L956.10,566.50 L957.10,566.50 L958.10,566.50 L959.10,566.50 L960.10,566.50 L961.10,566.50 L962.10,566.50 L963.10,566.50 L964.10,566.50 L965.10,566.50 L966.10,566.50 L967.10,566.50 L968.10,566.50 L969.10,566.50 L970.10,566.50 L971.10,566.50 L972.10,566.50 L973.10,566.50 L974.10,566.50 L975.10,566.50 L976.10,566.50 L977.10,566.50 L978.10,566.50 L979.10,566.50 L980.10,566.50 L981.10,566.50 L982.10,566.50 L983.10,566.50 L984.10,566.50 L985.10,566.50 L986.10,566.50 L987.10,566.50 L988.10,566.50 L989.10,566.50 L990.10,566.50 L991.10,566.50 L992.10,566.50 L993.10,566.50 L994.10,566.50 L995.10,566.50 L996.10,566.50 L997.10,566.50 L998.10,566.50 L999.10,566.50 L1000.10,566.50 L1001.10,566.50 L1002.10,566.50" fill="none" stroke="#00ffff" stroke-width="3.6" stroke-linejoin="round" stroke-linecap="round" />
<path d="M540.30,563.70 L541.30,563.72 L542.30,563.75 L543.30,563.77 L544.30,563.80 L545.30,563.82 L546.30,563.85 L547.30,563.87 L548.30,563.90 L549.30,563.92 L550.30,563.95 L551.30,563.97 L552.30,563.99 L553.30,564.02 L554.30,564.04 L555.30,564.07 L556.30,564.09 L557.30,564.11 L558.30,564.13 L559.30,564.16 L560.30,564.18 L561.30,564.20 L562.30,564.22 L563.30,564.24 L564.30,564.27 L565.30,564.29 L566.30,564.31 L567.30,564.32 L568.30,564.34 L569.30,564.36 L570.30,564.38 L571.30,564.39 L572.30,564.41 L573.30,564.42 L574.30,564.44 L575.30,564.45 L576.30,564.46 L577.30,564.47 L578.30,564.48 L579.30,564.49 L580.30,564.49 L581.30,564.50 L582.30,564.50 L583.30,564.50 L584.30,564.50 L585.30,564.50 L586.30,564.49 L587.30,564.48 L588.30,564.47 L589.30,564.46 L590.30,564.45 L591.30,564.43 L592.30,564.41 L593.30,564.38 L594.30,564.36 L595.30,564.33 L596.30,564.29 L597.30,564.26 L598.30,564.22 L599.30,564.17 L600.30,564.12 L601.30,564.07 L602.30,564.01 L603.30,563.95 L604.30,563.89 L605.30,563.82 L606.30,563.75 L607.30,563.67 L608.30,563.58 L609.30,563.50 L610.30,563.40 L611.30,563.31 L612.30,563.20 L613.30,563.10 L614.30,562.98 L615.30,562.87 L616.30,562.74 L617.30,562.62 L618.30,562.49 L619.30,562.35 L620.30,562.21 L621.30,562.06 L622.30,561.91 L623.30,561.75 L624.30,561.59 L625.30,561.43 L626.30,561.26 L627.30,561.08 L628.30,560.90 L629.30,560.72 L630.30,560.53 L631.30,560.34 L632.30,560.14 L633.30,559.93 L634.30,559.73 L635.30,559.51 L636.30,559.30 L637.30,559.07 L638.30,558.85 L639.30,558.61 L640.30,558.37 L641.30,558.13 L642.30,557.87 L643.30,557.61 L644.30,557.34 L645.30,557.07 L646.30,556.78 L647.30,556.49 L648.30,556.19 L649.30,555.87 L650.30,555.54 L651.30,555.18 L652.30,554.80 L653.30,554.40 L654.30,553.99 L655.30,553.57 L656.30,553.12 L657.30,552.66 L658.30,552.17 L659.30,551.67 L660.30,551.14 L661.30,550.59 L662.30,550.01 L663.30,549.41 L664.30,548.78 L665.30,548.12 L666.30,547.43 L667.30,546.71 L668.30,545.96 L669.30,545.18 L670.30,544.37 L671.30,543.52 L672.30,542.64 L673.30,541.72 L674.30,540.78 L675.30,539.80 L676.30,538.78 L677.30,537.74 L678.30,536.66 L679.30,535.55 L680.30,534.42 L681.30,533.25 L682.30,532.06 L683.30,530.85 L684.30,529.61 L685.30,528.35 L686.30,527.08 L687.30,525.79 L688.30,524.50 L689.30,523.19 L690.30,521.88 L691.30,520.57 L692.30,519.26 L693.30,517.96 L694.30,516.67 L695.30,515.39 L696.30,514.13 L697.30,512.90 L698.30,511.69 L699.30,510.51 L700.30,509.36 L701.30,508.25 L702.30,507.17 L703.30,506.15 L704.30,505.16 L705.30,504.23 L706.30,503.34 L707.30,502.50 L708.30,501.72 L709.30,500.99 L710.30,500.31 L711.30,499.69 L712.30,499.12 L713.30,498.59 L714.30,498.12 L715.30,497.69 L716.30,497.30 L717.30,496.95 L718.30,496.63 L719.30,496.34 L720.30,496.08 L721.30,495.82 L722.30,495.58 L723.30,495.33 L724.30,495.08 L725.30,494.82 L726.30,494.52 L727.30,494.19 L728.30,493.82 L729.30,493.39 L730.30,492.90 L731.30,492.33 L732.30,491.68 L733.30,490.93 L734.30,490.08 L735.30,489.10 L736.30,488.01 L737.30,486.78 L738.30,485.40 L739.30,483.87 L740.30,482.19 L741.30,480.33 L742.30,478.31 L743.30,476.11 L744.30,473.73 L745.30,471.17 L746.30,468.43 L747.30,465.51 L748.30,462.40 L749.30,459.11 L750.30,455.65 L751.30,452.02 L752.30,448.23 L753.30,444.29 L754.30,440.20 L755.30,435.99 L756.30,431.65 L757.30,427.22 L758.30,422.69 L759.30,418.10 L760.30,413.45 L761.30,408.77 L762.30,404.08 L763.30,399.40 L764.30,394.75 L765.30,390.16 L766.30,385.64 L767.30,381.21 L768.30,376.91 L769.30,372.76 L770.30,368.77 L771.30,364.97 L772.30,361.38 L773.30,358.03 L774.30,354.92 L775.30,352.08 L776.30,349.54 L777.30,347.29 L778.30,345.36 L779.30,343.76 L780.30,342.50 L781.30,341.59 L782.30,341.03 L783.30,340.84 L784.30,341.01 L785.30,341.54 L786.30,342.43 L787.30,343.68 L788.30,345.29 L789.30,347.24 L790.30,349.52 L791.30,352.13 L792.30,355.04 L793.30,358.26 L794.30,361.75 L795.30,365.50 L796.30,369.49 L797.30,373.70 L798.30,378.11 L799.30,382.70 L800.30,387.44 L801.30,392.31 L802.30,397.29 L803.30,402.35 L804.30,407.47 L805.30,412.62 L806.30,417.79 L807.30,422.94 L808.30,428.06 L809.30,433.12 L810.30,438.11 L811.30,443.00 L812.30,447.78 L813.30,452.43 L814.30,456.93 L815.30,461.26 L816.30,465.42 L817.30,469.39 L818.30,473.16 L819.30,476.72 L820.30,480.07 L821.30,483.19 L822.30,486.09 L823.30,488.76 L824.30,491.19 L825.30,493.39 L826.30,495.36 L827.30,497.10 L828.30,498.61 L829.30,499.90 L830.30,500.98 L831.30,501.84 L832.30,502.51 L833.30,502.99 L834.30,503.28 L835.30,503.40 L836.30,503.36 L837.30,503.18 L838.30,502.86 L839.30,502.41 L840.30,501.86 L841.30,501.21 L842.30,500.48 L843.30,499.69 L844.30,498.84 L845.30,497.95 L846.30,497.03 L847.30,496.11 L848.30,495.18 L849.30,494.27 L850.30,493.39 L851.30,492.54 L852.30,491.74 L853.30,491.00 L854.30,490.34 L855.30,489.75 L856.30,489.25 L857.30,488.85 L858.30,488.55 L859.30,488.35 L860.30,488.27 L861.30,488.30 L862.30,488.46 L863.30,488.73 L864.30,489.13 L865.30,489.65 L866.30,490.29 L867.30,491.06 L868.30,491.94 L869.30,492.93 L870.30,494.04 L871.30,495.25 L872.30,496.57 L873.30,497.98 L874.30,499.48 L875.30,501.06 L876.30,502.71 L877.30,504.44 L878.30,506.23 L879.30,508.06 L880.30,509.95 L881.30,511.87 L882.30,513.82 L883.30,515.79 L884.30,517.78 L885.30,519.77 L886.30,521.76 L887.30,523.74 L888.30,525.71 L889.30,527.66 L890.30,529.58 L891.30,531.47 L892.30,533.32 L893.30,535.14 L894.30,536.90 L895.30,538.62 L896.30,540.29 L897.30,541.90 L898.30,543.45 L899.30,544.94 L900.30,546.38 L901.30,547.75 L902.30,549.06 L903.30,550.31 L904.30,551.49 L905.30,552.62 L906.30,553.68 L907.30,554.68 L908.30,555.63 L909.30,556.52 L910.30,557.35 L911.30,558.12 L912.30,558.85 L913.30,559.52 L914.30,560.15 L915.30,560.73 L916.30,561.27 L917.30,561.76 L918.30,562.22 L919.30,562.64 L920.30,563.03 L921.30,563.38 L922.30,563.70 L923.30,563.99 L924.30,564.26 L925.30,564.50 L926.30,564.72 L927.30,564.92 L928.30,565.10 L929.30,565.26 L930.30,565.40 L931.30,565.53 L932.30,565.64 L933.30,565.75 L934.30,565.84 L935.30,565.92 L936.30,565.99 L937.30,566.06 L938.30,566.12 L939.30,566.17 L940.30,566.21 L941.30,566.25 L942.30,566.28 L943.30,566.31 L944.30,566.34 L945.30,566.36 L946.30,566.38 L947.30,566.40 L948.30,566.41 L949.30,566.42 L950.30,566.44 L951.30,566.45 L952.30,566.45 L953.30,566.46 L954.30,566.47 L955.30,566.47 L956.30,566.48 L957.30,566.48 L958.30,566.48 L959.30,566.49 L960.30,566.49 L961.30,566.49 L962.30,566.49 L963.30,566.49 L964.30,566.49 L965.30,566.50 L966.30,566.50 L967.30,566.50 L968.30,566.50 L969.30,566.50 L970.30,566.50 L971.30,566.50 L972.30,566.50 L973.30,566.50 L974.30,566.50 L975.30,566.50 L976.30,566.50 L977.30,566.50 L978.30,566.50 L979.30,566.50 L980.30,566.50 L981.30,566.50 L982.30,566.50 L983.30,566.50 L984.30,566.50 L985.30,566.50 L986.30,566.50 L987.30,566.50 L988.30,566.50 L989.30,566.50 L990.30,566.50 L991.30,566.50 L992.30,566.50 L993.30,566.50 L994.30,566.50 L995.30,566.50 L996.30,566.50 L997.30,566.50 L998.30,566.50 L999.30,566.50" fill="none" stroke="#000000" stroke-width="4.7" stroke-linejoin="round" stroke-linecap="round" />
<line x1="548.30" y1="607.60" x2="548.30" y2="886.20" stroke="#000000" stroke-width="2.0" stroke-linecap="butt"/>
<line x1="547.30" y1="611.80" x2="1004.30" y2="611.80" stroke="#000000" stroke-width="2.0" stroke-linecap="butt"/>
<line x1="1003.80" y1="608.10" x2="1003.80" y2="886.20" stroke="#000000" stroke-width="2.0" stroke-linecap="butt"/>
<line x1="547.80" y1="886.20" x2="998.20" y2="886.20" stroke="#000000" stroke-width="2.1" stroke-linecap="butt"/>
<line x1="548.30" y1="886.20" x2="548.30" y2="891.70" stroke="#000000" stroke-width="2" stroke-linecap="butt"/>
<line x1="593.29" y1="886.20" x2="593.29" y2="889.40" stroke="#000000" stroke-width="2" stroke-linecap="butt"/>
<line x1="638.28" y1="886.20" x2="638.28" y2="891.70" stroke="#000000" stroke-width="2" stroke-linecap="butt"/>
<line x1="683.27" y1="886.20" x2="683.27" y2="889.40" stroke="#000000" stroke-width="2" stroke-linecap="butt"/>
<line x1="728.26" y1="886.20" x2="728.26" y2="891.70" stroke="#000000" stroke-width="2" stroke-linecap="butt"/>
<line x1="773.25" y1="886.20" x2="773.25" y2="889.40" stroke="#000000" stroke-width="2" stroke-linecap="butt"/>
<line x1="818.24" y1="886.20" x2="818.24" y2="891.70" stroke="#000000" stroke-width="2" stroke-linecap="butt"/>
<line x1="863.23" y1="886.20" x2="863.23" y2="889.40" stroke="#000000" stroke-width="2" stroke-linecap="butt"/>
<line x1="908.22" y1="886.20" x2="908.22" y2="891.70" stroke="#000000" stroke-width="2" stroke-linecap="butt"/>
<line x1="953.21" y1="886.20" x2="953.21" y2="889.40" stroke="#000000" stroke-width="2" stroke-linecap="butt"/>
<line x1="998.20" y1="886.20" x2="998.20" y2="891.70" stroke="#000000" stroke-width="2" stroke-linecap="butt"/>
<path d="M549.30,856.61 L550.30,856.61 L551.30,856.62 L552.30,856.63 L553.30,856.63 L554.30,856.64 L555.30,856.65 L556.30,856.65 L557.30,856.66 L558.30,856.67 L559.30,856.67 L560.30,856.68 L561.30,856.69 L562.30,856.69 L563.30,856.70 L564.30,856.71 L565.30,856.71 L566.30,856.72 L567.30,856.73 L568.30,856.73 L569.30,856.74 L570.30,856.74 L571.30,856.75 L572.30,856.76 L573.30,856.76 L574.30,856.77 L575.30,856.78 L576.30,856.78 L577.30,856.79 L578.30,856.80 L579.30,856.80 L580.30,856.81 L581.30,856.82 L582.30,856.82 L583.30,856.83 L584.30,856.84 L585.30,856.84 L586.30,856.85 L587.30,856.86 L588.30,856.86 L589.30,856.87 L590.30,856.87 L591.30,856.88 L592.30,856.89 L593.30,856.89 L594.30,856.90 L595.30,856.91 L596.30,856.91 L597.30,856.92 L598.30,856.93 L599.30,856.93 L600.30,856.94 L601.30,856.95 L602.30,856.95 L603.30,856.96 L604.30,856.97 L605.30,856.97 L606.30,856.98 L607.30,856.99 L608.30,856.99 L609.30,857.00 L610.30,857.00 L611.30,857.01 L612.30,857.02 L613.30,857.02 L614.30,857.03 L615.30,857.04 L616.30,857.04 L617.30,857.05 L618.30,857.06 L619.30,857.06 L620.30,857.07 L621.30,857.08 L622.30,857.08 L623.30,857.09 L624.30,857.10 L625.30,857.10 L626.30,857.11 L627.30,857.12 L628.30,857.12 L629.30,857.13 L630.30,857.13 L631.30,857.14 L632.30,857.15 L633.30,857.15 L634.30,857.16 L635.30,857.17 L636.30,857.17 L637.30,857.18 L638.30,857.19 L639.30,857.19 L640.30,857.20 L641.30,857.21 L642.30,857.21 L643.30,857.22 L644.30,857.23 L645.30,857.23 L646.30,857.24 L647.30,857.25 L648.30,857.25 L649.30,857.26 L650.30,857.26 L651.30,857.27 L652.30,857.28 L653.30,857.28 L654.30,857.29 L655.30,857.30 L656.30,857.30 L657.30,857.31 L658.30,857.32 L659.30,857.32 L660.30,857.33 L661.30,857.33 L662.30,857.34 L663.30,857.34 L664.30,857.35 L665.30,857.36 L666.30,857.36 L667.30,857.37 L668.30,857.37 L669.30,857.38 L670.30,857.38 L671.30,857.38 L672.30,857.39 L673.30,857.39 L674.30,857.39 L675.30,857.39 L676.30,857.39 L677.30,857.39 L678.30,857.39 L679.30,857.39 L680.30,857.38 L681.30,857.37 L682.30,857.37 L683.30,857.36 L684.30,857.34 L685.30,857.33 L686.30,857.31 L687.30,857.28 L688.30,857.26 L689.30,857.22 L690.30,857.19 L691.30,857.14 L692.30,857.09 L693.30,857.04 L694.30,856.97 L695.30,856.90 L696.30,856.81 L697.30,856.71 L698.30,856.60 L699.30,856.48 L700.30,856.34 L701.30,856.18 L702.30,856.01 L703.30,855.81 L704.30,855.59 L705.30,855.35 L706.30,855.08 L707.30,854.77 L708.30,854.44 L709.30,854.07 L710.30,853.66 L711.30,853.21 L712.30,852.72 L713.30,852.18 L714.30,851.59 L715.30,850.94 L716.30,850.23 L717.30,849.46 L718.30,848.62 L719.30,847.71 L720.30,846.72 L721.30,845.66 L722.30,844.50 L723.30,843.26 L724.30,841.92 L725.30,840.49 L726.30,838.95 L727.30,837.30 L728.30,835.54 L729.30,833.66 L730.30,831.66 L731.30,829.54 L732.30,827.28 L733.30,824.90 L734.30,822.38 L735.30,819.72 L736.30,816.93 L737.30,813.99 L738.30,810.91 L739.30,807.68 L740.30,804.32 L741.30,800.81 L742.30,797.16 L743.30,793.37 L744.30,789.44 L745.30,785.38 L746.30,781.20 L747.30,776.89 L748.30,772.47 L749.30,767.93 L750.30,763.30 L751.30,758.57 L752.30,753.76 L753.30,748.88 L754.30,743.94 L755.30,738.95 L756.30,733.92 L757.30,728.87 L758.30,723.82 L759.30,718.77 L760.30,713.75 L761.30,708.76 L762.30,703.83 L763.30,698.97 L764.30,694.21 L765.30,689.54 L766.30,685.00 L767.30,680.60 L768.30,676.36 L769.30,672.29 L770.30,668.41 L771.30,664.74 L772.30,661.28 L773.30,658.06 L774.30,655.08 L775.30,652.37 L776.30,649.93 L777.30,647.77 L778.30,645.90 L779.30,644.33 L780.30,643.07 L781.30,642.12 L782.30,641.48 L783.30,641.17 L784.30,641.18 L785.30,641.50 L786.30,642.15 L787.30,643.11 L788.30,644.39 L789.30,645.97 L790.30,647.85 L791.30,650.02 L792.30,652.48 L793.30,655.21 L794.30,658.19 L795.30,661.43 L796.30,664.90 L797.30,668.59 L798.30,672.48 L799.30,676.56 L800.30,680.82 L801.30,685.23 L802.30,689.78 L803.30,694.46 L804.30,699.24 L805.30,704.11 L806.30,709.05 L807.30,714.05 L808.30,719.09 L809.30,724.15 L810.30,729.22 L811.30,734.28 L812.30,739.32 L813.30,744.32 L814.30,749.28 L815.30,754.17 L816.30,758.99 L817.30,763.73 L818.30,768.38 L819.30,772.93 L820.30,777.37 L821.30,781.69 L822.30,785.88 L823.30,789.96 L824.30,793.89 L825.30,797.70 L826.30,801.36 L827.30,804.88 L828.30,808.26 L829.30,811.50 L830.30,814.59 L831.30,817.54 L832.30,820.35 L833.30,823.02 L834.30,825.56 L835.30,827.95 L836.30,830.22 L837.30,832.36 L838.30,834.37 L839.30,836.26 L840.30,838.03 L841.30,839.70 L842.30,841.25 L843.30,842.70 L844.30,844.05 L845.30,845.30 L846.30,846.47 L847.30,847.55 L848.30,848.55 L849.30,849.47 L850.30,850.32 L851.30,851.11 L852.30,851.83 L853.30,852.49 L854.30,853.10 L855.30,853.65 L856.30,854.16 L857.30,854.62 L858.30,855.04 L859.30,855.42 L860.30,855.77 L861.30,856.08 L862.30,856.37 L863.30,856.63 L864.30,856.86 L865.30,857.07 L866.30,857.26 L867.30,857.43 L868.30,857.58 L869.30,857.72 L870.30,857.84 L871.30,857.95 L872.30,858.05 L873.30,858.13 L874.30,858.21 L875.30,858.28 L876.30,858.35 L877.30,858.40 L878.30,858.45 L879.30,858.50 L880.30,858.54 L881.30,858.57 L882.30,858.61 L883.30,858.64 L884.30,858.66 L885.30,858.69 L886.30,858.71 L887.30,858.73 L888.30,858.74 L889.30,858.76 L890.30,858.78 L891.30,858.79 L892.30,858.80 L893.30,858.81 L894.30,858.82 L895.30,858.84 L896.30,858.85 L897.30,858.85 L898.30,858.86 L899.30,858.87 L900.30,858.88 L901.30,858.89 L902.30,858.90 L903.30,858.90 L904.30,858.91 L905.30,858.92 L906.30,858.93 L907.30,858.93 L908.30,858.94 L909.30,858.95 L910.30,858.95 L911.30,858.96 L912.30,858.97 L913.30,858.97 L914.30,858.98 L915.30,858.99 L916.30,858.99 L917.30,859.00 L918.30,859.01 L919.30,859.01 L920.30,859.02 L921.30,859.03 L922.30,859.03 L923.30,859.04 L924.30,859.05 L925.30,859.05 L926.30,859.06 L927.30,859.07 L928.30,859.07 L929.30,859.08 L930.30,859.08 L931.30,859.09 L932.30,859.10 L933.30,859.10 L934.30,859.11 L935.30,859.12 L936.30,859.12 L937.30,859.13 L938.30,859.14 L939.30,859.14 L940.30,859.15 L941.30,859.16 L942.30,859.16 L943.30,859.17 L944.30,859.18 L945.30,859.18 L946.30,859.19 L947.30,859.20 L948.30,859.20 L949.30,859.21 L950.30,859.21 L951.30,859.22 L952.30,859.23 L953.30,859.23 L954.30,859.24 L955.30,859.25 L956.30,859.25 L957.30,859.26 L958.30,859.27 L959.30,859.27 L960.30,859.28 L961.30,859.29 L962.30,859.29 L963.30,859.30 L964.30,859.31 L965.30,859.31 L966.30,859.32 L967.30,859.33 L968.30,859.33 L969.30,859.34 L970.30,859.34 L971.30,859.35 L972.30,859.36 L973.30,859.36 L974.30,859.37 L975.30,859.38 L976.30,859.38 L977.30,859.39 L978.30,859.40 L979.30,859.40 L980.30,859.41 L981.30,859.42 L982.30,859.42 L983.30,859.43 L984.30,859.44 L985.30,859.44 L986.30,859.45 L987.30,859.46 L988.30,859.46 L989.30,859.47 L990.30,859.47 L991.30,859.48 L992.30,859.49 L993.30,859.49 L994.30,859.50 L995.30,859.51 L996.30,859.51 L997.30,859.52 L998.30,859.53 L999.30,859.53 L1000.30,859.54 L1001.30,859.55 L1002.30,859.55" fill="none" stroke="#ff0000" stroke-width="3.6" stroke-linejoin="round" stroke-linecap="round" />
<path d="M549.30,856.61 L550.30,856.61 L551.30,856.62 L552.30,856.63 L553.30,856.63 L554.30,856.64 L555.30,856.65 L556.30,856.65 L557.30,856.66 L558.30,856.67 L559.30,856.67 L560.30,856.68 L561.30,856.69 L562.30,856.69 L563.30,856.70 L564.30,856.71 L565.30,856.71 L566.30,856.72 L567.30,856.73 L568.30,856.73 L569.30,856.74 L570.30,856.74 L571.30,856.75 L572.30,856.76 L573.30,856.76 L574.30,856.77 L575.30,856.78 L576.30,856.78 L577.30,856.79 L578.30,856.80 L579.30,856.80 L580.30,856.81 L581.30,856.82 L582.30,856.82 L583.30,856.83 L584.30,856.84 L585.30,856.84 L586.30,856.85 L587.30,856.86 L588.30,856.86 L589.30,856.87 L590.30,856.87 L591.30,856.88 L592.30,856.89 L593.30,856.89 L594.30,856.90 L595.30,856.91 L596.30,856.91 L597.30,856.92 L598.30,856.93 L599.30,856.93 L600.30,856.94 L601.30,856.95 L602.30,856.95 L603.30,856.96 L604.30,856.97 L605.30,856.97 L606.30,856.98 L607.30,856.99 L608.30,856.99 L609.30,857.00 L610.30,857.00 L611.30,857.01 L612.30,857.02 L613.30,857.02 L614.30,857.03 L615.30,857.04 L616.30,857.04 L617.30,857.05 L618.30,857.06 L619.30,857.06 L620.30,857.07 L621.30,857.08 L622.30,857.08 L623.30,857.09 L624.30,857.10 L625.30,857.10 L626.30,857.11 L627.30,857.12 L628.30,857.12 L629.30,857.13 L630.30,857.13 L631.30,857.14 L632.30,857.15 L633.30,857.15 L634.30,857.16 L635.30,857.17 L636.30,857.17 L637.30,857.18 L638.30,857.19 L639.30,857.19 L640.30,857.20 L641.30,857.21 L642.30,857.21 L643.30,857.22 L644.30,857.23 L645.30,857.23 L646.30,857.24 L647.30,857.25 L648.30,857.25 L649.30,857.26 L650.30,857.26 L651.30,857.27 L652.30,857.28 L653.30,857.28 L654.30,857.29 L655.30,857.30 L656.30,857.30 L657.30,857.31 L658.30,857.32 L659.30,857.32 L660.30,857.33 L661.30,857.34 L662.30,857.34 L663.30,857.35 L664.30,857.36 L665.30,857.36 L666.30,857.37 L667.30,857.38 L668.30,857.38 L669.30,857.39 L670.30,857.39 L671.30,857.40 L672.30,857.41 L673.30,857.41 L674.30,857.42 L675.30,857.43 L676.30,857.43 L677.30,857.44 L678.30,857.45 L679.30,857.45 L680.30,857.46 L681.30,857.47 L682.30,857.47 L683.30,857.48 L684.30,857.49 L685.30,857.49 L686.30,857.50 L687.30,857.51 L688.30,857.51 L689.30,857.52 L690.30,857.52 L691.30,857.53 L692.30,857.54 L693.30,857.54 L694.30,857.55 L695.30,857.56 L696.30,857.56 L697.30,857.57 L698.30,857.58 L699.30,857.58 L700.30,857.59 L701.30,857.60 L702.30,857.60 L703.30,857.61 L704.30,857.62 L705.30,857.62 L706.30,857.63 L707.30,857.64 L708.30,857.64 L709.30,857.65 L710.30,857.65 L711.30,857.66 L712.30,857.67 L713.30,857.67 L714.30,857.68 L715.30,857.69 L716.30,857.69 L717.30,857.70 L718.30,857.71 L719.30,857.71 L720.30,857.72 L721.30,857.73 L722.30,857.73 L723.30,857.74 L724.30,857.75 L725.30,857.75 L726.30,857.76 L727.30,857.77 L728.30,857.77 L729.30,857.78 L730.30,857.78 L731.30,857.79 L732.30,857.80 L733.30,857.80 L734.30,857.81 L735.30,857.82 L736.30,857.82 L737.30,857.83 L738.30,857.84 L739.30,857.84 L740.30,857.85 L741.30,857.86 L742.30,857.86 L743.30,857.87 L744.30,857.88 L745.30,857.88 L746.30,857.89 L747.30,857.90 L748.30,857.90 L749.30,857.91 L750.30,857.91 L751.30,857.92 L752.30,857.93 L753.30,857.93 L754.30,857.94 L755.30,857.95 L756.30,857.95 L757.30,857.96 L758.30,857.96 L759.30,857.97 L760.30,857.97 L761.30,857.98 L762.30,857.98 L763.30,857.99 L764.30,857.99 L765.30,857.99 L766.30,858.00 L767.30,858.00 L768.30,858.00 L769.30,858.00 L770.30,858.00 L771.30,858.00 L772.30,857.99 L773.30,857.99 L774.30,857.98 L775.30,857.97 L776.30,857.95 L777.30,857.93 L778.30,857.91 L779.30,857.88 L780.30,857.85 L781.30,857.81 L782.30,857.77 L783.30,857.71 L784.30,857.65 L785.30,857.58 L786.30,857.49 L787.30,857.39 L788.30,857.28 L789.30,857.14 L790.30,856.99 L791.30,856.82 L792.30,856.62 L793.30,856.40 L794.30,856.14 L795.30,855.86 L796.30,855.53 L797.30,855.17 L798.30,854.76 L799.30,854.30 L800.30,853.80 L801.30,853.23 L802.30,852.60 L803.30,851.90 L804.30,851.13 L805.30,850.27 L806.30,849.33 L807.30,848.31 L808.30,847.18 L809.30,845.94 L810.30,844.60 L811.30,843.14 L812.30,841.56 L813.30,839.84 L814.30,837.99 L815.30,835.99 L816.30,833.85 L817.30,831.55 L818.30,829.10 L819.30,826.48 L820.30,823.69 L821.30,820.74 L822.30,817.61 L823.30,814.31 L824.30,810.83 L825.30,807.18 L826.30,803.36 L827.30,799.37 L828.30,795.21 L829.30,790.89 L830.30,786.42 L831.30,781.80 L832.30,777.05 L833.30,772.17 L834.30,767.18 L835.30,762.09 L836.30,756.92 L837.30,751.68 L838.30,746.39 L839.30,741.07 L840.30,735.74 L841.30,730.42 L842.30,725.13 L843.30,719.90 L844.30,714.75 L845.30,709.70 L846.30,704.77 L847.30,700.00 L848.30,695.40 L849.30,691.00 L850.30,686.81 L851.30,682.87 L852.30,679.20 L853.30,675.81 L854.30,672.72 L855.30,669.95 L856.30,667.52 L857.30,665.44 L858.30,663.72 L859.30,662.38 L860.30,661.41 L861.30,660.83 L862.30,660.64 L863.30,660.82 L864.30,661.33 L865.30,662.18 L866.30,663.36 L867.30,664.86 L868.30,666.68 L869.30,668.80 L870.30,671.22 L871.30,673.93 L872.30,676.91 L873.30,680.15 L874.30,683.63 L875.30,687.33 L876.30,691.24 L877.30,695.35 L878.30,699.62 L879.30,704.05 L880.30,708.61 L881.30,713.28 L882.30,718.05 L883.30,722.90 L884.30,727.81 L885.30,732.75 L886.30,737.71 L887.30,742.68 L888.30,747.64 L889.30,752.56 L890.30,757.44 L891.30,762.26 L892.30,767.01 L893.30,771.68 L894.30,776.25 L895.30,780.72 L896.30,785.07 L897.30,789.30 L898.30,793.39 L899.30,797.36 L900.30,801.18 L901.30,804.86 L902.30,808.39 L903.30,811.77 L904.30,815.00 L905.30,818.08 L906.30,821.01 L907.30,823.79 L908.30,826.43 L909.30,828.92 L910.30,831.26 L911.30,833.47 L912.30,835.54 L913.30,837.48 L914.30,839.30 L915.30,840.99 L916.30,842.57 L917.30,844.04 L918.30,845.40 L919.30,846.65 L920.30,847.82 L921.30,848.89 L922.30,849.87 L923.30,850.78 L924.30,851.61 L925.30,852.37 L926.30,853.06 L927.30,853.69 L928.30,854.27 L929.30,854.79 L930.30,855.26 L931.30,855.69 L932.30,856.08 L933.30,856.43 L934.30,856.74 L935.30,857.02 L936.30,857.28 L937.30,857.50 L938.30,857.71 L939.30,857.89 L940.30,858.05 L941.30,858.20 L942.30,858.32 L943.30,858.44 L944.30,858.54 L945.30,858.63 L946.30,858.71 L947.30,858.78 L948.30,858.84 L949.30,858.90 L950.30,858.95 L951.30,858.99 L952.30,859.03 L953.30,859.07 L954.30,859.10 L955.30,859.12 L956.30,859.15 L957.30,859.17 L958.30,859.19 L959.30,859.21 L960.30,859.23 L961.30,859.24 L962.30,859.25 L963.30,859.27 L964.30,859.28 L965.30,859.29 L966.30,859.30 L967.30,859.31 L968.30,859.32 L969.30,859.33 L970.30,859.34 L971.30,859.34 L972.30,859.35 L973.30,859.36 L974.30,859.37 L975.30,859.37 L976.30,859.38 L977.30,859.39 L978.30,859.39 L979.30,859.40 L980.30,859.41 L981.30,859.42 L982.30,859.42 L983.30,859.43 L984.30,859.44 L985.30,859.44 L986.30,859.45 L987.30,859.46 L988.30,859.46 L989.30,859.47 L990.30,859.47 L991.30,859.48 L992.30,859.49 L993.30,859.49 L994.30,859.50 L995.30,859.51 L996.30,859.51 L997.30,859.52 L998.30,859.53 L999.30,859.53 L1000.30,859.54 L1001.30,859.55 L1002.30,859.55" fill="none" stroke="#00ff00" stroke-width="3.6" stroke-linejoin="round" stroke-linecap="round" />
<path d="M549.30,856.61 L550.30,856.61 L551.30,856.62 L552.30,856.63 L553.30,856.63 L554.30,856.64 L555.30,856.65 L556.30,856.65 L557.30,856.66 L558.30,856.67 L559.30,856.67 L560.30,856.68 L561.30,856.69 L562.30,856.69 L563.30,856.70 L564.30,856.71 L565.30,856.71 L566.30,856.72 L567.30,856.73 L568.30,856.73 L569.30,856.74 L570.30,856.74 L571.30,856.75 L572.30,856.76 L573.30,856.76 L574.30,856.77 L575.30,856.78 L576.30,856.78 L577.30,856.79 L578.30,856.80 L579.30,856.80 L580.30,856.81 L581.30,856.82 L582.30,856.82 L583.30,856.83 L584.30,856.84 L585.30,856.84 L586.30,856.85 L587.30,856.86 L588.30,856.86 L589.30,856.87 L590.30,856.87 L591.30,856.88 L592.30,856.89 L593.30,856.89 L594.30,856.90 L595.30,856.91 L596.30,856.91 L597.30,856.92 L598.30,856.93 L599.30,856.93 L600.30,856.94 L601.30,856.95 L602.30,856.95 L603.30,856.96 L604.30,856.97 L605.30,856.97 L606.30,856.98 L607.30,856.98 L608.30,856.99 L609.30,857.00 L610.30,857.00 L611.30,857.01 L612.30,857.02 L613.30,857.02 L614.30,857.03 L615.30,857.03 L616.30,857.04 L617.30,857.05 L618.30,857.05 L619.30,857.06 L620.30,857.06 L621.30,857.07 L622.30,857.07 L623.30,857.08 L624.30,857.08 L625.30,857.08 L626.30,857.09 L627.30,857.09 L628.30,857.09 L629.30,857.09 L630.30,857.09 L631.30,857.09 L632.30,857.08 L633.30,857.08 L634.30,857.07 L635.30,857.07 L636.30,857.05 L637.30,857.04 L638.30,857.03 L639.30,857.01 L640.30,856.98 L641.30,856.96 L642.30,856.93 L643.30,856.89 L644.30,856.85 L645.30,856.80 L646.30,856.74 L647.30,856.68 L648.30,856.61 L649.30,856.52 L650.30,856.43 L651.30,856.33 L652.30,856.21 L653.30,856.08 L654.30,855.93 L655.30,855.77 L656.30,855.59 L657.30,855.39 L658.30,855.17 L659.30,854.93 L660.30,854.66 L661.30,854.37 L662.30,854.05 L663.30,853.71 L664.30,853.33 L665.30,852.92 L666.30,852.48 L667.30,852.00 L668.30,851.48 L669.30,850.93 L670.30,850.33 L671.30,849.70 L672.30,849.02 L673.30,848.30 L674.30,847.54 L675.30,846.73 L676.30,845.87 L677.30,844.97 L678.30,844.02 L679.30,843.03 L680.30,841.99 L681.30,840.91 L682.30,839.78 L683.30,838.61 L684.30,837.40 L685.30,836.16 L686.30,834.88 L687.30,833.56 L688.30,832.22 L689.30,830.85 L690.30,829.46 L691.30,828.05 L692.30,826.63 L693.30,825.21 L694.30,823.78 L695.30,822.35 L696.30,820.93 L697.30,819.52 L698.30,818.14 L699.30,816.78 L700.30,815.46 L701.30,814.17 L702.30,812.93 L703.30,811.73 L704.30,810.60 L705.30,809.53 L706.30,808.52 L707.30,807.59 L708.30,806.74 L709.30,805.97 L710.30,805.29 L711.30,804.70 L712.30,804.20 L713.30,803.80 L714.30,803.50 L715.30,803.30 L716.30,803.21 L717.30,803.21 L718.30,803.32 L719.30,803.53 L720.30,803.85 L721.30,804.26 L722.30,804.77 L723.30,805.37 L724.30,806.07 L725.30,806.85 L726.30,807.72 L727.30,808.66 L728.30,809.68 L729.30,810.76 L730.30,811.91 L731.30,813.11 L732.30,814.37 L733.30,815.67 L734.30,817.01 L735.30,818.38 L736.30,819.78 L737.30,821.20 L738.30,822.63 L739.30,824.07 L740.30,825.51 L741.30,826.95 L742.30,828.39 L743.30,829.81 L744.30,831.21 L745.30,832.59 L746.30,833.95 L747.30,835.27 L748.30,836.57 L749.30,837.83 L750.30,839.05 L751.30,840.23 L752.30,841.37 L753.30,842.46 L754.30,843.51 L755.30,844.52 L756.30,845.48 L757.30,846.40 L758.30,847.27 L759.30,848.09 L760.30,848.87 L761.30,849.60 L762.30,850.29 L763.30,850.94 L764.30,851.55 L765.30,852.11 L766.30,852.64 L767.30,853.13 L768.30,853.59 L769.30,854.01 L770.30,854.40 L771.30,854.76 L772.30,855.09 L773.30,855.40 L774.30,855.68 L775.30,855.93 L776.30,856.16 L777.30,856.38 L778.30,856.57 L779.30,856.75 L780.30,856.90 L781.30,857.05 L782.30,857.18 L783.30,857.30 L784.30,857.40 L785.30,857.50 L786.30,857.58 L787.30,857.66 L788.30,857.73 L789.30,857.79 L790.30,857.84 L791.30,857.89 L792.30,857.94 L793.30,857.98 L794.30,858.01 L795.30,858.05 L796.30,858.08 L797.30,858.10 L798.30,858.12 L799.30,858.15 L800.30,858.17 L801.30,858.18 L802.30,858.20 L803.30,858.21 L804.30,858.23 L805.30,858.24 L806.30,858.25 L807.30,858.26 L808.30,858.27 L809.30,858.28 L810.30,858.29 L811.30,858.30 L812.30,858.31 L813.30,858.32 L814.30,858.32 L815.30,858.33 L816.30,858.34 L817.30,858.35 L818.30,858.35 L819.30,858.36 L820.30,858.37 L821.30,858.37 L822.30,858.38 L823.30,858.39 L824.30,858.39 L825.30,858.40 L826.30,858.41 L827.30,858.41 L828.30,858.42 L829.30,858.43 L830.30,858.43 L831.30,858.44 L832.30,858.45 L833.30,858.45 L834.30,858.46 L835.30,858.47 L836.30,858.47 L837.30,858.48 L838.30,858.49 L839.30,858.49 L840.30,858.50 L841.30,858.51 L842.30,858.51 L843.30,858.52 L844.30,858.53 L845.30,858.53 L846.30,858.54 L847.30,858.55 L848.30,858.55 L849.30,858.56 L850.30,858.56 L851.30,858.57 L852.30,858.58 L853.30,858.58 L854.30,858.59 L855.30,858.60 L856.30,858.60 L857.30,858.61 L858.30,858.62 L859.30,858.62 L860.30,858.63 L861.30,858.64 L862.30,858.64 L863.30,858.65 L864.30,858.66 L865.30,858.66 L866.30,858.67 L867.30,858.68 L868.30,858.68 L869.30,858.69 L870.30,858.69 L871.30,858.70 L872.30,858.71 L873.30,858.71 L874.30,858.72 L875.30,858.73 L876.30,858.73 L877.30,858.74 L878.30,858.75 L879.30,858.75 L880.30,858.76 L881.30,858.77 L882.30,858.77 L883.30,858.78 L884.30,858.79 L885.30,858.79 L886.30,858.80 L887.30,858.81 L888.30,858.81 L889.30,858.82 L890.30,858.82 L891.30,858.83 L892.30,858.84 L893.30,858.84 L894.30,858.85 L895.30,858.86 L896.30,858.86 L897.30,858.87 L898.30,858.88 L899.30,858.88 L900.30,858.89 L901.30,858.90 L902.30,858.90 L903.30,858.91 L904.30,858.92 L905.30,858.92 L906.30,858.93 L907.30,858.94 L908.30,858.94 L909.30,858.95 L910.30,858.95 L911.30,858.96 L912.30,858.97 L913.30,858.97 L914.30,858.98 L915.30,858.99 L916.30,858.99 L917.30,859.00 L918.30,859.01 L919.30,859.01 L920.30,859.02 L921.30,859.03 L922.30,859.03 L923.30,859.04 L924.30,859.05 L925.30,859.05 L926.30,859.06 L927.30,859.07 L928.30,859.07 L929.30,859.08 L930.30,859.08 L931.30,859.09 L932.30,859.10 L933.30,859.10 L934.30,859.11 L935.30,859.12 L936.30,859.12 L937.30,859.13 L938.30,859.14 L939.30,859.14 L940.30,859.15 L941.30,859.16 L942.30,859.16 L943.30,859.17 L944.30,859.18 L945.30,859.18 L946.30,859.19 L947.30,859.20 L948.30,859.20 L949.30,859.21 L950.30,859.21 L951.30,859.22 L952.30,859.23 L953.30,859.23 L954.30,859.24 L955.30,859.25 L956.30,859.25 L957.30,859.26 L958.30,859.27 L959.30,859.27 L960.30,859.28 L961.30,859.29 L962.30,859.29 L963.30,859.30 L964.30,859.31 L965.30,859.31 L966.30,859.32 L967.30,859.33 L968.30,859.33 L969.30,859.34 L970.30,859.34 L971.30,859.35 L972.30,859.36 L973.30,859.36 L974.30,859.37 L975.30,859.38 L976.30,859.38 L977.30,859.39 L978.30,859.40 L979.30,859.40 L980.30,859.41 L981.30,859.42 L982.30,859.42 L983.30,859.43 L984.30,859.44 L985.30,859.44 L986.30,859.45 L987.30,859.46 L988.30,859.46 L989.30,859.47 L990.30,859.47 L991.30,859.48 L992.30,859.49 L993.30,859.49 L994.30,859.50 L995.30,859.51 L996.30,859.51 L997.30,859.52 L998.30,859.53 L999.30,859.53 L1000.30,859.54 L1001.30,859.55 L1002.30,859.55" fill="none" stroke="#0000ff" stroke-width="3.6" stroke-linejoin="round" stroke-linecap="round" />
<path d="M549.30,856.61 L550.30,856.61 L551.30,856.62 L552.30,856.63 L553.30,856.63 L554.30,856.64 L555.30,856.65 L556.30,856.65 L557.30,856.66 L558.30,856.67 L559.30,856.67 L560.30,856.68 L561.30,856.69 L562.30,856.69 L563.30,856.70 L564.30,856.70 L565.30,856.71 L566.30,856.72 L567.30,856.72 L568.30,856.73 L569.30,856.73 L570.30,856.74 L571.30,856.74 L572.30,856.75 L573.30,856.76 L574.30,856.76 L575.30,856.77 L576.30,856.77 L577.30,856.77 L578.30,856.78 L579.30,856.78 L580.30,856.78 L581.30,856.79 L582.30,856.79 L583.30,856.79 L584.30,856.79 L585.30,856.79 L586.30,856.79 L587.30,856.79 L588.30,856.78 L589.30,856.78 L590.30,856.77 L591.30,856.77 L592.30,856.76 L593.30,856.75 L594.30,856.73 L595.30,856.72 L596.30,856.70 L597.30,856.68 L598.30,856.66 L599.30,856.63 L600.30,856.60 L601.30,856.57 L602.30,856.53 L603.30,856.49 L604.30,856.44 L605.30,856.39 L606.30,856.33 L607.30,856.27 L608.30,856.20 L609.30,856.12 L610.30,856.03 L611.30,855.94 L612.30,855.84 L613.30,855.73 L614.30,855.61 L615.30,855.48 L616.30,855.34 L617.30,855.19 L618.30,855.03 L619.30,854.86 L620.30,854.67 L621.30,854.48 L622.30,854.27 L623.30,854.04 L624.30,853.80 L625.30,853.55 L626.30,853.28 L627.30,853.00 L628.30,852.71 L629.30,852.40 L630.30,852.07 L631.30,851.73 L632.30,851.37 L633.30,851.00 L634.30,850.61 L635.30,850.21 L636.30,849.80 L637.30,849.37 L638.30,848.93 L639.30,848.48 L640.30,848.01 L641.30,847.54 L642.30,847.05 L643.30,846.56 L644.30,846.06 L645.30,845.55 L646.30,845.04 L647.30,844.53 L648.30,844.01 L649.30,843.50 L650.30,842.98 L651.30,842.47 L652.30,841.96 L653.30,841.46 L654.30,840.97 L655.30,840.48 L656.30,840.01 L657.30,839.56 L658.30,839.12 L659.30,838.69 L660.30,838.29 L661.30,837.90 L662.30,837.54 L663.30,837.20 L664.30,836.89 L665.30,836.61 L666.30,836.35 L667.30,836.12 L668.30,835.92 L669.30,835.76 L670.30,835.63 L671.30,835.52 L672.30,835.46 L673.30,835.42 L674.30,835.42 L675.30,835.46 L676.30,835.52 L677.30,835.62 L678.30,835.76 L679.30,835.92 L680.30,836.12 L681.30,836.35 L682.30,836.61 L683.30,836.89 L684.30,837.21 L685.30,837.55 L686.30,837.92 L687.30,838.30 L688.30,838.71 L689.30,839.14 L690.30,839.59 L691.30,840.05 L692.30,840.53 L693.30,841.02 L694.30,841.53 L695.30,842.04 L696.30,842.55 L697.30,843.08 L698.30,843.61 L699.30,844.14 L700.30,844.66 L701.30,845.19 L702.30,845.72 L703.30,846.24 L704.30,846.76 L705.30,847.26 L706.30,847.77 L707.30,848.26 L708.30,848.74 L709.30,849.21 L710.30,849.67 L711.30,850.11 L712.30,850.55 L713.30,850.97 L714.30,851.37 L715.30,851.76 L716.30,852.14 L717.30,852.50 L718.30,852.84 L719.30,853.17 L720.30,853.49 L721.30,853.79 L722.30,854.07 L723.30,854.34 L724.30,854.60 L725.30,854.84 L726.30,855.07 L727.30,855.29 L728.30,855.49 L729.30,855.68 L730.30,855.86 L731.30,856.03 L732.30,856.19 L733.30,856.33 L734.30,856.47 L735.30,856.59 L736.30,856.71 L737.30,856.82 L738.30,856.92 L739.30,857.01 L740.30,857.10 L741.30,857.18 L742.30,857.25 L743.30,857.32 L744.30,857.38 L745.30,857.44 L746.30,857.49 L747.30,857.54 L748.30,857.59 L749.30,857.63 L750.30,857.66 L751.30,857.70 L752.30,857.73 L753.30,857.76 L754.30,857.79 L755.30,857.81 L756.30,857.83 L757.30,857.85 L758.30,857.87 L759.30,857.89 L760.30,857.91 L761.30,857.92 L762.30,857.94 L763.30,857.95 L764.30,857.96 L765.30,857.98 L766.30,857.99 L767.30,858.00 L768.30,858.01 L769.30,858.02 L770.30,858.03 L771.30,858.04 L772.30,858.04 L773.30,858.05 L774.30,858.06 L775.30,858.07 L776.30,858.08 L777.30,858.08 L778.30,858.09 L779.30,858.10 L780.30,858.11 L781.30,858.11 L782.30,858.12 L783.30,858.13 L784.30,858.13 L785.30,858.14 L786.30,858.15 L787.30,858.15 L788.30,858.16 L789.30,858.17 L790.30,858.17 L791.30,858.18 L792.30,858.19 L793.30,858.19 L794.30,858.20 L795.30,858.21 L796.30,858.21 L797.30,858.22 L798.30,858.23 L799.30,858.23 L800.30,858.24 L801.30,858.25 L802.30,858.25 L803.30,858.26 L804.30,858.27 L805.30,858.27 L806.30,858.28 L807.30,858.29 L808.30,858.29 L809.30,858.30 L810.30,858.30 L811.30,858.31 L812.30,858.32 L813.30,858.32 L814.30,858.33 L815.30,858.34 L816.30,858.34 L817.30,858.35 L818.30,858.36 L819.30,858.36 L820.30,858.37 L821.30,858.38 L822.30,858.38 L823.30,858.39 L824.30,858.40 L825.30,858.40 L826.30,858.41 L827.30,858.42 L828.30,858.42 L829.30,858.43 L830.30,858.43 L831.30,858.44 L832.30,858.45 L833.30,858.45 L834.30,858.46 L835.30,858.47 L836.30,858.47 L837.30,858.48 L838.30,858.49 L839.30,858.49 L840.30,858.50 L841.30,858.51 L842.30,858.51 L843.30,858.52 L844.30,858.53 L845.30,858.53 L846.30,858.54 L847.30,858.55 L848.30,858.55 L849.30,858.56 L850.30,858.56 L851.30,858.57 L852.30,858.58 L853.30,858.58 L854.30,858.59 L855.30,858.60 L856.30,858.60 L857.30,858.61 L858.30,858.62 L859.30,858.62 L860.30,858.63 L861.30,858.64 L862.30,858.64 L863.30,858.65 L864.30,858.66 L865.30,858.66 L866.30,858.67 L867.30,858.68 L868.30,858.68 L869.30,858.69 L870.30,858.69 L871.30,858.70 L872.30,858.71 L873.30,858.71 L874.30,858.72 L875.30,858.73 L876.30,858.73 L877.30,858.74 L878.30,858.75 L879.30,858.75 L880.30,858.76 L881.30,858.77 L882.30,858.77 L883.30,858.78 L884.30,858.79 L885.30,858.79 L886.30,858.80 L887.30,858.81 L888.30,858.81 L889.30,858.82 L890.30,858.82 L891.30,858.83 L892.30,858.84 L893.30,858.84 L894.30,858.85 L895.30,858.86 L896.30,858.86 L897.30,858.87 L898.30,858.88 L899.30,858.88 L900.30,858.89 L901.30,858.90 L902.30,858.90 L903.30,858.91 L904.30,858.92 L905.30,858.92 L906.30,858.93 L907.30,858.94 L908.30,858.94 L909.30,858.95 L910.30,858.95 L911.30,858.96 L912.30,858.97 L913.30,858.97 L914.30,858.98 L915.30,858.99 L916.30,858.99 L917.30,859.00 L918.30,859.01 L919.30,859.01 L920.30,859.02 L921.30,859.03 L922.30,859.03 L923.30,859.04 L924.30,859.05 L925.30,859.05 L926.30,859.06 L927.30,859.07 L928.30,859.07 L929.30,859.08 L930.30,859.08 L931.30,859.09 L932.30,859.10 L933.30,859.10 L934.30,859.11 L935.30,859.12 L936.30,859.12 L937.30,859.13 L938.30,859.14 L939.30,859.14 L940.30,859.15 L941.30,859.16 L942.30,859.16 L943.30,859.17 L944.30,859.18 L945.30,859.18 L946.30,859.19 L947.30,859.20 L948.30,859.20 L949.30,859.21 L950.30,859.21 L951.30,859.22 L952.30,859.23 L953.30,859.23 L954.30,859.24 L955.30,859.25 L956.30,859.25 L957.30,859.26 L958.30,859.27 L959.30,859.27 L960.30,859.28 L961.30,859.29 L962.30,859.29 L963.30,859.30 L964.30,859.31 L965.30,859.31 L966.30,859.32 L967.30,859.33 L968.30,859.33 L969.30,859.34 L970.30,859.34 L971.30,859.35 L972.30,859.36 L973.30,859.36 L974.30,859.37 L975.30,859.38 L976.30,859.38 L977.30,859.39 L978.30,859.40 L979.30,859.40 L980.30,859.41 L981.30,859.42 L982.30,859.42 L983.30,859.43 L984.30,859.44 L985.30,859.44 L986.30,859.45 L987.30,859.46 L988.30,859.46 L989.30,859.47 L990.30,859.47 L991.30,859.48 L992.30,859.49 L993.30,859.49 L994.30,859.50 L995.30,859.51 L996.30,859.51 L997.30,859.52 L998.30,859.53 L999.30,859.53 L1000.30,859.54 L1001.30,859.55 L1002.30,859.55" fill="none" stroke="#00ffff" stroke-width="3.6" stroke-linejoin="round" stroke-linecap="round" />
<path d="M546.60,854.69 L547.60,854.71 L548.60,854.74 L549.60,854.76 L550.60,854.79 L551.60,854.81 L552.60,854.84 L553.60,854.86 L554.60,854.89 L555.60,854.91 L556.60,854.94 L557.60,854.96 L558.60,854.98 L559.60,855.01 L560.60,855.03 L561.60,855.05 L562.60,855.08 L563.60,855.10 L564.60,855.12 L565.60,855.14 L566.60,855.16 L567.60,855.18 L568.60,855.20 L569.60,855.22 L570.60,855.24 L571.60,855.25 L572.60,855.27 L573.60,855.28 L574.60,855.30 L575.60,855.31 L576.60,855.32 L577.60,855.32 L578.60,855.33 L579.60,855.33 L580.60,855.33 L581.60,855.32 L582.60,855.32 L583.60,855.31 L584.60,855.29 L585.60,855.27 L586.60,855.25 L587.60,855.22 L588.60,855.19 L589.60,855.15 L590.60,855.11 L591.60,855.06 L592.60,855.01 L593.60,854.95 L594.60,854.88 L595.60,854.81 L596.60,854.73 L597.60,854.64 L598.60,854.54 L599.60,854.44 L600.60,854.33 L601.60,854.21 L602.60,854.08 L603.60,853.95 L604.60,853.80 L605.60,853.65 L606.60,853.49 L607.60,853.33 L608.60,853.15 L609.60,852.97 L610.60,852.77 L611.60,852.58 L612.60,852.37 L613.60,852.15 L614.60,851.93 L615.60,851.71 L616.60,851.47 L617.60,851.23 L618.60,850.98 L619.60,850.72 L620.60,850.46 L621.60,850.20 L622.60,849.92 L623.60,849.64 L624.60,849.36 L625.60,849.07 L626.60,848.77 L627.60,848.47 L628.60,848.16 L629.60,847.84 L630.60,847.52 L631.60,847.19 L632.60,846.86 L633.60,846.52 L634.60,846.17 L635.60,845.81 L636.60,845.45 L637.60,845.08 L638.60,844.70 L639.60,844.32 L640.60,843.92 L641.60,843.52 L642.60,843.11 L643.60,842.69 L644.60,842.26 L645.60,841.82 L646.60,841.38 L647.60,840.90 L648.60,840.42 L649.60,839.93 L650.60,839.42 L651.60,838.91 L652.60,838.39 L653.60,837.87 L654.60,837.33 L655.60,836.78 L656.60,836.23 L657.60,835.67 L658.60,835.10 L659.60,834.52 L660.60,833.93 L661.60,833.33 L662.60,832.72 L663.60,832.10 L664.60,831.48 L665.60,830.84 L666.60,830.19 L667.60,829.54 L668.60,828.87 L669.60,828.18 L670.60,827.49 L671.60,826.78 L672.60,826.06 L673.60,825.32 L674.60,824.57 L675.60,823.80 L676.60,823.02 L677.60,822.22 L678.60,821.39 L679.60,820.56 L680.60,819.70 L681.60,818.82 L682.60,817.92 L683.60,817.00 L684.60,816.07 L685.60,815.11 L686.60,814.13 L687.60,813.14 L688.60,812.13 L689.60,811.09 L690.60,810.05 L691.60,808.99 L692.60,807.91 L693.60,806.82 L694.60,805.73 L695.60,804.62 L696.60,803.51 L697.60,802.40 L698.60,801.29 L699.60,800.18 L700.60,799.08 L701.60,797.99 L702.60,796.92 L703.60,795.87 L704.60,794.83 L705.60,793.83 L706.60,792.86 L707.60,791.93 L708.60,791.03 L709.60,790.18 L710.60,789.38 L711.60,788.62 L712.60,787.92 L713.60,787.26 L714.60,786.66 L715.60,786.12 L716.60,785.62 L717.60,785.17 L718.60,784.76 L719.60,784.39 L720.60,784.05 L721.60,783.73 L722.60,783.43 L723.60,783.14 L724.60,782.84 L725.60,782.53 L726.60,782.20 L727.60,781.82 L728.60,781.40 L729.60,780.92 L730.60,780.37 L731.60,779.73 L732.60,778.99 L733.60,778.16 L734.60,777.20 L735.60,776.12 L736.60,774.90 L737.60,773.55 L738.60,772.04 L739.60,770.38 L740.60,768.56 L741.60,766.57 L742.60,764.42 L743.60,762.10 L744.60,759.62 L745.60,756.96 L746.60,754.15 L747.60,751.17 L748.60,748.03 L749.60,744.74 L750.60,741.30 L751.60,737.73 L752.60,734.03 L753.60,730.22 L754.60,726.29 L755.60,722.27 L756.60,718.17 L757.60,714.01 L758.60,709.79 L759.60,705.54 L760.60,701.27 L761.60,696.99 L762.60,692.74 L763.60,688.51 L764.60,684.34 L765.60,680.23 L766.60,676.22 L767.60,672.31 L768.60,668.53 L769.60,664.89 L770.60,661.41 L771.60,658.11 L772.60,655.01 L773.60,652.11 L774.60,649.44 L775.60,647.00 L776.60,644.82 L777.60,642.89 L778.60,641.24 L779.60,639.87 L780.60,638.78 L781.60,637.99 L782.60,637.49 L783.60,637.29 L784.60,637.39 L785.60,637.79 L786.60,638.49 L787.60,639.48 L788.60,640.76 L789.60,642.31 L790.60,644.14 L791.60,646.23 L792.60,648.57 L793.60,651.15 L794.60,653.95 L795.60,656.95 L796.60,660.15 L797.60,663.51 L798.60,667.03 L799.60,670.68 L800.60,674.44 L801.60,678.30 L802.60,682.22 L803.60,686.19 L804.60,690.19 L805.60,694.18 L806.60,698.16 L807.60,702.09 L808.60,705.96 L809.60,709.73 L810.60,713.40 L811.60,716.94 L812.60,720.33 L813.60,723.54 L814.60,726.56 L815.60,729.38 L816.60,731.97 L817.60,734.32 L818.60,736.41 L819.60,738.24 L820.60,739.78 L821.60,741.04 L822.60,742.01 L823.60,742.66 L824.60,743.02 L825.60,743.06 L826.60,742.79 L827.60,742.21 L828.60,741.32 L829.60,740.14 L830.60,738.66 L831.60,736.90 L832.60,734.86 L833.60,732.56 L834.60,730.02 L835.60,727.25 L836.60,724.27 L837.60,721.10 L838.60,717.77 L839.60,714.29 L840.60,710.69 L841.60,707.00 L842.60,703.24 L843.60,699.44 L844.60,695.63 L845.60,691.83 L846.60,688.09 L847.60,684.41 L848.60,680.84 L849.60,677.40 L850.60,674.11 L851.60,671.01 L852.60,668.12 L853.60,665.46 L854.60,663.06 L855.60,660.93 L856.60,659.09 L857.60,657.57 L858.60,656.37 L859.60,655.51 L860.60,655.00 L861.60,654.84 L862.60,655.05 L863.60,655.58 L864.60,656.42 L865.60,657.57 L866.60,659.04 L867.60,660.80 L868.60,662.87 L869.60,665.22 L870.60,667.86 L871.60,670.76 L872.60,673.92 L873.60,677.33 L874.60,680.96 L875.60,684.80 L876.60,688.85 L877.60,693.07 L878.60,697.45 L879.60,701.97 L880.60,706.62 L881.60,711.37 L882.60,716.21 L883.60,721.12 L884.60,726.07 L885.60,731.06 L886.60,736.06 L887.60,741.06 L888.60,746.04 L889.60,750.98 L890.60,755.87 L891.60,760.70 L892.60,765.46 L893.60,770.12 L894.60,774.69 L895.60,779.15 L896.60,783.49 L897.60,787.70 L898.60,791.79 L899.60,795.74 L900.60,799.54 L901.60,803.20 L902.60,806.71 L903.60,810.07 L904.60,813.29 L905.60,816.35 L906.60,819.26 L907.60,822.02 L908.60,824.63 L909.60,827.11 L910.60,829.44 L911.60,831.63 L912.60,833.69 L913.60,835.62 L914.60,837.42 L915.60,839.11 L916.60,840.68 L917.60,842.14 L918.60,843.49 L919.60,844.75 L920.60,845.91 L921.60,846.98 L922.60,847.97 L923.60,848.88 L924.60,849.71 L925.60,850.48 L926.60,851.18 L927.60,851.82 L928.60,852.40 L929.60,852.94 L930.60,853.42 L931.60,853.86 L932.60,854.27 L933.60,854.63 L934.60,854.96 L935.60,855.26 L936.60,855.53 L937.60,855.78 L938.60,856.00 L939.60,856.20 L940.60,856.38 L941.60,856.55 L942.60,856.70 L943.60,856.83 L944.60,856.96 L945.60,857.07 L946.60,857.17 L947.60,857.26 L948.60,857.35 L949.60,857.43 L950.60,857.50 L951.60,857.56 L952.60,857.63 L953.60,857.68 L954.60,857.74 L955.60,857.79 L956.60,857.83 L957.60,857.88 L958.60,857.92 L959.60,857.96 L960.60,858.00 L961.60,858.09 L962.60,858.19 L963.60,858.29 L964.60,858.38 L965.60,858.48 L966.60,858.57 L967.60,858.66 L968.60,858.75 L969.60,858.84 L970.60,858.93 L971.60,859.02 L972.60,859.10 L973.60,859.18 L974.60,859.24 L975.60,859.29 L976.60,859.31 L977.60,859.29 L978.60,859.23 L979.60,859.13 L980.60,859.00 L981.60,858.86 L982.60,858.74 L983.60,858.67 L984.60,858.67 L985.60,858.77 L986.60,858.95 L987.60,859.21 L988.60,859.51 L989.60,859.82 L990.60,860.11 L991.60,860.38 L992.60,860.60 L993.60,860.78 L994.60,860.93 L995.60,861.05 L996.60,861.16 L997.60,861.25 L998.60,861.34 L999.60,861.42 L1000.60,861.51" fill="none" stroke="#000000" stroke-width="4.4" stroke-linejoin="round" stroke-linecap="round" />
</svg></body></html>
